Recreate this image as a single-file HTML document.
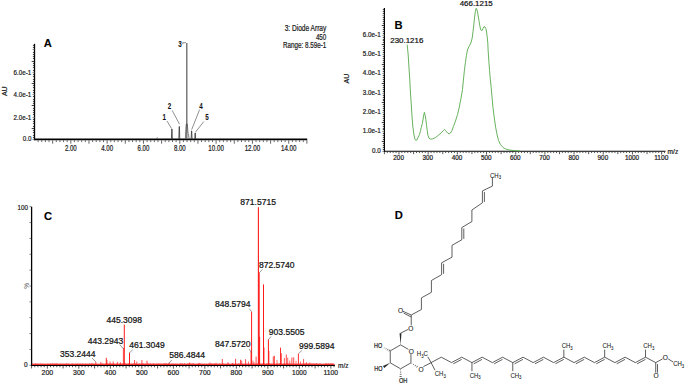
<!DOCTYPE html>
<html><head><meta charset="utf-8"><style>
html,body{margin:0;padding:0;background:#fff;}
svg{display:block;font-family:"Liberation Sans", sans-serif;}
</style></head><body>
<svg width="685" height="384" viewBox="0 0 685 384">
<rect width="685" height="384" fill="#fff"/>
<line x1="34.50" y1="43.80" x2="34.50" y2="140.30" stroke="#000" stroke-width="1.3"/>
<line x1="32.50" y1="139.50" x2="34.50" y2="139.50" stroke="#777" stroke-width="0.8"/>
<line x1="32.90" y1="137.50" x2="34.50" y2="137.50" stroke="#222" stroke-width="0.8"/>
<line x1="32.90" y1="135.50" x2="34.50" y2="135.50" stroke="#222" stroke-width="0.8"/>
<line x1="32.90" y1="132.50" x2="34.50" y2="132.50" stroke="#222" stroke-width="0.8"/>
<line x1="32.90" y1="130.50" x2="34.50" y2="130.50" stroke="#222" stroke-width="0.8"/>
<line x1="31.70" y1="128.50" x2="34.50" y2="128.50" stroke="#111" stroke-width="0.8"/>
<line x1="32.90" y1="126.50" x2="34.50" y2="126.50" stroke="#222" stroke-width="0.8"/>
<line x1="32.90" y1="123.50" x2="34.50" y2="123.50" stroke="#222" stroke-width="0.8"/>
<line x1="32.90" y1="121.50" x2="34.50" y2="121.50" stroke="#222" stroke-width="0.8"/>
<line x1="32.90" y1="119.50" x2="34.50" y2="119.50" stroke="#222" stroke-width="0.8"/>
<line x1="32.50" y1="117.50" x2="34.50" y2="117.50" stroke="#777" stroke-width="0.8"/>
<line x1="32.90" y1="114.50" x2="34.50" y2="114.50" stroke="#222" stroke-width="0.8"/>
<line x1="32.90" y1="112.50" x2="34.50" y2="112.50" stroke="#222" stroke-width="0.8"/>
<line x1="32.90" y1="110.50" x2="34.50" y2="110.50" stroke="#222" stroke-width="0.8"/>
<line x1="32.90" y1="108.50" x2="34.50" y2="108.50" stroke="#222" stroke-width="0.8"/>
<line x1="31.70" y1="105.50" x2="34.50" y2="105.50" stroke="#111" stroke-width="0.8"/>
<line x1="32.90" y1="103.50" x2="34.50" y2="103.50" stroke="#222" stroke-width="0.8"/>
<line x1="32.90" y1="101.50" x2="34.50" y2="101.50" stroke="#222" stroke-width="0.8"/>
<line x1="32.90" y1="99.50" x2="34.50" y2="99.50" stroke="#222" stroke-width="0.8"/>
<line x1="32.90" y1="96.50" x2="34.50" y2="96.50" stroke="#222" stroke-width="0.8"/>
<line x1="32.50" y1="94.50" x2="34.50" y2="94.50" stroke="#777" stroke-width="0.8"/>
<line x1="32.90" y1="92.50" x2="34.50" y2="92.50" stroke="#222" stroke-width="0.8"/>
<line x1="32.90" y1="90.50" x2="34.50" y2="90.50" stroke="#222" stroke-width="0.8"/>
<line x1="32.90" y1="87.50" x2="34.50" y2="87.50" stroke="#222" stroke-width="0.8"/>
<line x1="32.90" y1="85.50" x2="34.50" y2="85.50" stroke="#222" stroke-width="0.8"/>
<line x1="31.70" y1="83.50" x2="34.50" y2="83.50" stroke="#111" stroke-width="0.8"/>
<line x1="32.90" y1="81.50" x2="34.50" y2="81.50" stroke="#222" stroke-width="0.8"/>
<line x1="32.90" y1="79.50" x2="34.50" y2="79.50" stroke="#222" stroke-width="0.8"/>
<line x1="32.90" y1="76.50" x2="34.50" y2="76.50" stroke="#222" stroke-width="0.8"/>
<line x1="32.90" y1="74.50" x2="34.50" y2="74.50" stroke="#222" stroke-width="0.8"/>
<line x1="32.50" y1="72.50" x2="34.50" y2="72.50" stroke="#777" stroke-width="0.8"/>
<line x1="32.90" y1="70.50" x2="34.50" y2="70.50" stroke="#222" stroke-width="0.8"/>
<line x1="32.90" y1="67.50" x2="34.50" y2="67.50" stroke="#222" stroke-width="0.8"/>
<line x1="32.90" y1="65.50" x2="34.50" y2="65.50" stroke="#222" stroke-width="0.8"/>
<line x1="32.90" y1="63.50" x2="34.50" y2="63.50" stroke="#222" stroke-width="0.8"/>
<line x1="31.70" y1="61.50" x2="34.50" y2="61.50" stroke="#111" stroke-width="0.8"/>
<line x1="32.90" y1="58.50" x2="34.50" y2="58.50" stroke="#222" stroke-width="0.8"/>
<line x1="32.90" y1="56.50" x2="34.50" y2="56.50" stroke="#222" stroke-width="0.8"/>
<line x1="32.90" y1="54.50" x2="34.50" y2="54.50" stroke="#222" stroke-width="0.8"/>
<line x1="32.90" y1="52.50" x2="34.50" y2="52.50" stroke="#222" stroke-width="0.8"/>
<line x1="32.50" y1="49.50" x2="34.50" y2="49.50" stroke="#777" stroke-width="0.8"/>
<line x1="32.90" y1="47.50" x2="34.50" y2="47.50" stroke="#222" stroke-width="0.8"/>
<line x1="32.90" y1="45.50" x2="34.50" y2="45.50" stroke="#222" stroke-width="0.8"/>
<line x1="34.50" y1="139.40" x2="307.20" y2="139.40" stroke="#000" stroke-width="1.7"/>
<line x1="38.13" y1="140.30" x2="38.13" y2="142.10" stroke="#222" stroke-width="0.7"/>
<line x1="41.76" y1="140.30" x2="41.76" y2="142.10" stroke="#222" stroke-width="0.7"/>
<line x1="45.40" y1="140.30" x2="45.40" y2="142.10" stroke="#222" stroke-width="0.7"/>
<line x1="49.03" y1="140.30" x2="49.03" y2="142.10" stroke="#222" stroke-width="0.7"/>
<line x1="52.66" y1="140.30" x2="52.66" y2="143.70" stroke="#222" stroke-width="0.7"/>
<line x1="56.29" y1="140.30" x2="56.29" y2="142.10" stroke="#222" stroke-width="0.7"/>
<line x1="59.92" y1="140.30" x2="59.92" y2="142.10" stroke="#222" stroke-width="0.7"/>
<line x1="63.56" y1="140.30" x2="63.56" y2="142.10" stroke="#222" stroke-width="0.7"/>
<line x1="67.19" y1="140.30" x2="67.19" y2="142.10" stroke="#222" stroke-width="0.7"/>
<line x1="70.82" y1="140.30" x2="70.82" y2="143.70" stroke="#222" stroke-width="0.7"/>
<line x1="74.45" y1="140.30" x2="74.45" y2="142.10" stroke="#222" stroke-width="0.7"/>
<line x1="78.08" y1="140.30" x2="78.08" y2="142.10" stroke="#222" stroke-width="0.7"/>
<line x1="81.72" y1="140.30" x2="81.72" y2="142.10" stroke="#222" stroke-width="0.7"/>
<line x1="85.35" y1="140.30" x2="85.35" y2="142.10" stroke="#222" stroke-width="0.7"/>
<line x1="88.98" y1="140.30" x2="88.98" y2="143.70" stroke="#222" stroke-width="0.7"/>
<line x1="92.61" y1="140.30" x2="92.61" y2="142.10" stroke="#222" stroke-width="0.7"/>
<line x1="96.24" y1="140.30" x2="96.24" y2="142.10" stroke="#222" stroke-width="0.7"/>
<line x1="99.88" y1="140.30" x2="99.88" y2="142.10" stroke="#222" stroke-width="0.7"/>
<line x1="103.51" y1="140.30" x2="103.51" y2="142.10" stroke="#222" stroke-width="0.7"/>
<line x1="107.14" y1="140.30" x2="107.14" y2="143.70" stroke="#222" stroke-width="0.7"/>
<line x1="110.77" y1="140.30" x2="110.77" y2="142.10" stroke="#222" stroke-width="0.7"/>
<line x1="114.40" y1="140.30" x2="114.40" y2="142.10" stroke="#222" stroke-width="0.7"/>
<line x1="118.04" y1="140.30" x2="118.04" y2="142.10" stroke="#222" stroke-width="0.7"/>
<line x1="121.67" y1="140.30" x2="121.67" y2="142.10" stroke="#222" stroke-width="0.7"/>
<line x1="125.30" y1="140.30" x2="125.30" y2="143.70" stroke="#222" stroke-width="0.7"/>
<line x1="128.93" y1="140.30" x2="128.93" y2="142.10" stroke="#222" stroke-width="0.7"/>
<line x1="132.56" y1="140.30" x2="132.56" y2="142.10" stroke="#222" stroke-width="0.7"/>
<line x1="136.20" y1="140.30" x2="136.20" y2="142.10" stroke="#222" stroke-width="0.7"/>
<line x1="139.83" y1="140.30" x2="139.83" y2="142.10" stroke="#222" stroke-width="0.7"/>
<line x1="143.46" y1="140.30" x2="143.46" y2="143.70" stroke="#222" stroke-width="0.7"/>
<line x1="147.09" y1="140.30" x2="147.09" y2="142.10" stroke="#222" stroke-width="0.7"/>
<line x1="150.72" y1="140.30" x2="150.72" y2="142.10" stroke="#222" stroke-width="0.7"/>
<line x1="154.36" y1="140.30" x2="154.36" y2="142.10" stroke="#222" stroke-width="0.7"/>
<line x1="157.99" y1="140.30" x2="157.99" y2="142.10" stroke="#222" stroke-width="0.7"/>
<line x1="161.62" y1="140.30" x2="161.62" y2="143.70" stroke="#222" stroke-width="0.7"/>
<line x1="165.25" y1="140.30" x2="165.25" y2="142.10" stroke="#222" stroke-width="0.7"/>
<line x1="168.88" y1="140.30" x2="168.88" y2="142.10" stroke="#222" stroke-width="0.7"/>
<line x1="172.52" y1="140.30" x2="172.52" y2="142.10" stroke="#222" stroke-width="0.7"/>
<line x1="176.15" y1="140.30" x2="176.15" y2="142.10" stroke="#222" stroke-width="0.7"/>
<line x1="179.78" y1="140.30" x2="179.78" y2="143.70" stroke="#222" stroke-width="0.7"/>
<line x1="183.41" y1="140.30" x2="183.41" y2="142.10" stroke="#222" stroke-width="0.7"/>
<line x1="187.04" y1="140.30" x2="187.04" y2="142.10" stroke="#222" stroke-width="0.7"/>
<line x1="190.68" y1="140.30" x2="190.68" y2="142.10" stroke="#222" stroke-width="0.7"/>
<line x1="194.31" y1="140.30" x2="194.31" y2="142.10" stroke="#222" stroke-width="0.7"/>
<line x1="197.94" y1="140.30" x2="197.94" y2="143.70" stroke="#222" stroke-width="0.7"/>
<line x1="201.57" y1="140.30" x2="201.57" y2="142.10" stroke="#222" stroke-width="0.7"/>
<line x1="205.20" y1="140.30" x2="205.20" y2="142.10" stroke="#222" stroke-width="0.7"/>
<line x1="208.84" y1="140.30" x2="208.84" y2="142.10" stroke="#222" stroke-width="0.7"/>
<line x1="212.47" y1="140.30" x2="212.47" y2="142.10" stroke="#222" stroke-width="0.7"/>
<line x1="216.10" y1="140.30" x2="216.10" y2="143.70" stroke="#222" stroke-width="0.7"/>
<line x1="219.73" y1="140.30" x2="219.73" y2="142.10" stroke="#222" stroke-width="0.7"/>
<line x1="223.36" y1="140.30" x2="223.36" y2="142.10" stroke="#222" stroke-width="0.7"/>
<line x1="227.00" y1="140.30" x2="227.00" y2="142.10" stroke="#222" stroke-width="0.7"/>
<line x1="230.63" y1="140.30" x2="230.63" y2="142.10" stroke="#222" stroke-width="0.7"/>
<line x1="234.26" y1="140.30" x2="234.26" y2="143.70" stroke="#222" stroke-width="0.7"/>
<line x1="237.89" y1="140.30" x2="237.89" y2="142.10" stroke="#222" stroke-width="0.7"/>
<line x1="241.52" y1="140.30" x2="241.52" y2="142.10" stroke="#222" stroke-width="0.7"/>
<line x1="245.16" y1="140.30" x2="245.16" y2="142.10" stroke="#222" stroke-width="0.7"/>
<line x1="248.79" y1="140.30" x2="248.79" y2="142.10" stroke="#222" stroke-width="0.7"/>
<line x1="252.42" y1="140.30" x2="252.42" y2="143.70" stroke="#222" stroke-width="0.7"/>
<line x1="256.05" y1="140.30" x2="256.05" y2="142.10" stroke="#222" stroke-width="0.7"/>
<line x1="259.68" y1="140.30" x2="259.68" y2="142.10" stroke="#222" stroke-width="0.7"/>
<line x1="263.32" y1="140.30" x2="263.32" y2="142.10" stroke="#222" stroke-width="0.7"/>
<line x1="266.95" y1="140.30" x2="266.95" y2="142.10" stroke="#222" stroke-width="0.7"/>
<line x1="270.58" y1="140.30" x2="270.58" y2="143.70" stroke="#222" stroke-width="0.7"/>
<line x1="274.21" y1="140.30" x2="274.21" y2="142.10" stroke="#222" stroke-width="0.7"/>
<line x1="277.84" y1="140.30" x2="277.84" y2="142.10" stroke="#222" stroke-width="0.7"/>
<line x1="281.48" y1="140.30" x2="281.48" y2="142.10" stroke="#222" stroke-width="0.7"/>
<line x1="285.11" y1="140.30" x2="285.11" y2="142.10" stroke="#222" stroke-width="0.7"/>
<line x1="288.74" y1="140.30" x2="288.74" y2="143.70" stroke="#222" stroke-width="0.7"/>
<line x1="292.37" y1="140.30" x2="292.37" y2="142.10" stroke="#222" stroke-width="0.7"/>
<line x1="296.00" y1="140.30" x2="296.00" y2="142.10" stroke="#222" stroke-width="0.7"/>
<line x1="299.64" y1="140.30" x2="299.64" y2="142.10" stroke="#222" stroke-width="0.7"/>
<line x1="303.27" y1="140.30" x2="303.27" y2="142.10" stroke="#222" stroke-width="0.7"/>
<line x1="306.90" y1="140.30" x2="306.90" y2="143.70" stroke="#222" stroke-width="0.7"/>
<text x="31.30" y="75.13" font-size="7.8" text-anchor="end" fill="#1a1a1a" stroke="#1a1a1a" stroke-width="0.22" textLength="17.70" lengthAdjust="spacingAndGlyphs">6.0e-1</text>
<text x="31.30" y="97.03" font-size="7.8" text-anchor="end" fill="#1a1a1a" stroke="#1a1a1a" stroke-width="0.22" textLength="17.70" lengthAdjust="spacingAndGlyphs">4.0e-1</text>
<text x="31.30" y="119.63" font-size="7.8" text-anchor="end" fill="#1a1a1a" stroke="#1a1a1a" stroke-width="0.22" textLength="17.70" lengthAdjust="spacingAndGlyphs">2.0e-1</text>
<text x="31.50" y="141.13" font-size="7.8" text-anchor="end" fill="#1a1a1a" stroke="#1a1a1a" stroke-width="0.22" textLength="8.70" lengthAdjust="spacingAndGlyphs">0.0</text>
<text x="4.60" y="93.65" font-size="7.0" text-anchor="middle" fill="#1a1a1a" stroke="#1a1a1a" stroke-width="0.22" transform="rotate(-90 4.60 91.20)">AU</text>
<text x="70.82" y="150.50" font-size="8.3" text-anchor="middle" fill="#1a1a1a" stroke="#1a1a1a" stroke-width="0.22" textLength="11.80" lengthAdjust="spacingAndGlyphs">2.00</text>
<text x="107.14" y="150.50" font-size="8.3" text-anchor="middle" fill="#1a1a1a" stroke="#1a1a1a" stroke-width="0.22" textLength="11.80" lengthAdjust="spacingAndGlyphs">4.00</text>
<text x="143.46" y="150.50" font-size="8.3" text-anchor="middle" fill="#1a1a1a" stroke="#1a1a1a" stroke-width="0.22" textLength="11.80" lengthAdjust="spacingAndGlyphs">6.00</text>
<text x="179.78" y="150.50" font-size="8.3" text-anchor="middle" fill="#1a1a1a" stroke="#1a1a1a" stroke-width="0.22" textLength="11.80" lengthAdjust="spacingAndGlyphs">8.00</text>
<text x="216.10" y="150.50" font-size="8.3" text-anchor="middle" fill="#1a1a1a" stroke="#1a1a1a" stroke-width="0.22" textLength="15.50" lengthAdjust="spacingAndGlyphs">10.00</text>
<text x="252.42" y="150.50" font-size="8.3" text-anchor="middle" fill="#1a1a1a" stroke="#1a1a1a" stroke-width="0.22" textLength="15.50" lengthAdjust="spacingAndGlyphs">12.00</text>
<text x="288.74" y="150.50" font-size="8.3" text-anchor="middle" fill="#1a1a1a" stroke="#1a1a1a" stroke-width="0.22" textLength="15.50" lengthAdjust="spacingAndGlyphs">14.00</text>
<text x="43.80" y="46.92" font-size="11.2" text-anchor="start" fill="#000" stroke="#000" stroke-width="0.1" font-weight="bold">A</text>
<text x="326.30" y="30.94" font-size="8.4" text-anchor="end" fill="#1a1a1a" stroke="#1a1a1a" stroke-width="0.22" textLength="41.60" lengthAdjust="spacingAndGlyphs">3: Diode Array</text>
<text x="326.30" y="39.54" font-size="8.4" text-anchor="end" fill="#1a1a1a" stroke="#1a1a1a" stroke-width="0.22" textLength="10.40" lengthAdjust="spacingAndGlyphs">450</text>
<text x="326.30" y="47.94" font-size="8.4" text-anchor="end" fill="#1a1a1a" stroke="#1a1a1a" stroke-width="0.22" textLength="43.20" lengthAdjust="spacingAndGlyphs">Range: 8.59e-1</text>
<polyline points="171.45,138.90 171.80,129.00 172.00,129.00 172.35,138.90" fill="none" stroke="#333" stroke-width="0.8" stroke-linejoin="round"/>
<polyline points="178.85,138.90 179.20,126.50 179.40,126.50 179.75,138.90" fill="none" stroke="#333" stroke-width="0.8" stroke-linejoin="round"/>
<polyline points="191.15,138.90 191.50,130.90 191.70,130.90 192.05,138.90" fill="none" stroke="#333" stroke-width="0.8" stroke-linejoin="round"/>
<polyline points="194.75,138.90 195.10,133.00 195.30,133.00 195.65,138.90" fill="none" stroke="#333" stroke-width="0.8" stroke-linejoin="round"/>
<polyline points="156.40,138.90 157.10,137.60 157.30,137.60 158.00,138.90" fill="none" stroke="#666" stroke-width="0.6" stroke-linejoin="round"/>
<line x1="186.80" y1="42.90" x2="186.80" y2="139.00" stroke="#666" stroke-width="1.3"/>
<polyline points="185.40,138.90 185.80,129.50 186.30,124.00 187.30,124.00 187.70,129.00 188.10,133.50 188.60,135.00 189.10,138.90" fill="none" stroke="#444" stroke-width="0.7" stroke-linejoin="round"/>
<line x1="167.00" y1="121.00" x2="171.60" y2="128.60" stroke="#333" stroke-width="0.55"/>
<line x1="172.20" y1="110.40" x2="179.50" y2="124.20" stroke="#333" stroke-width="0.55"/>
<line x1="182.60" y1="42.70" x2="186.00" y2="42.70" stroke="#333" stroke-width="0.55"/>
<line x1="182.60" y1="42.70" x2="183.00" y2="44.20" stroke="#333" stroke-width="0.55"/>
<line x1="199.60" y1="109.60" x2="191.70" y2="129.60" stroke="#333" stroke-width="0.55"/>
<line x1="203.80" y1="121.50" x2="195.30" y2="132.40" stroke="#333" stroke-width="0.55"/>
<text x="164.20" y="120.28" font-size="8.8" text-anchor="middle" fill="#111" stroke="#111" stroke-width="0.05" font-weight="bold" textLength="3.50" lengthAdjust="spacingAndGlyphs">1</text>
<text x="169.40" y="109.08" font-size="8.8" text-anchor="middle" fill="#111" stroke="#111" stroke-width="0.05" font-weight="bold" textLength="3.50" lengthAdjust="spacingAndGlyphs">2</text>
<text x="179.90" y="46.68" font-size="8.8" text-anchor="middle" fill="#111" stroke="#111" stroke-width="0.05" font-weight="bold" textLength="3.50" lengthAdjust="spacingAndGlyphs">3</text>
<text x="201.00" y="109.08" font-size="8.8" text-anchor="middle" fill="#111" stroke="#111" stroke-width="0.05" font-weight="bold" textLength="3.50" lengthAdjust="spacingAndGlyphs">4</text>
<text x="206.90" y="120.08" font-size="8.8" text-anchor="middle" fill="#111" stroke="#111" stroke-width="0.05" font-weight="bold" textLength="3.50" lengthAdjust="spacingAndGlyphs">5</text>
<line x1="384.40" y1="7.90" x2="384.40" y2="152.05" stroke="#000" stroke-width="1.2"/>
<line x1="382.40" y1="151.50" x2="384.40" y2="151.50" stroke="#777" stroke-width="0.8"/>
<line x1="382.80" y1="149.50" x2="384.40" y2="149.50" stroke="#222" stroke-width="0.8"/>
<line x1="382.80" y1="147.50" x2="384.40" y2="147.50" stroke="#222" stroke-width="0.8"/>
<line x1="382.80" y1="145.50" x2="384.40" y2="145.50" stroke="#222" stroke-width="0.8"/>
<line x1="382.80" y1="143.50" x2="384.40" y2="143.50" stroke="#222" stroke-width="0.8"/>
<line x1="381.80" y1="141.50" x2="384.40" y2="141.50" stroke="#111" stroke-width="0.8"/>
<line x1="382.80" y1="139.50" x2="384.40" y2="139.50" stroke="#222" stroke-width="0.8"/>
<line x1="382.80" y1="137.50" x2="384.40" y2="137.50" stroke="#222" stroke-width="0.8"/>
<line x1="382.80" y1="135.50" x2="384.40" y2="135.50" stroke="#222" stroke-width="0.8"/>
<line x1="382.80" y1="133.50" x2="384.40" y2="133.50" stroke="#222" stroke-width="0.8"/>
<line x1="382.40" y1="131.50" x2="384.40" y2="131.50" stroke="#777" stroke-width="0.8"/>
<line x1="382.80" y1="129.50" x2="384.40" y2="129.50" stroke="#222" stroke-width="0.8"/>
<line x1="382.80" y1="128.50" x2="384.40" y2="128.50" stroke="#222" stroke-width="0.8"/>
<line x1="382.80" y1="126.50" x2="384.40" y2="126.50" stroke="#222" stroke-width="0.8"/>
<line x1="382.80" y1="124.50" x2="384.40" y2="124.50" stroke="#222" stroke-width="0.8"/>
<line x1="381.80" y1="122.50" x2="384.40" y2="122.50" stroke="#111" stroke-width="0.8"/>
<line x1="382.80" y1="120.50" x2="384.40" y2="120.50" stroke="#222" stroke-width="0.8"/>
<line x1="382.80" y1="118.50" x2="384.40" y2="118.50" stroke="#222" stroke-width="0.8"/>
<line x1="382.80" y1="116.50" x2="384.40" y2="116.50" stroke="#222" stroke-width="0.8"/>
<line x1="382.80" y1="114.50" x2="384.40" y2="114.50" stroke="#222" stroke-width="0.8"/>
<line x1="382.40" y1="112.50" x2="384.40" y2="112.50" stroke="#777" stroke-width="0.8"/>
<line x1="382.80" y1="110.50" x2="384.40" y2="110.50" stroke="#222" stroke-width="0.8"/>
<line x1="382.80" y1="108.50" x2="384.40" y2="108.50" stroke="#222" stroke-width="0.8"/>
<line x1="382.80" y1="106.50" x2="384.40" y2="106.50" stroke="#222" stroke-width="0.8"/>
<line x1="382.80" y1="104.50" x2="384.40" y2="104.50" stroke="#222" stroke-width="0.8"/>
<line x1="381.80" y1="102.50" x2="384.40" y2="102.50" stroke="#111" stroke-width="0.8"/>
<line x1="382.80" y1="100.50" x2="384.40" y2="100.50" stroke="#222" stroke-width="0.8"/>
<line x1="382.80" y1="99.50" x2="384.40" y2="99.50" stroke="#222" stroke-width="0.8"/>
<line x1="382.80" y1="97.50" x2="384.40" y2="97.50" stroke="#222" stroke-width="0.8"/>
<line x1="382.80" y1="95.50" x2="384.40" y2="95.50" stroke="#222" stroke-width="0.8"/>
<line x1="382.40" y1="93.50" x2="384.40" y2="93.50" stroke="#777" stroke-width="0.8"/>
<line x1="382.80" y1="91.50" x2="384.40" y2="91.50" stroke="#222" stroke-width="0.8"/>
<line x1="382.80" y1="89.50" x2="384.40" y2="89.50" stroke="#222" stroke-width="0.8"/>
<line x1="382.80" y1="87.50" x2="384.40" y2="87.50" stroke="#222" stroke-width="0.8"/>
<line x1="382.80" y1="85.50" x2="384.40" y2="85.50" stroke="#222" stroke-width="0.8"/>
<line x1="381.80" y1="83.50" x2="384.40" y2="83.50" stroke="#111" stroke-width="0.8"/>
<line x1="382.80" y1="81.50" x2="384.40" y2="81.50" stroke="#222" stroke-width="0.8"/>
<line x1="382.80" y1="79.50" x2="384.40" y2="79.50" stroke="#222" stroke-width="0.8"/>
<line x1="382.80" y1="77.50" x2="384.40" y2="77.50" stroke="#222" stroke-width="0.8"/>
<line x1="382.80" y1="75.50" x2="384.40" y2="75.50" stroke="#222" stroke-width="0.8"/>
<line x1="382.40" y1="73.50" x2="384.40" y2="73.50" stroke="#777" stroke-width="0.8"/>
<line x1="382.80" y1="71.50" x2="384.40" y2="71.50" stroke="#222" stroke-width="0.8"/>
<line x1="382.80" y1="69.50" x2="384.40" y2="69.50" stroke="#222" stroke-width="0.8"/>
<line x1="382.80" y1="68.50" x2="384.40" y2="68.50" stroke="#222" stroke-width="0.8"/>
<line x1="382.80" y1="66.50" x2="384.40" y2="66.50" stroke="#222" stroke-width="0.8"/>
<line x1="381.80" y1="64.50" x2="384.40" y2="64.50" stroke="#111" stroke-width="0.8"/>
<line x1="382.80" y1="62.50" x2="384.40" y2="62.50" stroke="#222" stroke-width="0.8"/>
<line x1="382.80" y1="60.50" x2="384.40" y2="60.50" stroke="#222" stroke-width="0.8"/>
<line x1="382.80" y1="58.50" x2="384.40" y2="58.50" stroke="#222" stroke-width="0.8"/>
<line x1="382.80" y1="56.50" x2="384.40" y2="56.50" stroke="#222" stroke-width="0.8"/>
<line x1="382.40" y1="54.50" x2="384.40" y2="54.50" stroke="#777" stroke-width="0.8"/>
<line x1="382.80" y1="52.50" x2="384.40" y2="52.50" stroke="#222" stroke-width="0.8"/>
<line x1="382.80" y1="50.50" x2="384.40" y2="50.50" stroke="#222" stroke-width="0.8"/>
<line x1="382.80" y1="48.50" x2="384.40" y2="48.50" stroke="#222" stroke-width="0.8"/>
<line x1="382.80" y1="46.50" x2="384.40" y2="46.50" stroke="#222" stroke-width="0.8"/>
<line x1="381.80" y1="44.50" x2="384.40" y2="44.50" stroke="#111" stroke-width="0.8"/>
<line x1="382.80" y1="42.50" x2="384.40" y2="42.50" stroke="#222" stroke-width="0.8"/>
<line x1="382.80" y1="40.50" x2="384.40" y2="40.50" stroke="#222" stroke-width="0.8"/>
<line x1="382.80" y1="39.50" x2="384.40" y2="39.50" stroke="#222" stroke-width="0.8"/>
<line x1="382.80" y1="37.50" x2="384.40" y2="37.50" stroke="#222" stroke-width="0.8"/>
<line x1="382.40" y1="35.50" x2="384.40" y2="35.50" stroke="#777" stroke-width="0.8"/>
<line x1="382.80" y1="33.50" x2="384.40" y2="33.50" stroke="#222" stroke-width="0.8"/>
<line x1="382.80" y1="31.50" x2="384.40" y2="31.50" stroke="#222" stroke-width="0.8"/>
<line x1="382.80" y1="29.50" x2="384.40" y2="29.50" stroke="#222" stroke-width="0.8"/>
<line x1="382.80" y1="27.50" x2="384.40" y2="27.50" stroke="#222" stroke-width="0.8"/>
<line x1="381.80" y1="25.50" x2="384.40" y2="25.50" stroke="#111" stroke-width="0.8"/>
<line x1="382.80" y1="23.50" x2="384.40" y2="23.50" stroke="#222" stroke-width="0.8"/>
<line x1="382.80" y1="21.50" x2="384.40" y2="21.50" stroke="#222" stroke-width="0.8"/>
<line x1="382.80" y1="19.50" x2="384.40" y2="19.50" stroke="#222" stroke-width="0.8"/>
<line x1="382.80" y1="17.50" x2="384.40" y2="17.50" stroke="#222" stroke-width="0.8"/>
<line x1="382.40" y1="15.50" x2="384.40" y2="15.50" stroke="#777" stroke-width="0.8"/>
<line x1="382.80" y1="13.50" x2="384.40" y2="13.50" stroke="#222" stroke-width="0.8"/>
<line x1="382.80" y1="11.50" x2="384.40" y2="11.50" stroke="#222" stroke-width="0.8"/>
<line x1="382.80" y1="9.50" x2="384.40" y2="9.50" stroke="#222" stroke-width="0.8"/>
<line x1="384.40" y1="151.25" x2="665.50" y2="151.25" stroke="#000" stroke-width="1.15"/>
<line x1="384.40" y1="151.75" x2="384.40" y2="154.15" stroke="#222" stroke-width="0.75"/>
<line x1="387.32" y1="151.75" x2="387.32" y2="153.05" stroke="#222" stroke-width="0.75"/>
<line x1="390.24" y1="151.75" x2="390.24" y2="153.05" stroke="#222" stroke-width="0.75"/>
<line x1="393.15" y1="151.75" x2="393.15" y2="153.05" stroke="#222" stroke-width="0.75"/>
<line x1="396.07" y1="151.75" x2="396.07" y2="153.05" stroke="#222" stroke-width="0.75"/>
<line x1="398.99" y1="151.75" x2="398.99" y2="154.55" stroke="#222" stroke-width="0.75"/>
<line x1="401.91" y1="151.75" x2="401.91" y2="153.05" stroke="#222" stroke-width="0.75"/>
<line x1="404.83" y1="151.75" x2="404.83" y2="153.05" stroke="#222" stroke-width="0.75"/>
<line x1="407.74" y1="151.75" x2="407.74" y2="153.05" stroke="#222" stroke-width="0.75"/>
<line x1="410.66" y1="151.75" x2="410.66" y2="153.05" stroke="#222" stroke-width="0.75"/>
<line x1="413.58" y1="151.75" x2="413.58" y2="154.15" stroke="#222" stroke-width="0.75"/>
<line x1="416.50" y1="151.75" x2="416.50" y2="153.05" stroke="#222" stroke-width="0.75"/>
<line x1="419.42" y1="151.75" x2="419.42" y2="153.05" stroke="#222" stroke-width="0.75"/>
<line x1="422.33" y1="151.75" x2="422.33" y2="153.05" stroke="#222" stroke-width="0.75"/>
<line x1="425.25" y1="151.75" x2="425.25" y2="153.05" stroke="#222" stroke-width="0.75"/>
<line x1="428.17" y1="151.75" x2="428.17" y2="154.55" stroke="#222" stroke-width="0.75"/>
<line x1="431.09" y1="151.75" x2="431.09" y2="153.05" stroke="#222" stroke-width="0.75"/>
<line x1="434.01" y1="151.75" x2="434.01" y2="153.05" stroke="#222" stroke-width="0.75"/>
<line x1="436.92" y1="151.75" x2="436.92" y2="153.05" stroke="#222" stroke-width="0.75"/>
<line x1="439.84" y1="151.75" x2="439.84" y2="153.05" stroke="#222" stroke-width="0.75"/>
<line x1="442.76" y1="151.75" x2="442.76" y2="154.15" stroke="#222" stroke-width="0.75"/>
<line x1="445.68" y1="151.75" x2="445.68" y2="153.05" stroke="#222" stroke-width="0.75"/>
<line x1="448.60" y1="151.75" x2="448.60" y2="153.05" stroke="#222" stroke-width="0.75"/>
<line x1="451.51" y1="151.75" x2="451.51" y2="153.05" stroke="#222" stroke-width="0.75"/>
<line x1="454.43" y1="151.75" x2="454.43" y2="153.05" stroke="#222" stroke-width="0.75"/>
<line x1="457.35" y1="151.75" x2="457.35" y2="154.55" stroke="#222" stroke-width="0.75"/>
<line x1="460.27" y1="151.75" x2="460.27" y2="153.05" stroke="#222" stroke-width="0.75"/>
<line x1="463.19" y1="151.75" x2="463.19" y2="153.05" stroke="#222" stroke-width="0.75"/>
<line x1="466.10" y1="151.75" x2="466.10" y2="153.05" stroke="#222" stroke-width="0.75"/>
<line x1="469.02" y1="151.75" x2="469.02" y2="153.05" stroke="#222" stroke-width="0.75"/>
<line x1="471.94" y1="151.75" x2="471.94" y2="154.15" stroke="#222" stroke-width="0.75"/>
<line x1="474.86" y1="151.75" x2="474.86" y2="153.05" stroke="#222" stroke-width="0.75"/>
<line x1="477.78" y1="151.75" x2="477.78" y2="153.05" stroke="#222" stroke-width="0.75"/>
<line x1="480.69" y1="151.75" x2="480.69" y2="153.05" stroke="#222" stroke-width="0.75"/>
<line x1="483.61" y1="151.75" x2="483.61" y2="153.05" stroke="#222" stroke-width="0.75"/>
<line x1="486.53" y1="151.75" x2="486.53" y2="154.55" stroke="#222" stroke-width="0.75"/>
<line x1="489.45" y1="151.75" x2="489.45" y2="153.05" stroke="#222" stroke-width="0.75"/>
<line x1="492.37" y1="151.75" x2="492.37" y2="153.05" stroke="#222" stroke-width="0.75"/>
<line x1="495.28" y1="151.75" x2="495.28" y2="153.05" stroke="#222" stroke-width="0.75"/>
<line x1="498.20" y1="151.75" x2="498.20" y2="153.05" stroke="#222" stroke-width="0.75"/>
<line x1="501.12" y1="151.75" x2="501.12" y2="154.15" stroke="#222" stroke-width="0.75"/>
<line x1="504.04" y1="151.75" x2="504.04" y2="153.05" stroke="#222" stroke-width="0.75"/>
<line x1="506.96" y1="151.75" x2="506.96" y2="153.05" stroke="#222" stroke-width="0.75"/>
<line x1="509.87" y1="151.75" x2="509.87" y2="153.05" stroke="#222" stroke-width="0.75"/>
<line x1="512.79" y1="151.75" x2="512.79" y2="153.05" stroke="#222" stroke-width="0.75"/>
<line x1="515.71" y1="151.75" x2="515.71" y2="154.55" stroke="#222" stroke-width="0.75"/>
<line x1="518.63" y1="151.75" x2="518.63" y2="153.05" stroke="#222" stroke-width="0.75"/>
<line x1="521.55" y1="151.75" x2="521.55" y2="153.05" stroke="#222" stroke-width="0.75"/>
<line x1="524.46" y1="151.75" x2="524.46" y2="153.05" stroke="#222" stroke-width="0.75"/>
<line x1="527.38" y1="151.75" x2="527.38" y2="153.05" stroke="#222" stroke-width="0.75"/>
<line x1="530.30" y1="151.75" x2="530.30" y2="154.15" stroke="#222" stroke-width="0.75"/>
<line x1="533.22" y1="151.75" x2="533.22" y2="153.05" stroke="#222" stroke-width="0.75"/>
<line x1="536.14" y1="151.75" x2="536.14" y2="153.05" stroke="#222" stroke-width="0.75"/>
<line x1="539.05" y1="151.75" x2="539.05" y2="153.05" stroke="#222" stroke-width="0.75"/>
<line x1="541.97" y1="151.75" x2="541.97" y2="153.05" stroke="#222" stroke-width="0.75"/>
<line x1="544.89" y1="151.75" x2="544.89" y2="154.55" stroke="#222" stroke-width="0.75"/>
<line x1="547.81" y1="151.75" x2="547.81" y2="153.05" stroke="#222" stroke-width="0.75"/>
<line x1="550.73" y1="151.75" x2="550.73" y2="153.05" stroke="#222" stroke-width="0.75"/>
<line x1="553.64" y1="151.75" x2="553.64" y2="153.05" stroke="#222" stroke-width="0.75"/>
<line x1="556.56" y1="151.75" x2="556.56" y2="153.05" stroke="#222" stroke-width="0.75"/>
<line x1="559.48" y1="151.75" x2="559.48" y2="154.15" stroke="#222" stroke-width="0.75"/>
<line x1="562.40" y1="151.75" x2="562.40" y2="153.05" stroke="#222" stroke-width="0.75"/>
<line x1="565.32" y1="151.75" x2="565.32" y2="153.05" stroke="#222" stroke-width="0.75"/>
<line x1="568.23" y1="151.75" x2="568.23" y2="153.05" stroke="#222" stroke-width="0.75"/>
<line x1="571.15" y1="151.75" x2="571.15" y2="153.05" stroke="#222" stroke-width="0.75"/>
<line x1="574.07" y1="151.75" x2="574.07" y2="154.55" stroke="#222" stroke-width="0.75"/>
<line x1="576.99" y1="151.75" x2="576.99" y2="153.05" stroke="#222" stroke-width="0.75"/>
<line x1="579.91" y1="151.75" x2="579.91" y2="153.05" stroke="#222" stroke-width="0.75"/>
<line x1="582.82" y1="151.75" x2="582.82" y2="153.05" stroke="#222" stroke-width="0.75"/>
<line x1="585.74" y1="151.75" x2="585.74" y2="153.05" stroke="#222" stroke-width="0.75"/>
<line x1="588.66" y1="151.75" x2="588.66" y2="154.15" stroke="#222" stroke-width="0.75"/>
<line x1="591.58" y1="151.75" x2="591.58" y2="153.05" stroke="#222" stroke-width="0.75"/>
<line x1="594.50" y1="151.75" x2="594.50" y2="153.05" stroke="#222" stroke-width="0.75"/>
<line x1="597.41" y1="151.75" x2="597.41" y2="153.05" stroke="#222" stroke-width="0.75"/>
<line x1="600.33" y1="151.75" x2="600.33" y2="153.05" stroke="#222" stroke-width="0.75"/>
<line x1="603.25" y1="151.75" x2="603.25" y2="154.55" stroke="#222" stroke-width="0.75"/>
<line x1="606.17" y1="151.75" x2="606.17" y2="153.05" stroke="#222" stroke-width="0.75"/>
<line x1="609.09" y1="151.75" x2="609.09" y2="153.05" stroke="#222" stroke-width="0.75"/>
<line x1="612.00" y1="151.75" x2="612.00" y2="153.05" stroke="#222" stroke-width="0.75"/>
<line x1="614.92" y1="151.75" x2="614.92" y2="153.05" stroke="#222" stroke-width="0.75"/>
<line x1="617.84" y1="151.75" x2="617.84" y2="154.15" stroke="#222" stroke-width="0.75"/>
<line x1="620.76" y1="151.75" x2="620.76" y2="153.05" stroke="#222" stroke-width="0.75"/>
<line x1="623.68" y1="151.75" x2="623.68" y2="153.05" stroke="#222" stroke-width="0.75"/>
<line x1="626.59" y1="151.75" x2="626.59" y2="153.05" stroke="#222" stroke-width="0.75"/>
<line x1="629.51" y1="151.75" x2="629.51" y2="153.05" stroke="#222" stroke-width="0.75"/>
<line x1="632.43" y1="151.75" x2="632.43" y2="154.55" stroke="#222" stroke-width="0.75"/>
<line x1="635.35" y1="151.75" x2="635.35" y2="153.05" stroke="#222" stroke-width="0.75"/>
<line x1="638.27" y1="151.75" x2="638.27" y2="153.05" stroke="#222" stroke-width="0.75"/>
<line x1="641.18" y1="151.75" x2="641.18" y2="153.05" stroke="#222" stroke-width="0.75"/>
<line x1="644.10" y1="151.75" x2="644.10" y2="153.05" stroke="#222" stroke-width="0.75"/>
<line x1="647.02" y1="151.75" x2="647.02" y2="154.15" stroke="#222" stroke-width="0.75"/>
<line x1="649.94" y1="151.75" x2="649.94" y2="153.05" stroke="#222" stroke-width="0.75"/>
<line x1="652.86" y1="151.75" x2="652.86" y2="153.05" stroke="#222" stroke-width="0.75"/>
<line x1="655.77" y1="151.75" x2="655.77" y2="153.05" stroke="#222" stroke-width="0.75"/>
<line x1="658.69" y1="151.75" x2="658.69" y2="153.05" stroke="#222" stroke-width="0.75"/>
<line x1="661.61" y1="151.75" x2="661.61" y2="154.55" stroke="#222" stroke-width="0.75"/>
<line x1="664.53" y1="151.75" x2="664.53" y2="153.05" stroke="#222" stroke-width="0.75"/>
<text x="380.80" y="152.75" font-size="7.0" text-anchor="end" fill="#1a1a1a" stroke="#1a1a1a" stroke-width="0.22" textLength="8.80" lengthAdjust="spacingAndGlyphs">0.0</text>
<text x="380.70" y="133.45" font-size="7.0" text-anchor="end" fill="#1a1a1a" stroke="#1a1a1a" stroke-width="0.22" textLength="17.90" lengthAdjust="spacingAndGlyphs">1.0e-1</text>
<text x="380.70" y="114.10" font-size="7.0" text-anchor="end" fill="#1a1a1a" stroke="#1a1a1a" stroke-width="0.22" textLength="17.90" lengthAdjust="spacingAndGlyphs">2.0e-1</text>
<text x="380.70" y="94.75" font-size="7.0" text-anchor="end" fill="#1a1a1a" stroke="#1a1a1a" stroke-width="0.22" textLength="17.90" lengthAdjust="spacingAndGlyphs">3.0e-1</text>
<text x="380.70" y="75.40" font-size="7.0" text-anchor="end" fill="#1a1a1a" stroke="#1a1a1a" stroke-width="0.22" textLength="17.90" lengthAdjust="spacingAndGlyphs">4.0e-1</text>
<text x="380.70" y="56.05" font-size="7.0" text-anchor="end" fill="#1a1a1a" stroke="#1a1a1a" stroke-width="0.22" textLength="17.90" lengthAdjust="spacingAndGlyphs">5.0e-1</text>
<text x="380.70" y="36.70" font-size="7.0" text-anchor="end" fill="#1a1a1a" stroke="#1a1a1a" stroke-width="0.22" textLength="17.90" lengthAdjust="spacingAndGlyphs">6.0e-1</text>
<text x="347.00" y="81.05" font-size="7.0" text-anchor="middle" fill="#1a1a1a" stroke="#1a1a1a" stroke-width="0.22" transform="rotate(-90 347.00 78.60)">AU</text>
<text x="398.64" y="159.75" font-size="6.7" text-anchor="middle" fill="#1a1a1a" stroke="#1a1a1a" stroke-width="0.22" textLength="10.60" lengthAdjust="spacingAndGlyphs">200</text>
<text x="427.82" y="159.75" font-size="6.7" text-anchor="middle" fill="#1a1a1a" stroke="#1a1a1a" stroke-width="0.22" textLength="10.60" lengthAdjust="spacingAndGlyphs">300</text>
<text x="457.00" y="159.75" font-size="6.7" text-anchor="middle" fill="#1a1a1a" stroke="#1a1a1a" stroke-width="0.22" textLength="10.60" lengthAdjust="spacingAndGlyphs">400</text>
<text x="486.18" y="159.75" font-size="6.7" text-anchor="middle" fill="#1a1a1a" stroke="#1a1a1a" stroke-width="0.22" textLength="10.60" lengthAdjust="spacingAndGlyphs">500</text>
<text x="515.36" y="159.75" font-size="6.7" text-anchor="middle" fill="#1a1a1a" stroke="#1a1a1a" stroke-width="0.22" textLength="10.60" lengthAdjust="spacingAndGlyphs">600</text>
<text x="544.54" y="159.75" font-size="6.7" text-anchor="middle" fill="#1a1a1a" stroke="#1a1a1a" stroke-width="0.22" textLength="10.60" lengthAdjust="spacingAndGlyphs">700</text>
<text x="573.72" y="159.75" font-size="6.7" text-anchor="middle" fill="#1a1a1a" stroke="#1a1a1a" stroke-width="0.22" textLength="10.60" lengthAdjust="spacingAndGlyphs">800</text>
<text x="602.90" y="159.75" font-size="6.7" text-anchor="middle" fill="#1a1a1a" stroke="#1a1a1a" stroke-width="0.22" textLength="10.60" lengthAdjust="spacingAndGlyphs">900</text>
<text x="632.08" y="159.75" font-size="6.7" text-anchor="middle" fill="#1a1a1a" stroke="#1a1a1a" stroke-width="0.22" textLength="14.20" lengthAdjust="spacingAndGlyphs">1000</text>
<text x="661.26" y="159.75" font-size="6.7" text-anchor="middle" fill="#1a1a1a" stroke="#1a1a1a" stroke-width="0.22" textLength="14.20" lengthAdjust="spacingAndGlyphs">1100</text>
<text x="667.60" y="153.58" font-size="6.8" text-anchor="start" fill="#1a1a1a" stroke="#1a1a1a" stroke-width="0.22" textLength="10.60" lengthAdjust="spacingAndGlyphs">m/z</text>
<text x="394.50" y="28.72" font-size="11.2" text-anchor="start" fill="#000" stroke="#000" stroke-width="0.1" font-weight="bold">B</text>
<text x="390.30" y="43.37" font-size="7.9" text-anchor="start" fill="#111" stroke="#111" stroke-width="0.22" textLength="33.00" lengthAdjust="spacingAndGlyphs">230.1216</text>
<text x="459.70" y="6.17" font-size="7.9" text-anchor="start" fill="#111" stroke="#111" stroke-width="0.22" textLength="33.00" lengthAdjust="spacingAndGlyphs">466.1215</text>
<polyline points="407.20,44.60 408.20,55.00 409.00,68.00 409.80,80.00 410.40,92.00 411.40,106.00 412.00,116.00 412.80,126.00 413.80,134.00 414.80,138.80 415.80,140.40 416.80,140.00 418.00,137.60 419.50,134.50 420.60,130.50 421.20,127.50 422.40,123.40 423.60,116.00 424.40,112.30 425.20,115.50 425.90,119.90 426.60,125.50 427.20,130.50 428.00,135.50 429.00,138.20 430.50,139.10 432.50,138.90 435.40,137.60 438.50,135.20 441.00,133.00 443.30,130.60 444.40,129.40 445.50,130.30 446.60,131.80 448.00,133.30 449.20,133.80 450.50,133.00 452.00,130.50 453.40,126.50 455.50,121.00 457.60,114.30 459.30,107.00 460.90,98.80 462.50,89.50 463.40,80.00 464.40,70.50 465.40,62.50 466.40,55.50 467.50,50.00 468.80,46.80 470.00,44.80 471.20,42.00 472.20,38.00 473.00,31.50 473.80,25.00 474.60,17.00 475.30,11.50 476.20,8.30 477.00,10.00 477.70,13.00 478.40,17.00 479.10,21.50 479.80,25.80 480.50,29.00 481.30,30.50 482.20,30.40 483.10,28.30 484.10,26.70 485.00,26.90 485.90,28.60 486.60,32.00 487.20,37.00 487.80,43.00 488.10,50.00 488.50,56.00 488.95,62.50 489.55,70.50 490.20,78.00 491.20,87.70 492.10,98.00 493.00,107.70 494.30,118.00 495.70,127.60 497.10,134.80 498.60,140.60 500.50,144.60 503.00,147.50 505.50,148.90 508.50,149.80 512.00,150.40 515.50,150.70 520.00,150.90" fill="none" stroke="#5fae55" stroke-width="0.95" stroke-linejoin="round"/>
<line x1="31.60" y1="206.80" x2="31.60" y2="366.05" stroke="#000" stroke-width="1.3"/>
<line x1="29.40" y1="206.70" x2="31.60" y2="206.70" stroke="#333" stroke-width="0.6"/>
<line x1="29.40" y1="222.56" x2="31.60" y2="222.56" stroke="#333" stroke-width="0.6"/>
<line x1="29.40" y1="238.42" x2="31.60" y2="238.42" stroke="#333" stroke-width="0.6"/>
<line x1="29.40" y1="254.28" x2="31.60" y2="254.28" stroke="#333" stroke-width="0.6"/>
<line x1="29.40" y1="270.14" x2="31.60" y2="270.14" stroke="#333" stroke-width="0.6"/>
<line x1="29.40" y1="286.00" x2="31.60" y2="286.00" stroke="#333" stroke-width="0.6"/>
<line x1="29.40" y1="301.86" x2="31.60" y2="301.86" stroke="#333" stroke-width="0.6"/>
<line x1="29.40" y1="317.72" x2="31.60" y2="317.72" stroke="#333" stroke-width="0.6"/>
<line x1="29.40" y1="333.58" x2="31.60" y2="333.58" stroke="#333" stroke-width="0.6"/>
<line x1="29.40" y1="349.44" x2="31.60" y2="349.44" stroke="#333" stroke-width="0.6"/>
<line x1="29.40" y1="365.30" x2="31.60" y2="365.30" stroke="#333" stroke-width="0.6"/>
<line x1="31.60" y1="365.35" x2="334.90" y2="365.35" stroke="#000" stroke-width="1.1"/>
<line x1="31.60" y1="365.85" x2="31.60" y2="368.45" stroke="#222" stroke-width="0.75"/>
<line x1="34.75" y1="365.85" x2="34.75" y2="367.25" stroke="#222" stroke-width="0.75"/>
<line x1="37.90" y1="365.85" x2="37.90" y2="367.25" stroke="#222" stroke-width="0.75"/>
<line x1="41.05" y1="365.85" x2="41.05" y2="367.25" stroke="#222" stroke-width="0.75"/>
<line x1="44.20" y1="365.85" x2="44.20" y2="367.25" stroke="#222" stroke-width="0.75"/>
<line x1="47.35" y1="365.85" x2="47.35" y2="368.65" stroke="#222" stroke-width="0.75"/>
<line x1="50.50" y1="365.85" x2="50.50" y2="367.25" stroke="#222" stroke-width="0.75"/>
<line x1="53.65" y1="365.85" x2="53.65" y2="367.25" stroke="#222" stroke-width="0.75"/>
<line x1="56.80" y1="365.85" x2="56.80" y2="367.25" stroke="#222" stroke-width="0.75"/>
<line x1="59.95" y1="365.85" x2="59.95" y2="367.25" stroke="#222" stroke-width="0.75"/>
<line x1="63.10" y1="365.85" x2="63.10" y2="368.45" stroke="#222" stroke-width="0.75"/>
<line x1="66.25" y1="365.85" x2="66.25" y2="367.25" stroke="#222" stroke-width="0.75"/>
<line x1="69.40" y1="365.85" x2="69.40" y2="367.25" stroke="#222" stroke-width="0.75"/>
<line x1="72.55" y1="365.85" x2="72.55" y2="367.25" stroke="#222" stroke-width="0.75"/>
<line x1="75.70" y1="365.85" x2="75.70" y2="367.25" stroke="#222" stroke-width="0.75"/>
<line x1="78.85" y1="365.85" x2="78.85" y2="368.65" stroke="#222" stroke-width="0.75"/>
<line x1="82.00" y1="365.85" x2="82.00" y2="367.25" stroke="#222" stroke-width="0.75"/>
<line x1="85.15" y1="365.85" x2="85.15" y2="367.25" stroke="#222" stroke-width="0.75"/>
<line x1="88.30" y1="365.85" x2="88.30" y2="367.25" stroke="#222" stroke-width="0.75"/>
<line x1="91.45" y1="365.85" x2="91.45" y2="367.25" stroke="#222" stroke-width="0.75"/>
<line x1="94.60" y1="365.85" x2="94.60" y2="368.45" stroke="#222" stroke-width="0.75"/>
<line x1="97.75" y1="365.85" x2="97.75" y2="367.25" stroke="#222" stroke-width="0.75"/>
<line x1="100.90" y1="365.85" x2="100.90" y2="367.25" stroke="#222" stroke-width="0.75"/>
<line x1="104.05" y1="365.85" x2="104.05" y2="367.25" stroke="#222" stroke-width="0.75"/>
<line x1="107.20" y1="365.85" x2="107.20" y2="367.25" stroke="#222" stroke-width="0.75"/>
<line x1="110.35" y1="365.85" x2="110.35" y2="368.65" stroke="#222" stroke-width="0.75"/>
<line x1="113.50" y1="365.85" x2="113.50" y2="367.25" stroke="#222" stroke-width="0.75"/>
<line x1="116.65" y1="365.85" x2="116.65" y2="367.25" stroke="#222" stroke-width="0.75"/>
<line x1="119.80" y1="365.85" x2="119.80" y2="367.25" stroke="#222" stroke-width="0.75"/>
<line x1="122.95" y1="365.85" x2="122.95" y2="367.25" stroke="#222" stroke-width="0.75"/>
<line x1="126.10" y1="365.85" x2="126.10" y2="368.45" stroke="#222" stroke-width="0.75"/>
<line x1="129.25" y1="365.85" x2="129.25" y2="367.25" stroke="#222" stroke-width="0.75"/>
<line x1="132.40" y1="365.85" x2="132.40" y2="367.25" stroke="#222" stroke-width="0.75"/>
<line x1="135.55" y1="365.85" x2="135.55" y2="367.25" stroke="#222" stroke-width="0.75"/>
<line x1="138.70" y1="365.85" x2="138.70" y2="367.25" stroke="#222" stroke-width="0.75"/>
<line x1="141.85" y1="365.85" x2="141.85" y2="368.65" stroke="#222" stroke-width="0.75"/>
<line x1="145.00" y1="365.85" x2="145.00" y2="367.25" stroke="#222" stroke-width="0.75"/>
<line x1="148.15" y1="365.85" x2="148.15" y2="367.25" stroke="#222" stroke-width="0.75"/>
<line x1="151.30" y1="365.85" x2="151.30" y2="367.25" stroke="#222" stroke-width="0.75"/>
<line x1="154.45" y1="365.85" x2="154.45" y2="367.25" stroke="#222" stroke-width="0.75"/>
<line x1="157.60" y1="365.85" x2="157.60" y2="368.45" stroke="#222" stroke-width="0.75"/>
<line x1="160.75" y1="365.85" x2="160.75" y2="367.25" stroke="#222" stroke-width="0.75"/>
<line x1="163.90" y1="365.85" x2="163.90" y2="367.25" stroke="#222" stroke-width="0.75"/>
<line x1="167.05" y1="365.85" x2="167.05" y2="367.25" stroke="#222" stroke-width="0.75"/>
<line x1="170.20" y1="365.85" x2="170.20" y2="367.25" stroke="#222" stroke-width="0.75"/>
<line x1="173.35" y1="365.85" x2="173.35" y2="368.65" stroke="#222" stroke-width="0.75"/>
<line x1="176.50" y1="365.85" x2="176.50" y2="367.25" stroke="#222" stroke-width="0.75"/>
<line x1="179.65" y1="365.85" x2="179.65" y2="367.25" stroke="#222" stroke-width="0.75"/>
<line x1="182.80" y1="365.85" x2="182.80" y2="367.25" stroke="#222" stroke-width="0.75"/>
<line x1="185.95" y1="365.85" x2="185.95" y2="367.25" stroke="#222" stroke-width="0.75"/>
<line x1="189.10" y1="365.85" x2="189.10" y2="368.45" stroke="#222" stroke-width="0.75"/>
<line x1="192.25" y1="365.85" x2="192.25" y2="367.25" stroke="#222" stroke-width="0.75"/>
<line x1="195.40" y1="365.85" x2="195.40" y2="367.25" stroke="#222" stroke-width="0.75"/>
<line x1="198.55" y1="365.85" x2="198.55" y2="367.25" stroke="#222" stroke-width="0.75"/>
<line x1="201.70" y1="365.85" x2="201.70" y2="367.25" stroke="#222" stroke-width="0.75"/>
<line x1="204.85" y1="365.85" x2="204.85" y2="368.65" stroke="#222" stroke-width="0.75"/>
<line x1="208.00" y1="365.85" x2="208.00" y2="367.25" stroke="#222" stroke-width="0.75"/>
<line x1="211.15" y1="365.85" x2="211.15" y2="367.25" stroke="#222" stroke-width="0.75"/>
<line x1="214.30" y1="365.85" x2="214.30" y2="367.25" stroke="#222" stroke-width="0.75"/>
<line x1="217.45" y1="365.85" x2="217.45" y2="367.25" stroke="#222" stroke-width="0.75"/>
<line x1="220.60" y1="365.85" x2="220.60" y2="368.45" stroke="#222" stroke-width="0.75"/>
<line x1="223.75" y1="365.85" x2="223.75" y2="367.25" stroke="#222" stroke-width="0.75"/>
<line x1="226.90" y1="365.85" x2="226.90" y2="367.25" stroke="#222" stroke-width="0.75"/>
<line x1="230.05" y1="365.85" x2="230.05" y2="367.25" stroke="#222" stroke-width="0.75"/>
<line x1="233.20" y1="365.85" x2="233.20" y2="367.25" stroke="#222" stroke-width="0.75"/>
<line x1="236.35" y1="365.85" x2="236.35" y2="368.65" stroke="#222" stroke-width="0.75"/>
<line x1="239.50" y1="365.85" x2="239.50" y2="367.25" stroke="#222" stroke-width="0.75"/>
<line x1="242.65" y1="365.85" x2="242.65" y2="367.25" stroke="#222" stroke-width="0.75"/>
<line x1="245.80" y1="365.85" x2="245.80" y2="367.25" stroke="#222" stroke-width="0.75"/>
<line x1="248.95" y1="365.85" x2="248.95" y2="367.25" stroke="#222" stroke-width="0.75"/>
<line x1="252.10" y1="365.85" x2="252.10" y2="368.45" stroke="#222" stroke-width="0.75"/>
<line x1="255.25" y1="365.85" x2="255.25" y2="367.25" stroke="#222" stroke-width="0.75"/>
<line x1="258.40" y1="365.85" x2="258.40" y2="367.25" stroke="#222" stroke-width="0.75"/>
<line x1="261.55" y1="365.85" x2="261.55" y2="367.25" stroke="#222" stroke-width="0.75"/>
<line x1="264.70" y1="365.85" x2="264.70" y2="367.25" stroke="#222" stroke-width="0.75"/>
<line x1="267.85" y1="365.85" x2="267.85" y2="368.65" stroke="#222" stroke-width="0.75"/>
<line x1="271.00" y1="365.85" x2="271.00" y2="367.25" stroke="#222" stroke-width="0.75"/>
<line x1="274.15" y1="365.85" x2="274.15" y2="367.25" stroke="#222" stroke-width="0.75"/>
<line x1="277.30" y1="365.85" x2="277.30" y2="367.25" stroke="#222" stroke-width="0.75"/>
<line x1="280.45" y1="365.85" x2="280.45" y2="367.25" stroke="#222" stroke-width="0.75"/>
<line x1="283.60" y1="365.85" x2="283.60" y2="368.45" stroke="#222" stroke-width="0.75"/>
<line x1="286.75" y1="365.85" x2="286.75" y2="367.25" stroke="#222" stroke-width="0.75"/>
<line x1="289.90" y1="365.85" x2="289.90" y2="367.25" stroke="#222" stroke-width="0.75"/>
<line x1="293.05" y1="365.85" x2="293.05" y2="367.25" stroke="#222" stroke-width="0.75"/>
<line x1="296.20" y1="365.85" x2="296.20" y2="367.25" stroke="#222" stroke-width="0.75"/>
<line x1="299.35" y1="365.85" x2="299.35" y2="368.65" stroke="#222" stroke-width="0.75"/>
<line x1="302.50" y1="365.85" x2="302.50" y2="367.25" stroke="#222" stroke-width="0.75"/>
<line x1="305.65" y1="365.85" x2="305.65" y2="367.25" stroke="#222" stroke-width="0.75"/>
<line x1="308.80" y1="365.85" x2="308.80" y2="367.25" stroke="#222" stroke-width="0.75"/>
<line x1="311.95" y1="365.85" x2="311.95" y2="367.25" stroke="#222" stroke-width="0.75"/>
<line x1="315.10" y1="365.85" x2="315.10" y2="368.45" stroke="#222" stroke-width="0.75"/>
<line x1="318.25" y1="365.85" x2="318.25" y2="367.25" stroke="#222" stroke-width="0.75"/>
<line x1="321.40" y1="365.85" x2="321.40" y2="367.25" stroke="#222" stroke-width="0.75"/>
<line x1="324.55" y1="365.85" x2="324.55" y2="367.25" stroke="#222" stroke-width="0.75"/>
<line x1="327.70" y1="365.85" x2="327.70" y2="367.25" stroke="#222" stroke-width="0.75"/>
<line x1="330.85" y1="365.85" x2="330.85" y2="368.65" stroke="#222" stroke-width="0.75"/>
<line x1="334.00" y1="365.85" x2="334.00" y2="367.25" stroke="#222" stroke-width="0.75"/>
<text x="27.90" y="209.89" font-size="7.7" text-anchor="end" fill="#1a1a1a" stroke="#1a1a1a" stroke-width="0.22" textLength="10.50" lengthAdjust="spacingAndGlyphs">100</text>
<text x="27.60" y="367.32" font-size="7.2" text-anchor="end" fill="#1a1a1a" stroke="#1a1a1a" stroke-width="0.22" textLength="3.60" lengthAdjust="spacingAndGlyphs">0</text>
<text x="26.60" y="287.91" font-size="6.4" text-anchor="middle" fill="#555" transform="rotate(-90 26.60 285.80)">%</text>
<text x="47.35" y="374.56" font-size="7.9" text-anchor="middle" fill="#1a1a1a" stroke="#1a1a1a" stroke-width="0.22" textLength="11.60" lengthAdjust="spacingAndGlyphs">200</text>
<text x="78.85" y="374.56" font-size="7.9" text-anchor="middle" fill="#1a1a1a" stroke="#1a1a1a" stroke-width="0.22" textLength="11.60" lengthAdjust="spacingAndGlyphs">300</text>
<text x="110.35" y="374.56" font-size="7.9" text-anchor="middle" fill="#1a1a1a" stroke="#1a1a1a" stroke-width="0.22" textLength="11.60" lengthAdjust="spacingAndGlyphs">400</text>
<text x="141.85" y="374.56" font-size="7.9" text-anchor="middle" fill="#1a1a1a" stroke="#1a1a1a" stroke-width="0.22" textLength="11.60" lengthAdjust="spacingAndGlyphs">500</text>
<text x="173.35" y="374.56" font-size="7.9" text-anchor="middle" fill="#1a1a1a" stroke="#1a1a1a" stroke-width="0.22" textLength="11.60" lengthAdjust="spacingAndGlyphs">600</text>
<text x="204.85" y="374.56" font-size="7.9" text-anchor="middle" fill="#1a1a1a" stroke="#1a1a1a" stroke-width="0.22" textLength="11.60" lengthAdjust="spacingAndGlyphs">700</text>
<text x="236.35" y="374.56" font-size="7.9" text-anchor="middle" fill="#1a1a1a" stroke="#1a1a1a" stroke-width="0.22" textLength="11.60" lengthAdjust="spacingAndGlyphs">800</text>
<text x="267.85" y="374.56" font-size="7.9" text-anchor="middle" fill="#1a1a1a" stroke="#1a1a1a" stroke-width="0.22" textLength="11.60" lengthAdjust="spacingAndGlyphs">900</text>
<text x="299.35" y="374.56" font-size="7.9" text-anchor="middle" fill="#1a1a1a" stroke="#1a1a1a" stroke-width="0.22" textLength="14.60" lengthAdjust="spacingAndGlyphs">1000</text>
<text x="330.85" y="374.56" font-size="7.9" text-anchor="middle" fill="#1a1a1a" stroke="#1a1a1a" stroke-width="0.22" textLength="14.60" lengthAdjust="spacingAndGlyphs">1100</text>
<text x="338.10" y="368.42" font-size="7.2" text-anchor="start" fill="#1a1a1a" stroke="#1a1a1a" stroke-width="0.22" textLength="10.30" lengthAdjust="spacingAndGlyphs">m/z</text>
<text x="44.00" y="219.52" font-size="11.2" text-anchor="start" fill="#000" stroke="#000" stroke-width="0.1" font-weight="bold">C</text>
<line x1="32.40" y1="364.15" x2="32.40" y2="363.26" stroke="#ff1a1a" stroke-width="0.45" stroke-opacity="0.7"/>
<line x1="32.72" y1="364.15" x2="32.72" y2="363.06" stroke="#ff1a1a" stroke-width="0.45" stroke-opacity="0.7"/>
<line x1="33.03" y1="364.15" x2="33.03" y2="363.83" stroke="#ff1a1a" stroke-width="0.45" stroke-opacity="0.7"/>
<line x1="33.35" y1="364.15" x2="33.35" y2="364.12" stroke="#ff1a1a" stroke-width="0.45" stroke-opacity="0.7"/>
<line x1="33.66" y1="364.15" x2="33.66" y2="364.13" stroke="#ff1a1a" stroke-width="0.45" stroke-opacity="0.7"/>
<line x1="33.98" y1="364.15" x2="33.98" y2="363.41" stroke="#ff1a1a" stroke-width="0.45" stroke-opacity="0.7"/>
<line x1="34.30" y1="364.15" x2="34.30" y2="363.90" stroke="#ff1a1a" stroke-width="0.45" stroke-opacity="0.7"/>
<line x1="34.61" y1="364.15" x2="34.61" y2="364.08" stroke="#ff1a1a" stroke-width="0.45" stroke-opacity="0.7"/>
<line x1="34.93" y1="364.15" x2="34.93" y2="363.77" stroke="#ff1a1a" stroke-width="0.45" stroke-opacity="0.7"/>
<line x1="35.24" y1="364.15" x2="35.24" y2="363.80" stroke="#ff1a1a" stroke-width="0.45" stroke-opacity="0.7"/>
<line x1="35.56" y1="364.15" x2="35.56" y2="362.86" stroke="#ff1a1a" stroke-width="0.45" stroke-opacity="0.7"/>
<line x1="35.88" y1="364.15" x2="35.88" y2="363.63" stroke="#ff1a1a" stroke-width="0.45" stroke-opacity="0.7"/>
<line x1="36.19" y1="364.15" x2="36.19" y2="363.36" stroke="#ff1a1a" stroke-width="0.45" stroke-opacity="0.7"/>
<line x1="36.51" y1="364.15" x2="36.51" y2="363.96" stroke="#ff1a1a" stroke-width="0.45" stroke-opacity="0.7"/>
<line x1="36.82" y1="364.15" x2="36.82" y2="364.04" stroke="#ff1a1a" stroke-width="0.45" stroke-opacity="0.7"/>
<line x1="37.14" y1="364.15" x2="37.14" y2="363.77" stroke="#ff1a1a" stroke-width="0.45" stroke-opacity="0.7"/>
<line x1="37.46" y1="364.15" x2="37.46" y2="363.12" stroke="#ff1a1a" stroke-width="0.45" stroke-opacity="0.7"/>
<line x1="37.77" y1="364.15" x2="37.77" y2="364.11" stroke="#ff1a1a" stroke-width="0.45" stroke-opacity="0.7"/>
<line x1="38.09" y1="364.15" x2="38.09" y2="363.74" stroke="#ff1a1a" stroke-width="0.45" stroke-opacity="0.7"/>
<line x1="38.40" y1="364.15" x2="38.40" y2="363.96" stroke="#ff1a1a" stroke-width="0.45" stroke-opacity="0.7"/>
<line x1="38.72" y1="364.15" x2="38.72" y2="363.88" stroke="#ff1a1a" stroke-width="0.45" stroke-opacity="0.7"/>
<line x1="39.04" y1="364.15" x2="39.04" y2="363.67" stroke="#ff1a1a" stroke-width="0.45" stroke-opacity="0.7"/>
<line x1="39.35" y1="364.15" x2="39.35" y2="364.00" stroke="#ff1a1a" stroke-width="0.45" stroke-opacity="0.7"/>
<line x1="39.67" y1="364.15" x2="39.67" y2="363.83" stroke="#ff1a1a" stroke-width="0.45" stroke-opacity="0.7"/>
<line x1="39.98" y1="364.15" x2="39.98" y2="363.71" stroke="#ff1a1a" stroke-width="0.45" stroke-opacity="0.7"/>
<line x1="40.30" y1="364.15" x2="40.30" y2="362.86" stroke="#ff1a1a" stroke-width="0.45" stroke-opacity="0.7"/>
<line x1="40.62" y1="364.15" x2="40.62" y2="363.90" stroke="#ff1a1a" stroke-width="0.45" stroke-opacity="0.7"/>
<line x1="40.93" y1="364.15" x2="40.93" y2="364.06" stroke="#ff1a1a" stroke-width="0.45" stroke-opacity="0.7"/>
<line x1="41.25" y1="364.15" x2="41.25" y2="364.13" stroke="#ff1a1a" stroke-width="0.45" stroke-opacity="0.7"/>
<line x1="41.56" y1="364.15" x2="41.56" y2="363.69" stroke="#ff1a1a" stroke-width="0.45" stroke-opacity="0.7"/>
<line x1="41.88" y1="364.15" x2="41.88" y2="363.62" stroke="#ff1a1a" stroke-width="0.45" stroke-opacity="0.7"/>
<line x1="42.20" y1="364.15" x2="42.20" y2="363.73" stroke="#ff1a1a" stroke-width="0.45" stroke-opacity="0.7"/>
<line x1="42.51" y1="364.15" x2="42.51" y2="363.80" stroke="#ff1a1a" stroke-width="0.45" stroke-opacity="0.7"/>
<line x1="42.83" y1="364.15" x2="42.83" y2="363.65" stroke="#ff1a1a" stroke-width="0.45" stroke-opacity="0.7"/>
<line x1="43.14" y1="364.15" x2="43.14" y2="363.87" stroke="#ff1a1a" stroke-width="0.45" stroke-opacity="0.7"/>
<line x1="43.46" y1="364.15" x2="43.46" y2="364.11" stroke="#ff1a1a" stroke-width="0.45" stroke-opacity="0.7"/>
<line x1="43.78" y1="364.15" x2="43.78" y2="363.76" stroke="#ff1a1a" stroke-width="0.45" stroke-opacity="0.7"/>
<line x1="44.09" y1="364.15" x2="44.09" y2="363.66" stroke="#ff1a1a" stroke-width="0.45" stroke-opacity="0.7"/>
<line x1="44.41" y1="364.15" x2="44.41" y2="363.92" stroke="#ff1a1a" stroke-width="0.45" stroke-opacity="0.7"/>
<line x1="44.72" y1="364.15" x2="44.72" y2="364.14" stroke="#ff1a1a" stroke-width="0.45" stroke-opacity="0.7"/>
<line x1="45.04" y1="364.15" x2="45.04" y2="363.35" stroke="#ff1a1a" stroke-width="0.45" stroke-opacity="0.7"/>
<line x1="45.36" y1="364.15" x2="45.36" y2="364.11" stroke="#ff1a1a" stroke-width="0.45" stroke-opacity="0.7"/>
<line x1="45.67" y1="364.15" x2="45.67" y2="364.07" stroke="#ff1a1a" stroke-width="0.45" stroke-opacity="0.7"/>
<line x1="45.99" y1="364.15" x2="45.99" y2="363.92" stroke="#ff1a1a" stroke-width="0.45" stroke-opacity="0.7"/>
<line x1="46.30" y1="364.15" x2="46.30" y2="364.10" stroke="#ff1a1a" stroke-width="0.45" stroke-opacity="0.7"/>
<line x1="46.62" y1="364.15" x2="46.62" y2="363.82" stroke="#ff1a1a" stroke-width="0.45" stroke-opacity="0.7"/>
<line x1="46.94" y1="364.15" x2="46.94" y2="363.66" stroke="#ff1a1a" stroke-width="0.45" stroke-opacity="0.7"/>
<line x1="47.25" y1="364.15" x2="47.25" y2="363.98" stroke="#ff1a1a" stroke-width="0.45" stroke-opacity="0.7"/>
<line x1="47.57" y1="364.15" x2="47.57" y2="363.93" stroke="#ff1a1a" stroke-width="0.45" stroke-opacity="0.7"/>
<line x1="47.88" y1="364.15" x2="47.88" y2="362.88" stroke="#ff1a1a" stroke-width="0.45" stroke-opacity="0.7"/>
<line x1="48.20" y1="364.15" x2="48.20" y2="364.04" stroke="#ff1a1a" stroke-width="0.45" stroke-opacity="0.7"/>
<line x1="48.52" y1="364.15" x2="48.52" y2="364.01" stroke="#ff1a1a" stroke-width="0.45" stroke-opacity="0.7"/>
<line x1="48.83" y1="364.15" x2="48.83" y2="363.80" stroke="#ff1a1a" stroke-width="0.45" stroke-opacity="0.7"/>
<line x1="49.15" y1="364.15" x2="49.15" y2="364.15" stroke="#ff1a1a" stroke-width="0.45" stroke-opacity="0.7"/>
<line x1="49.46" y1="364.15" x2="49.46" y2="363.93" stroke="#ff1a1a" stroke-width="0.45" stroke-opacity="0.7"/>
<line x1="49.78" y1="364.15" x2="49.78" y2="363.58" stroke="#ff1a1a" stroke-width="0.45" stroke-opacity="0.7"/>
<line x1="50.10" y1="364.15" x2="50.10" y2="363.84" stroke="#ff1a1a" stroke-width="0.45" stroke-opacity="0.7"/>
<line x1="50.41" y1="364.15" x2="50.41" y2="363.04" stroke="#ff1a1a" stroke-width="0.45" stroke-opacity="0.7"/>
<line x1="50.73" y1="364.15" x2="50.73" y2="363.61" stroke="#ff1a1a" stroke-width="0.45" stroke-opacity="0.7"/>
<line x1="51.04" y1="364.15" x2="51.04" y2="363.63" stroke="#ff1a1a" stroke-width="0.45" stroke-opacity="0.7"/>
<line x1="51.36" y1="364.15" x2="51.36" y2="363.91" stroke="#ff1a1a" stroke-width="0.45" stroke-opacity="0.7"/>
<line x1="51.68" y1="364.15" x2="51.68" y2="364.09" stroke="#ff1a1a" stroke-width="0.45" stroke-opacity="0.7"/>
<line x1="51.99" y1="364.15" x2="51.99" y2="363.41" stroke="#ff1a1a" stroke-width="0.45" stroke-opacity="0.7"/>
<line x1="52.31" y1="364.15" x2="52.31" y2="363.32" stroke="#ff1a1a" stroke-width="0.45" stroke-opacity="0.7"/>
<line x1="52.62" y1="364.15" x2="52.62" y2="363.25" stroke="#ff1a1a" stroke-width="0.45" stroke-opacity="0.7"/>
<line x1="52.94" y1="364.15" x2="52.94" y2="363.45" stroke="#ff1a1a" stroke-width="0.45" stroke-opacity="0.7"/>
<line x1="53.26" y1="364.15" x2="53.26" y2="364.09" stroke="#ff1a1a" stroke-width="0.45" stroke-opacity="0.7"/>
<line x1="53.57" y1="364.15" x2="53.57" y2="364.13" stroke="#ff1a1a" stroke-width="0.45" stroke-opacity="0.7"/>
<line x1="53.89" y1="364.15" x2="53.89" y2="363.08" stroke="#ff1a1a" stroke-width="0.45" stroke-opacity="0.7"/>
<line x1="54.20" y1="364.15" x2="54.20" y2="364.00" stroke="#ff1a1a" stroke-width="0.45" stroke-opacity="0.7"/>
<line x1="54.52" y1="364.15" x2="54.52" y2="363.23" stroke="#ff1a1a" stroke-width="0.45" stroke-opacity="0.7"/>
<line x1="54.84" y1="364.15" x2="54.84" y2="363.64" stroke="#ff1a1a" stroke-width="0.45" stroke-opacity="0.7"/>
<line x1="55.15" y1="364.15" x2="55.15" y2="363.87" stroke="#ff1a1a" stroke-width="0.45" stroke-opacity="0.7"/>
<line x1="55.47" y1="364.15" x2="55.47" y2="363.40" stroke="#ff1a1a" stroke-width="0.45" stroke-opacity="0.7"/>
<line x1="55.78" y1="364.15" x2="55.78" y2="363.94" stroke="#ff1a1a" stroke-width="0.45" stroke-opacity="0.7"/>
<line x1="56.10" y1="364.15" x2="56.10" y2="362.95" stroke="#ff1a1a" stroke-width="0.45" stroke-opacity="0.7"/>
<line x1="56.42" y1="364.15" x2="56.42" y2="364.14" stroke="#ff1a1a" stroke-width="0.45" stroke-opacity="0.7"/>
<line x1="56.73" y1="364.15" x2="56.73" y2="363.13" stroke="#ff1a1a" stroke-width="0.45" stroke-opacity="0.7"/>
<line x1="57.05" y1="364.15" x2="57.05" y2="363.12" stroke="#ff1a1a" stroke-width="0.45" stroke-opacity="0.7"/>
<line x1="57.36" y1="364.15" x2="57.36" y2="363.83" stroke="#ff1a1a" stroke-width="0.45" stroke-opacity="0.7"/>
<line x1="57.68" y1="364.15" x2="57.68" y2="363.63" stroke="#ff1a1a" stroke-width="0.45" stroke-opacity="0.7"/>
<line x1="58.00" y1="364.15" x2="58.00" y2="363.99" stroke="#ff1a1a" stroke-width="0.45" stroke-opacity="0.7"/>
<line x1="58.31" y1="364.15" x2="58.31" y2="364.05" stroke="#ff1a1a" stroke-width="0.45" stroke-opacity="0.7"/>
<line x1="58.63" y1="364.15" x2="58.63" y2="363.83" stroke="#ff1a1a" stroke-width="0.45" stroke-opacity="0.7"/>
<line x1="58.94" y1="364.15" x2="58.94" y2="363.95" stroke="#ff1a1a" stroke-width="0.45" stroke-opacity="0.7"/>
<line x1="59.26" y1="364.15" x2="59.26" y2="363.66" stroke="#ff1a1a" stroke-width="0.45" stroke-opacity="0.7"/>
<line x1="59.58" y1="364.15" x2="59.58" y2="363.64" stroke="#ff1a1a" stroke-width="0.45" stroke-opacity="0.7"/>
<line x1="59.89" y1="364.15" x2="59.89" y2="363.66" stroke="#ff1a1a" stroke-width="0.45" stroke-opacity="0.7"/>
<line x1="60.21" y1="364.15" x2="60.21" y2="364.01" stroke="#ff1a1a" stroke-width="0.45" stroke-opacity="0.7"/>
<line x1="60.52" y1="364.15" x2="60.52" y2="363.24" stroke="#ff1a1a" stroke-width="0.45" stroke-opacity="0.7"/>
<line x1="60.84" y1="364.15" x2="60.84" y2="364.13" stroke="#ff1a1a" stroke-width="0.45" stroke-opacity="0.7"/>
<line x1="61.16" y1="364.15" x2="61.16" y2="363.99" stroke="#ff1a1a" stroke-width="0.45" stroke-opacity="0.7"/>
<line x1="61.47" y1="364.15" x2="61.47" y2="363.58" stroke="#ff1a1a" stroke-width="0.45" stroke-opacity="0.7"/>
<line x1="61.79" y1="364.15" x2="61.79" y2="363.59" stroke="#ff1a1a" stroke-width="0.45" stroke-opacity="0.7"/>
<line x1="62.10" y1="364.15" x2="62.10" y2="363.58" stroke="#ff1a1a" stroke-width="0.45" stroke-opacity="0.7"/>
<line x1="62.42" y1="364.15" x2="62.42" y2="364.02" stroke="#ff1a1a" stroke-width="0.45" stroke-opacity="0.7"/>
<line x1="62.74" y1="364.15" x2="62.74" y2="364.03" stroke="#ff1a1a" stroke-width="0.45" stroke-opacity="0.7"/>
<line x1="63.05" y1="364.15" x2="63.05" y2="363.78" stroke="#ff1a1a" stroke-width="0.45" stroke-opacity="0.7"/>
<line x1="63.37" y1="364.15" x2="63.37" y2="363.65" stroke="#ff1a1a" stroke-width="0.45" stroke-opacity="0.7"/>
<line x1="63.68" y1="364.15" x2="63.68" y2="363.76" stroke="#ff1a1a" stroke-width="0.45" stroke-opacity="0.7"/>
<line x1="64.00" y1="364.15" x2="64.00" y2="364.10" stroke="#ff1a1a" stroke-width="0.45" stroke-opacity="0.7"/>
<line x1="64.32" y1="364.15" x2="64.32" y2="363.60" stroke="#ff1a1a" stroke-width="0.45" stroke-opacity="0.7"/>
<line x1="64.63" y1="364.15" x2="64.63" y2="363.70" stroke="#ff1a1a" stroke-width="0.45" stroke-opacity="0.7"/>
<line x1="64.95" y1="364.15" x2="64.95" y2="364.04" stroke="#ff1a1a" stroke-width="0.45" stroke-opacity="0.7"/>
<line x1="65.26" y1="364.15" x2="65.26" y2="363.95" stroke="#ff1a1a" stroke-width="0.45" stroke-opacity="0.7"/>
<line x1="65.58" y1="364.15" x2="65.58" y2="363.57" stroke="#ff1a1a" stroke-width="0.45" stroke-opacity="0.7"/>
<line x1="65.90" y1="364.15" x2="65.90" y2="363.91" stroke="#ff1a1a" stroke-width="0.45" stroke-opacity="0.7"/>
<line x1="66.21" y1="364.15" x2="66.21" y2="363.02" stroke="#ff1a1a" stroke-width="0.45" stroke-opacity="0.7"/>
<line x1="66.53" y1="364.15" x2="66.53" y2="363.37" stroke="#ff1a1a" stroke-width="0.45" stroke-opacity="0.7"/>
<line x1="66.84" y1="364.15" x2="66.84" y2="363.61" stroke="#ff1a1a" stroke-width="0.45" stroke-opacity="0.7"/>
<line x1="67.16" y1="364.15" x2="67.16" y2="364.06" stroke="#ff1a1a" stroke-width="0.45" stroke-opacity="0.7"/>
<line x1="67.48" y1="364.15" x2="67.48" y2="363.56" stroke="#ff1a1a" stroke-width="0.45" stroke-opacity="0.7"/>
<line x1="67.79" y1="364.15" x2="67.79" y2="363.94" stroke="#ff1a1a" stroke-width="0.45" stroke-opacity="0.7"/>
<line x1="68.11" y1="364.15" x2="68.11" y2="363.37" stroke="#ff1a1a" stroke-width="0.45" stroke-opacity="0.7"/>
<line x1="68.42" y1="364.15" x2="68.42" y2="363.57" stroke="#ff1a1a" stroke-width="0.45" stroke-opacity="0.7"/>
<line x1="68.74" y1="364.15" x2="68.74" y2="363.83" stroke="#ff1a1a" stroke-width="0.45" stroke-opacity="0.7"/>
<line x1="69.06" y1="364.15" x2="69.06" y2="363.89" stroke="#ff1a1a" stroke-width="0.45" stroke-opacity="0.7"/>
<line x1="69.37" y1="364.15" x2="69.37" y2="363.65" stroke="#ff1a1a" stroke-width="0.45" stroke-opacity="0.7"/>
<line x1="69.69" y1="364.15" x2="69.69" y2="364.00" stroke="#ff1a1a" stroke-width="0.45" stroke-opacity="0.7"/>
<line x1="70.00" y1="364.15" x2="70.00" y2="364.01" stroke="#ff1a1a" stroke-width="0.45" stroke-opacity="0.7"/>
<line x1="70.32" y1="364.15" x2="70.32" y2="363.99" stroke="#ff1a1a" stroke-width="0.45" stroke-opacity="0.7"/>
<line x1="70.64" y1="364.15" x2="70.64" y2="364.07" stroke="#ff1a1a" stroke-width="0.45" stroke-opacity="0.7"/>
<line x1="70.95" y1="364.15" x2="70.95" y2="363.94" stroke="#ff1a1a" stroke-width="0.45" stroke-opacity="0.7"/>
<line x1="71.27" y1="364.15" x2="71.27" y2="363.80" stroke="#ff1a1a" stroke-width="0.45" stroke-opacity="0.7"/>
<line x1="71.58" y1="364.15" x2="71.58" y2="363.90" stroke="#ff1a1a" stroke-width="0.45" stroke-opacity="0.7"/>
<line x1="71.90" y1="364.15" x2="71.90" y2="363.85" stroke="#ff1a1a" stroke-width="0.45" stroke-opacity="0.7"/>
<line x1="72.22" y1="364.15" x2="72.22" y2="363.14" stroke="#ff1a1a" stroke-width="0.45" stroke-opacity="0.7"/>
<line x1="72.53" y1="364.15" x2="72.53" y2="363.19" stroke="#ff1a1a" stroke-width="0.45" stroke-opacity="0.7"/>
<line x1="72.85" y1="364.15" x2="72.85" y2="364.15" stroke="#ff1a1a" stroke-width="0.45" stroke-opacity="0.7"/>
<line x1="73.16" y1="364.15" x2="73.16" y2="364.05" stroke="#ff1a1a" stroke-width="0.45" stroke-opacity="0.7"/>
<line x1="73.48" y1="364.15" x2="73.48" y2="363.71" stroke="#ff1a1a" stroke-width="0.45" stroke-opacity="0.7"/>
<line x1="73.80" y1="364.15" x2="73.80" y2="363.95" stroke="#ff1a1a" stroke-width="0.45" stroke-opacity="0.7"/>
<line x1="74.11" y1="364.15" x2="74.11" y2="363.82" stroke="#ff1a1a" stroke-width="0.45" stroke-opacity="0.7"/>
<line x1="74.43" y1="364.15" x2="74.43" y2="364.09" stroke="#ff1a1a" stroke-width="0.45" stroke-opacity="0.7"/>
<line x1="74.74" y1="364.15" x2="74.74" y2="364.00" stroke="#ff1a1a" stroke-width="0.45" stroke-opacity="0.7"/>
<line x1="75.06" y1="364.15" x2="75.06" y2="363.69" stroke="#ff1a1a" stroke-width="0.45" stroke-opacity="0.7"/>
<line x1="75.38" y1="364.15" x2="75.38" y2="363.81" stroke="#ff1a1a" stroke-width="0.45" stroke-opacity="0.7"/>
<line x1="75.69" y1="364.15" x2="75.69" y2="363.60" stroke="#ff1a1a" stroke-width="0.45" stroke-opacity="0.7"/>
<line x1="76.01" y1="364.15" x2="76.01" y2="363.78" stroke="#ff1a1a" stroke-width="0.45" stroke-opacity="0.7"/>
<line x1="76.32" y1="364.15" x2="76.32" y2="363.84" stroke="#ff1a1a" stroke-width="0.45" stroke-opacity="0.7"/>
<line x1="76.64" y1="364.15" x2="76.64" y2="363.88" stroke="#ff1a1a" stroke-width="0.45" stroke-opacity="0.7"/>
<line x1="76.96" y1="364.15" x2="76.96" y2="363.86" stroke="#ff1a1a" stroke-width="0.45" stroke-opacity="0.7"/>
<line x1="77.27" y1="364.15" x2="77.27" y2="363.73" stroke="#ff1a1a" stroke-width="0.45" stroke-opacity="0.7"/>
<line x1="77.59" y1="364.15" x2="77.59" y2="363.58" stroke="#ff1a1a" stroke-width="0.45" stroke-opacity="0.7"/>
<line x1="77.90" y1="364.15" x2="77.90" y2="363.81" stroke="#ff1a1a" stroke-width="0.45" stroke-opacity="0.7"/>
<line x1="78.22" y1="364.15" x2="78.22" y2="362.95" stroke="#ff1a1a" stroke-width="0.45" stroke-opacity="0.7"/>
<line x1="78.54" y1="364.15" x2="78.54" y2="364.08" stroke="#ff1a1a" stroke-width="0.45" stroke-opacity="0.7"/>
<line x1="78.85" y1="364.15" x2="78.85" y2="364.11" stroke="#ff1a1a" stroke-width="0.45" stroke-opacity="0.7"/>
<line x1="79.17" y1="364.15" x2="79.17" y2="364.11" stroke="#ff1a1a" stroke-width="0.45" stroke-opacity="0.7"/>
<line x1="79.48" y1="364.15" x2="79.48" y2="363.68" stroke="#ff1a1a" stroke-width="0.45" stroke-opacity="0.7"/>
<line x1="79.80" y1="364.15" x2="79.80" y2="364.06" stroke="#ff1a1a" stroke-width="0.45" stroke-opacity="0.7"/>
<line x1="80.12" y1="364.15" x2="80.12" y2="363.05" stroke="#ff1a1a" stroke-width="0.45" stroke-opacity="0.7"/>
<line x1="80.43" y1="364.15" x2="80.43" y2="363.62" stroke="#ff1a1a" stroke-width="0.45" stroke-opacity="0.7"/>
<line x1="80.75" y1="364.15" x2="80.75" y2="364.02" stroke="#ff1a1a" stroke-width="0.45" stroke-opacity="0.7"/>
<line x1="81.06" y1="364.15" x2="81.06" y2="363.91" stroke="#ff1a1a" stroke-width="0.45" stroke-opacity="0.7"/>
<line x1="81.38" y1="364.15" x2="81.38" y2="363.56" stroke="#ff1a1a" stroke-width="0.45" stroke-opacity="0.7"/>
<line x1="81.70" y1="364.15" x2="81.70" y2="364.05" stroke="#ff1a1a" stroke-width="0.45" stroke-opacity="0.7"/>
<line x1="82.01" y1="364.15" x2="82.01" y2="363.84" stroke="#ff1a1a" stroke-width="0.45" stroke-opacity="0.7"/>
<line x1="82.33" y1="364.15" x2="82.33" y2="364.03" stroke="#ff1a1a" stroke-width="0.45" stroke-opacity="0.7"/>
<line x1="82.64" y1="364.15" x2="82.64" y2="363.02" stroke="#ff1a1a" stroke-width="0.45" stroke-opacity="0.7"/>
<line x1="82.96" y1="364.15" x2="82.96" y2="363.82" stroke="#ff1a1a" stroke-width="0.45" stroke-opacity="0.7"/>
<line x1="83.28" y1="364.15" x2="83.28" y2="364.14" stroke="#ff1a1a" stroke-width="0.45" stroke-opacity="0.7"/>
<line x1="83.59" y1="364.15" x2="83.59" y2="363.78" stroke="#ff1a1a" stroke-width="0.45" stroke-opacity="0.7"/>
<line x1="83.91" y1="364.15" x2="83.91" y2="364.11" stroke="#ff1a1a" stroke-width="0.45" stroke-opacity="0.7"/>
<line x1="84.22" y1="364.15" x2="84.22" y2="363.68" stroke="#ff1a1a" stroke-width="0.45" stroke-opacity="0.7"/>
<line x1="84.54" y1="364.15" x2="84.54" y2="364.09" stroke="#ff1a1a" stroke-width="0.45" stroke-opacity="0.7"/>
<line x1="84.86" y1="364.15" x2="84.86" y2="364.13" stroke="#ff1a1a" stroke-width="0.45" stroke-opacity="0.7"/>
<line x1="85.17" y1="364.15" x2="85.17" y2="363.29" stroke="#ff1a1a" stroke-width="0.45" stroke-opacity="0.7"/>
<line x1="85.49" y1="364.15" x2="85.49" y2="363.90" stroke="#ff1a1a" stroke-width="0.45" stroke-opacity="0.7"/>
<line x1="85.80" y1="364.15" x2="85.80" y2="363.66" stroke="#ff1a1a" stroke-width="0.45" stroke-opacity="0.7"/>
<line x1="86.12" y1="364.15" x2="86.12" y2="364.06" stroke="#ff1a1a" stroke-width="0.45" stroke-opacity="0.7"/>
<line x1="86.44" y1="364.15" x2="86.44" y2="363.81" stroke="#ff1a1a" stroke-width="0.45" stroke-opacity="0.7"/>
<line x1="86.75" y1="364.15" x2="86.75" y2="363.40" stroke="#ff1a1a" stroke-width="0.45" stroke-opacity="0.7"/>
<line x1="87.07" y1="364.15" x2="87.07" y2="363.74" stroke="#ff1a1a" stroke-width="0.45" stroke-opacity="0.7"/>
<line x1="87.38" y1="364.15" x2="87.38" y2="364.11" stroke="#ff1a1a" stroke-width="0.45" stroke-opacity="0.7"/>
<line x1="87.70" y1="364.15" x2="87.70" y2="363.77" stroke="#ff1a1a" stroke-width="0.45" stroke-opacity="0.7"/>
<line x1="88.02" y1="364.15" x2="88.02" y2="364.10" stroke="#ff1a1a" stroke-width="0.45" stroke-opacity="0.7"/>
<line x1="88.33" y1="364.15" x2="88.33" y2="364.11" stroke="#ff1a1a" stroke-width="0.45" stroke-opacity="0.7"/>
<line x1="88.65" y1="364.15" x2="88.65" y2="363.88" stroke="#ff1a1a" stroke-width="0.45" stroke-opacity="0.7"/>
<line x1="88.96" y1="364.15" x2="88.96" y2="363.82" stroke="#ff1a1a" stroke-width="0.45" stroke-opacity="0.7"/>
<line x1="89.28" y1="364.15" x2="89.28" y2="363.29" stroke="#ff1a1a" stroke-width="0.45" stroke-opacity="0.7"/>
<line x1="89.60" y1="364.15" x2="89.60" y2="363.83" stroke="#ff1a1a" stroke-width="0.45" stroke-opacity="0.7"/>
<line x1="89.91" y1="364.15" x2="89.91" y2="363.38" stroke="#ff1a1a" stroke-width="0.45" stroke-opacity="0.7"/>
<line x1="90.23" y1="364.15" x2="90.23" y2="364.12" stroke="#ff1a1a" stroke-width="0.45" stroke-opacity="0.7"/>
<line x1="90.54" y1="364.15" x2="90.54" y2="363.96" stroke="#ff1a1a" stroke-width="0.45" stroke-opacity="0.7"/>
<line x1="90.86" y1="364.15" x2="90.86" y2="363.69" stroke="#ff1a1a" stroke-width="0.45" stroke-opacity="0.7"/>
<line x1="91.18" y1="364.15" x2="91.18" y2="363.15" stroke="#ff1a1a" stroke-width="0.45" stroke-opacity="0.7"/>
<line x1="91.49" y1="364.15" x2="91.49" y2="363.24" stroke="#ff1a1a" stroke-width="0.45" stroke-opacity="0.7"/>
<line x1="91.81" y1="364.15" x2="91.81" y2="363.30" stroke="#ff1a1a" stroke-width="0.45" stroke-opacity="0.7"/>
<line x1="92.12" y1="364.15" x2="92.12" y2="363.71" stroke="#ff1a1a" stroke-width="0.45" stroke-opacity="0.7"/>
<line x1="92.44" y1="364.15" x2="92.44" y2="364.04" stroke="#ff1a1a" stroke-width="0.45" stroke-opacity="0.7"/>
<line x1="92.76" y1="364.15" x2="92.76" y2="362.89" stroke="#ff1a1a" stroke-width="0.45" stroke-opacity="0.7"/>
<line x1="93.07" y1="364.15" x2="93.07" y2="363.66" stroke="#ff1a1a" stroke-width="0.45" stroke-opacity="0.7"/>
<line x1="93.39" y1="364.15" x2="93.39" y2="363.85" stroke="#ff1a1a" stroke-width="0.45" stroke-opacity="0.7"/>
<line x1="93.70" y1="364.15" x2="93.70" y2="363.91" stroke="#ff1a1a" stroke-width="0.45" stroke-opacity="0.7"/>
<line x1="94.02" y1="364.15" x2="94.02" y2="363.74" stroke="#ff1a1a" stroke-width="0.45" stroke-opacity="0.7"/>
<line x1="94.34" y1="364.15" x2="94.34" y2="363.94" stroke="#ff1a1a" stroke-width="0.45" stroke-opacity="0.7"/>
<line x1="94.65" y1="364.15" x2="94.65" y2="363.73" stroke="#ff1a1a" stroke-width="0.45" stroke-opacity="0.7"/>
<line x1="94.97" y1="364.15" x2="94.97" y2="363.91" stroke="#ff1a1a" stroke-width="0.45" stroke-opacity="0.7"/>
<line x1="95.28" y1="364.15" x2="95.28" y2="363.42" stroke="#ff1a1a" stroke-width="0.45" stroke-opacity="0.7"/>
<line x1="95.60" y1="364.15" x2="95.60" y2="364.11" stroke="#ff1a1a" stroke-width="0.45" stroke-opacity="0.7"/>
<line x1="95.92" y1="364.15" x2="95.92" y2="363.30" stroke="#ff1a1a" stroke-width="0.45" stroke-opacity="0.7"/>
<line x1="96.23" y1="364.15" x2="96.23" y2="364.10" stroke="#ff1a1a" stroke-width="0.45" stroke-opacity="0.7"/>
<line x1="96.55" y1="364.15" x2="96.55" y2="363.63" stroke="#ff1a1a" stroke-width="0.45" stroke-opacity="0.7"/>
<line x1="96.86" y1="364.15" x2="96.86" y2="363.98" stroke="#ff1a1a" stroke-width="0.45" stroke-opacity="0.7"/>
<line x1="97.18" y1="364.15" x2="97.18" y2="363.97" stroke="#ff1a1a" stroke-width="0.45" stroke-opacity="0.7"/>
<line x1="97.50" y1="364.15" x2="97.50" y2="364.06" stroke="#ff1a1a" stroke-width="0.45" stroke-opacity="0.7"/>
<line x1="97.81" y1="364.15" x2="97.81" y2="363.99" stroke="#ff1a1a" stroke-width="0.45" stroke-opacity="0.7"/>
<line x1="98.13" y1="364.15" x2="98.13" y2="363.57" stroke="#ff1a1a" stroke-width="0.45" stroke-opacity="0.7"/>
<line x1="98.44" y1="364.15" x2="98.44" y2="364.00" stroke="#ff1a1a" stroke-width="0.45" stroke-opacity="0.7"/>
<line x1="98.76" y1="364.15" x2="98.76" y2="363.96" stroke="#ff1a1a" stroke-width="0.45" stroke-opacity="0.7"/>
<line x1="99.08" y1="364.15" x2="99.08" y2="364.15" stroke="#ff1a1a" stroke-width="0.45" stroke-opacity="0.7"/>
<line x1="99.39" y1="364.15" x2="99.39" y2="363.87" stroke="#ff1a1a" stroke-width="0.45" stroke-opacity="0.7"/>
<line x1="99.71" y1="364.15" x2="99.71" y2="364.03" stroke="#ff1a1a" stroke-width="0.45" stroke-opacity="0.7"/>
<line x1="100.02" y1="364.15" x2="100.02" y2="364.15" stroke="#ff1a1a" stroke-width="0.45" stroke-opacity="0.7"/>
<line x1="100.34" y1="364.15" x2="100.34" y2="364.10" stroke="#ff1a1a" stroke-width="0.45" stroke-opacity="0.7"/>
<line x1="100.66" y1="364.15" x2="100.66" y2="363.42" stroke="#ff1a1a" stroke-width="0.45" stroke-opacity="0.7"/>
<line x1="100.97" y1="364.15" x2="100.97" y2="363.97" stroke="#ff1a1a" stroke-width="0.45" stroke-opacity="0.7"/>
<line x1="101.29" y1="364.15" x2="101.29" y2="363.80" stroke="#ff1a1a" stroke-width="0.45" stroke-opacity="0.7"/>
<line x1="101.60" y1="364.15" x2="101.60" y2="363.70" stroke="#ff1a1a" stroke-width="0.45" stroke-opacity="0.7"/>
<line x1="101.92" y1="364.15" x2="101.92" y2="363.72" stroke="#ff1a1a" stroke-width="0.45" stroke-opacity="0.7"/>
<line x1="102.24" y1="364.15" x2="102.24" y2="363.92" stroke="#ff1a1a" stroke-width="0.45" stroke-opacity="0.7"/>
<line x1="102.55" y1="364.15" x2="102.55" y2="362.86" stroke="#ff1a1a" stroke-width="0.45" stroke-opacity="0.7"/>
<line x1="102.87" y1="364.15" x2="102.87" y2="363.72" stroke="#ff1a1a" stroke-width="0.45" stroke-opacity="0.7"/>
<line x1="103.18" y1="364.15" x2="103.18" y2="364.12" stroke="#ff1a1a" stroke-width="0.45" stroke-opacity="0.7"/>
<line x1="103.50" y1="364.15" x2="103.50" y2="363.61" stroke="#ff1a1a" stroke-width="0.45" stroke-opacity="0.7"/>
<line x1="103.82" y1="364.15" x2="103.82" y2="363.71" stroke="#ff1a1a" stroke-width="0.45" stroke-opacity="0.7"/>
<line x1="104.13" y1="364.15" x2="104.13" y2="364.07" stroke="#ff1a1a" stroke-width="0.45" stroke-opacity="0.7"/>
<line x1="104.45" y1="364.15" x2="104.45" y2="363.85" stroke="#ff1a1a" stroke-width="0.45" stroke-opacity="0.7"/>
<line x1="104.76" y1="364.15" x2="104.76" y2="363.67" stroke="#ff1a1a" stroke-width="0.45" stroke-opacity="0.7"/>
<line x1="105.08" y1="364.15" x2="105.08" y2="363.80" stroke="#ff1a1a" stroke-width="0.45" stroke-opacity="0.7"/>
<line x1="105.40" y1="364.15" x2="105.40" y2="363.74" stroke="#ff1a1a" stroke-width="0.45" stroke-opacity="0.7"/>
<line x1="105.71" y1="364.15" x2="105.71" y2="363.31" stroke="#ff1a1a" stroke-width="0.45" stroke-opacity="0.7"/>
<line x1="106.03" y1="364.15" x2="106.03" y2="364.07" stroke="#ff1a1a" stroke-width="0.45" stroke-opacity="0.7"/>
<line x1="106.34" y1="364.15" x2="106.34" y2="364.09" stroke="#ff1a1a" stroke-width="0.45" stroke-opacity="0.7"/>
<line x1="106.66" y1="364.15" x2="106.66" y2="363.81" stroke="#ff1a1a" stroke-width="0.45" stroke-opacity="0.7"/>
<line x1="106.98" y1="364.15" x2="106.98" y2="363.77" stroke="#ff1a1a" stroke-width="0.45" stroke-opacity="0.7"/>
<line x1="107.29" y1="364.15" x2="107.29" y2="363.16" stroke="#ff1a1a" stroke-width="0.45" stroke-opacity="0.7"/>
<line x1="107.61" y1="364.15" x2="107.61" y2="363.67" stroke="#ff1a1a" stroke-width="0.45" stroke-opacity="0.7"/>
<line x1="107.92" y1="364.15" x2="107.92" y2="363.85" stroke="#ff1a1a" stroke-width="0.45" stroke-opacity="0.7"/>
<line x1="108.24" y1="364.15" x2="108.24" y2="363.05" stroke="#ff1a1a" stroke-width="0.45" stroke-opacity="0.7"/>
<line x1="108.56" y1="364.15" x2="108.56" y2="363.71" stroke="#ff1a1a" stroke-width="0.45" stroke-opacity="0.7"/>
<line x1="108.87" y1="364.15" x2="108.87" y2="364.11" stroke="#ff1a1a" stroke-width="0.45" stroke-opacity="0.7"/>
<line x1="109.19" y1="364.15" x2="109.19" y2="363.71" stroke="#ff1a1a" stroke-width="0.45" stroke-opacity="0.7"/>
<line x1="109.50" y1="364.15" x2="109.50" y2="363.71" stroke="#ff1a1a" stroke-width="0.45" stroke-opacity="0.7"/>
<line x1="109.82" y1="364.15" x2="109.82" y2="363.85" stroke="#ff1a1a" stroke-width="0.45" stroke-opacity="0.7"/>
<line x1="110.14" y1="364.15" x2="110.14" y2="363.86" stroke="#ff1a1a" stroke-width="0.45" stroke-opacity="0.7"/>
<line x1="110.45" y1="364.15" x2="110.45" y2="363.69" stroke="#ff1a1a" stroke-width="0.45" stroke-opacity="0.7"/>
<line x1="110.77" y1="364.15" x2="110.77" y2="363.06" stroke="#ff1a1a" stroke-width="0.45" stroke-opacity="0.7"/>
<line x1="111.08" y1="364.15" x2="111.08" y2="364.06" stroke="#ff1a1a" stroke-width="0.45" stroke-opacity="0.7"/>
<line x1="111.40" y1="364.15" x2="111.40" y2="363.70" stroke="#ff1a1a" stroke-width="0.45" stroke-opacity="0.7"/>
<line x1="111.72" y1="364.15" x2="111.72" y2="363.11" stroke="#ff1a1a" stroke-width="0.45" stroke-opacity="0.7"/>
<line x1="112.03" y1="364.15" x2="112.03" y2="364.11" stroke="#ff1a1a" stroke-width="0.45" stroke-opacity="0.7"/>
<line x1="112.35" y1="364.15" x2="112.35" y2="363.75" stroke="#ff1a1a" stroke-width="0.45" stroke-opacity="0.7"/>
<line x1="112.66" y1="364.15" x2="112.66" y2="363.74" stroke="#ff1a1a" stroke-width="0.45" stroke-opacity="0.7"/>
<line x1="112.98" y1="364.15" x2="112.98" y2="363.84" stroke="#ff1a1a" stroke-width="0.45" stroke-opacity="0.7"/>
<line x1="113.30" y1="364.15" x2="113.30" y2="363.17" stroke="#ff1a1a" stroke-width="0.45" stroke-opacity="0.7"/>
<line x1="113.61" y1="364.15" x2="113.61" y2="362.91" stroke="#ff1a1a" stroke-width="0.45" stroke-opacity="0.7"/>
<line x1="113.93" y1="364.15" x2="113.93" y2="363.56" stroke="#ff1a1a" stroke-width="0.45" stroke-opacity="0.7"/>
<line x1="114.24" y1="364.15" x2="114.24" y2="364.14" stroke="#ff1a1a" stroke-width="0.45" stroke-opacity="0.7"/>
<line x1="114.56" y1="364.15" x2="114.56" y2="363.66" stroke="#ff1a1a" stroke-width="0.45" stroke-opacity="0.7"/>
<line x1="114.88" y1="364.15" x2="114.88" y2="363.88" stroke="#ff1a1a" stroke-width="0.45" stroke-opacity="0.7"/>
<line x1="115.19" y1="364.15" x2="115.19" y2="364.02" stroke="#ff1a1a" stroke-width="0.45" stroke-opacity="0.7"/>
<line x1="115.51" y1="364.15" x2="115.51" y2="364.02" stroke="#ff1a1a" stroke-width="0.45" stroke-opacity="0.7"/>
<line x1="115.82" y1="364.15" x2="115.82" y2="364.06" stroke="#ff1a1a" stroke-width="0.45" stroke-opacity="0.7"/>
<line x1="116.14" y1="364.15" x2="116.14" y2="362.88" stroke="#ff1a1a" stroke-width="0.45" stroke-opacity="0.7"/>
<line x1="116.46" y1="364.15" x2="116.46" y2="363.66" stroke="#ff1a1a" stroke-width="0.45" stroke-opacity="0.7"/>
<line x1="116.77" y1="364.15" x2="116.77" y2="363.62" stroke="#ff1a1a" stroke-width="0.45" stroke-opacity="0.7"/>
<line x1="117.09" y1="364.15" x2="117.09" y2="364.01" stroke="#ff1a1a" stroke-width="0.45" stroke-opacity="0.7"/>
<line x1="117.40" y1="364.15" x2="117.40" y2="363.16" stroke="#ff1a1a" stroke-width="0.45" stroke-opacity="0.7"/>
<line x1="117.72" y1="364.15" x2="117.72" y2="364.15" stroke="#ff1a1a" stroke-width="0.45" stroke-opacity="0.7"/>
<line x1="118.04" y1="364.15" x2="118.04" y2="363.88" stroke="#ff1a1a" stroke-width="0.45" stroke-opacity="0.7"/>
<line x1="118.35" y1="364.15" x2="118.35" y2="364.07" stroke="#ff1a1a" stroke-width="0.45" stroke-opacity="0.7"/>
<line x1="118.67" y1="364.15" x2="118.67" y2="363.96" stroke="#ff1a1a" stroke-width="0.45" stroke-opacity="0.7"/>
<line x1="118.98" y1="364.15" x2="118.98" y2="364.15" stroke="#ff1a1a" stroke-width="0.45" stroke-opacity="0.7"/>
<line x1="119.30" y1="364.15" x2="119.30" y2="362.95" stroke="#ff1a1a" stroke-width="0.45" stroke-opacity="0.7"/>
<line x1="119.62" y1="364.15" x2="119.62" y2="363.59" stroke="#ff1a1a" stroke-width="0.45" stroke-opacity="0.7"/>
<line x1="119.93" y1="364.15" x2="119.93" y2="363.61" stroke="#ff1a1a" stroke-width="0.45" stroke-opacity="0.7"/>
<line x1="120.25" y1="364.15" x2="120.25" y2="363.93" stroke="#ff1a1a" stroke-width="0.45" stroke-opacity="0.7"/>
<line x1="120.56" y1="364.15" x2="120.56" y2="363.55" stroke="#ff1a1a" stroke-width="0.45" stroke-opacity="0.7"/>
<line x1="120.88" y1="364.15" x2="120.88" y2="363.93" stroke="#ff1a1a" stroke-width="0.45" stroke-opacity="0.7"/>
<line x1="121.20" y1="364.15" x2="121.20" y2="363.28" stroke="#ff1a1a" stroke-width="0.45" stroke-opacity="0.7"/>
<line x1="121.51" y1="364.15" x2="121.51" y2="364.09" stroke="#ff1a1a" stroke-width="0.45" stroke-opacity="0.7"/>
<line x1="121.83" y1="364.15" x2="121.83" y2="363.98" stroke="#ff1a1a" stroke-width="0.45" stroke-opacity="0.7"/>
<line x1="122.14" y1="364.15" x2="122.14" y2="364.00" stroke="#ff1a1a" stroke-width="0.45" stroke-opacity="0.7"/>
<line x1="122.46" y1="364.15" x2="122.46" y2="363.14" stroke="#ff1a1a" stroke-width="0.45" stroke-opacity="0.7"/>
<line x1="122.78" y1="364.15" x2="122.78" y2="363.93" stroke="#ff1a1a" stroke-width="0.45" stroke-opacity="0.7"/>
<line x1="123.09" y1="364.15" x2="123.09" y2="363.62" stroke="#ff1a1a" stroke-width="0.45" stroke-opacity="0.7"/>
<line x1="123.41" y1="364.15" x2="123.41" y2="363.77" stroke="#ff1a1a" stroke-width="0.45" stroke-opacity="0.7"/>
<line x1="123.72" y1="364.15" x2="123.72" y2="363.59" stroke="#ff1a1a" stroke-width="0.45" stroke-opacity="0.7"/>
<line x1="124.04" y1="364.15" x2="124.04" y2="363.02" stroke="#ff1a1a" stroke-width="0.45" stroke-opacity="0.7"/>
<line x1="124.36" y1="364.15" x2="124.36" y2="363.71" stroke="#ff1a1a" stroke-width="0.45" stroke-opacity="0.7"/>
<line x1="124.67" y1="364.15" x2="124.67" y2="363.70" stroke="#ff1a1a" stroke-width="0.45" stroke-opacity="0.7"/>
<line x1="124.99" y1="364.15" x2="124.99" y2="363.28" stroke="#ff1a1a" stroke-width="0.45" stroke-opacity="0.7"/>
<line x1="125.30" y1="364.15" x2="125.30" y2="362.89" stroke="#ff1a1a" stroke-width="0.45" stroke-opacity="0.7"/>
<line x1="125.62" y1="364.15" x2="125.62" y2="363.87" stroke="#ff1a1a" stroke-width="0.45" stroke-opacity="0.7"/>
<line x1="125.94" y1="364.15" x2="125.94" y2="363.97" stroke="#ff1a1a" stroke-width="0.45" stroke-opacity="0.7"/>
<line x1="126.25" y1="364.15" x2="126.25" y2="363.56" stroke="#ff1a1a" stroke-width="0.45" stroke-opacity="0.7"/>
<line x1="126.57" y1="364.15" x2="126.57" y2="363.76" stroke="#ff1a1a" stroke-width="0.45" stroke-opacity="0.7"/>
<line x1="126.88" y1="364.15" x2="126.88" y2="363.82" stroke="#ff1a1a" stroke-width="0.45" stroke-opacity="0.7"/>
<line x1="127.20" y1="364.15" x2="127.20" y2="363.35" stroke="#ff1a1a" stroke-width="0.45" stroke-opacity="0.7"/>
<line x1="127.52" y1="364.15" x2="127.52" y2="364.03" stroke="#ff1a1a" stroke-width="0.45" stroke-opacity="0.7"/>
<line x1="127.83" y1="364.15" x2="127.83" y2="363.85" stroke="#ff1a1a" stroke-width="0.45" stroke-opacity="0.7"/>
<line x1="128.15" y1="364.15" x2="128.15" y2="363.61" stroke="#ff1a1a" stroke-width="0.45" stroke-opacity="0.7"/>
<line x1="128.46" y1="364.15" x2="128.46" y2="363.18" stroke="#ff1a1a" stroke-width="0.45" stroke-opacity="0.7"/>
<line x1="128.78" y1="364.15" x2="128.78" y2="363.33" stroke="#ff1a1a" stroke-width="0.45" stroke-opacity="0.7"/>
<line x1="129.10" y1="364.15" x2="129.10" y2="363.24" stroke="#ff1a1a" stroke-width="0.45" stroke-opacity="0.7"/>
<line x1="129.41" y1="364.15" x2="129.41" y2="364.01" stroke="#ff1a1a" stroke-width="0.45" stroke-opacity="0.7"/>
<line x1="129.73" y1="364.15" x2="129.73" y2="363.81" stroke="#ff1a1a" stroke-width="0.45" stroke-opacity="0.7"/>
<line x1="130.04" y1="364.15" x2="130.04" y2="363.70" stroke="#ff1a1a" stroke-width="0.45" stroke-opacity="0.7"/>
<line x1="130.36" y1="364.15" x2="130.36" y2="363.90" stroke="#ff1a1a" stroke-width="0.45" stroke-opacity="0.7"/>
<line x1="130.68" y1="364.15" x2="130.68" y2="363.92" stroke="#ff1a1a" stroke-width="0.45" stroke-opacity="0.7"/>
<line x1="130.99" y1="364.15" x2="130.99" y2="364.11" stroke="#ff1a1a" stroke-width="0.45" stroke-opacity="0.7"/>
<line x1="131.31" y1="364.15" x2="131.31" y2="362.87" stroke="#ff1a1a" stroke-width="0.45" stroke-opacity="0.7"/>
<line x1="131.62" y1="364.15" x2="131.62" y2="363.85" stroke="#ff1a1a" stroke-width="0.45" stroke-opacity="0.7"/>
<line x1="131.94" y1="364.15" x2="131.94" y2="363.63" stroke="#ff1a1a" stroke-width="0.45" stroke-opacity="0.7"/>
<line x1="132.26" y1="364.15" x2="132.26" y2="363.99" stroke="#ff1a1a" stroke-width="0.45" stroke-opacity="0.7"/>
<line x1="132.57" y1="364.15" x2="132.57" y2="363.91" stroke="#ff1a1a" stroke-width="0.45" stroke-opacity="0.7"/>
<line x1="132.89" y1="364.15" x2="132.89" y2="363.58" stroke="#ff1a1a" stroke-width="0.45" stroke-opacity="0.7"/>
<line x1="133.20" y1="364.15" x2="133.20" y2="362.93" stroke="#ff1a1a" stroke-width="0.45" stroke-opacity="0.7"/>
<line x1="133.52" y1="364.15" x2="133.52" y2="364.13" stroke="#ff1a1a" stroke-width="0.45" stroke-opacity="0.7"/>
<line x1="133.84" y1="364.15" x2="133.84" y2="363.61" stroke="#ff1a1a" stroke-width="0.45" stroke-opacity="0.7"/>
<line x1="134.15" y1="364.15" x2="134.15" y2="363.10" stroke="#ff1a1a" stroke-width="0.45" stroke-opacity="0.7"/>
<line x1="134.47" y1="364.15" x2="134.47" y2="363.92" stroke="#ff1a1a" stroke-width="0.45" stroke-opacity="0.7"/>
<line x1="134.78" y1="364.15" x2="134.78" y2="363.65" stroke="#ff1a1a" stroke-width="0.45" stroke-opacity="0.7"/>
<line x1="135.10" y1="364.15" x2="135.10" y2="363.57" stroke="#ff1a1a" stroke-width="0.45" stroke-opacity="0.7"/>
<line x1="135.42" y1="364.15" x2="135.42" y2="363.38" stroke="#ff1a1a" stroke-width="0.45" stroke-opacity="0.7"/>
<line x1="135.73" y1="364.15" x2="135.73" y2="363.84" stroke="#ff1a1a" stroke-width="0.45" stroke-opacity="0.7"/>
<line x1="136.05" y1="364.15" x2="136.05" y2="363.59" stroke="#ff1a1a" stroke-width="0.45" stroke-opacity="0.7"/>
<line x1="136.36" y1="364.15" x2="136.36" y2="363.76" stroke="#ff1a1a" stroke-width="0.45" stroke-opacity="0.7"/>
<line x1="136.68" y1="364.15" x2="136.68" y2="363.88" stroke="#ff1a1a" stroke-width="0.45" stroke-opacity="0.7"/>
<line x1="137.00" y1="364.15" x2="137.00" y2="364.13" stroke="#ff1a1a" stroke-width="0.45" stroke-opacity="0.7"/>
<line x1="137.31" y1="364.15" x2="137.31" y2="364.01" stroke="#ff1a1a" stroke-width="0.45" stroke-opacity="0.7"/>
<line x1="137.63" y1="364.15" x2="137.63" y2="363.76" stroke="#ff1a1a" stroke-width="0.45" stroke-opacity="0.7"/>
<line x1="137.94" y1="364.15" x2="137.94" y2="364.07" stroke="#ff1a1a" stroke-width="0.45" stroke-opacity="0.7"/>
<line x1="138.26" y1="364.15" x2="138.26" y2="363.77" stroke="#ff1a1a" stroke-width="0.45" stroke-opacity="0.7"/>
<line x1="138.58" y1="364.15" x2="138.58" y2="363.38" stroke="#ff1a1a" stroke-width="0.45" stroke-opacity="0.7"/>
<line x1="138.89" y1="364.15" x2="138.89" y2="363.84" stroke="#ff1a1a" stroke-width="0.45" stroke-opacity="0.7"/>
<line x1="139.21" y1="364.15" x2="139.21" y2="363.92" stroke="#ff1a1a" stroke-width="0.45" stroke-opacity="0.7"/>
<line x1="139.52" y1="364.15" x2="139.52" y2="363.09" stroke="#ff1a1a" stroke-width="0.45" stroke-opacity="0.7"/>
<line x1="139.84" y1="364.15" x2="139.84" y2="363.97" stroke="#ff1a1a" stroke-width="0.45" stroke-opacity="0.7"/>
<line x1="140.16" y1="364.15" x2="140.16" y2="363.57" stroke="#ff1a1a" stroke-width="0.45" stroke-opacity="0.7"/>
<line x1="140.47" y1="364.15" x2="140.47" y2="363.62" stroke="#ff1a1a" stroke-width="0.45" stroke-opacity="0.7"/>
<line x1="140.79" y1="364.15" x2="140.79" y2="364.01" stroke="#ff1a1a" stroke-width="0.45" stroke-opacity="0.7"/>
<line x1="141.10" y1="364.15" x2="141.10" y2="363.57" stroke="#ff1a1a" stroke-width="0.45" stroke-opacity="0.7"/>
<line x1="141.42" y1="364.15" x2="141.42" y2="363.27" stroke="#ff1a1a" stroke-width="0.45" stroke-opacity="0.7"/>
<line x1="141.74" y1="364.15" x2="141.74" y2="363.85" stroke="#ff1a1a" stroke-width="0.45" stroke-opacity="0.7"/>
<line x1="142.05" y1="364.15" x2="142.05" y2="363.90" stroke="#ff1a1a" stroke-width="0.45" stroke-opacity="0.7"/>
<line x1="142.37" y1="364.15" x2="142.37" y2="363.75" stroke="#ff1a1a" stroke-width="0.45" stroke-opacity="0.7"/>
<line x1="142.68" y1="364.15" x2="142.68" y2="363.31" stroke="#ff1a1a" stroke-width="0.45" stroke-opacity="0.7"/>
<line x1="143.00" y1="364.15" x2="143.00" y2="363.95" stroke="#ff1a1a" stroke-width="0.45" stroke-opacity="0.7"/>
<line x1="143.32" y1="364.15" x2="143.32" y2="363.04" stroke="#ff1a1a" stroke-width="0.45" stroke-opacity="0.7"/>
<line x1="143.63" y1="364.15" x2="143.63" y2="363.67" stroke="#ff1a1a" stroke-width="0.45" stroke-opacity="0.7"/>
<line x1="143.95" y1="364.15" x2="143.95" y2="363.85" stroke="#ff1a1a" stroke-width="0.45" stroke-opacity="0.7"/>
<line x1="144.26" y1="364.15" x2="144.26" y2="363.57" stroke="#ff1a1a" stroke-width="0.45" stroke-opacity="0.7"/>
<line x1="144.58" y1="364.15" x2="144.58" y2="363.66" stroke="#ff1a1a" stroke-width="0.45" stroke-opacity="0.7"/>
<line x1="144.90" y1="364.15" x2="144.90" y2="364.02" stroke="#ff1a1a" stroke-width="0.45" stroke-opacity="0.7"/>
<line x1="145.21" y1="364.15" x2="145.21" y2="363.97" stroke="#ff1a1a" stroke-width="0.45" stroke-opacity="0.7"/>
<line x1="145.53" y1="364.15" x2="145.53" y2="363.15" stroke="#ff1a1a" stroke-width="0.45" stroke-opacity="0.7"/>
<line x1="145.84" y1="364.15" x2="145.84" y2="364.02" stroke="#ff1a1a" stroke-width="0.45" stroke-opacity="0.7"/>
<line x1="146.16" y1="364.15" x2="146.16" y2="363.75" stroke="#ff1a1a" stroke-width="0.45" stroke-opacity="0.7"/>
<line x1="146.48" y1="364.15" x2="146.48" y2="364.06" stroke="#ff1a1a" stroke-width="0.45" stroke-opacity="0.7"/>
<line x1="146.79" y1="364.15" x2="146.79" y2="364.02" stroke="#ff1a1a" stroke-width="0.45" stroke-opacity="0.7"/>
<line x1="147.11" y1="364.15" x2="147.11" y2="363.36" stroke="#ff1a1a" stroke-width="0.45" stroke-opacity="0.7"/>
<line x1="147.42" y1="364.15" x2="147.42" y2="364.11" stroke="#ff1a1a" stroke-width="0.45" stroke-opacity="0.7"/>
<line x1="147.74" y1="364.15" x2="147.74" y2="363.61" stroke="#ff1a1a" stroke-width="0.45" stroke-opacity="0.7"/>
<line x1="148.06" y1="364.15" x2="148.06" y2="363.71" stroke="#ff1a1a" stroke-width="0.45" stroke-opacity="0.7"/>
<line x1="148.37" y1="364.15" x2="148.37" y2="363.59" stroke="#ff1a1a" stroke-width="0.45" stroke-opacity="0.7"/>
<line x1="148.69" y1="364.15" x2="148.69" y2="364.04" stroke="#ff1a1a" stroke-width="0.45" stroke-opacity="0.7"/>
<line x1="149.00" y1="364.15" x2="149.00" y2="363.00" stroke="#ff1a1a" stroke-width="0.45" stroke-opacity="0.7"/>
<line x1="149.32" y1="364.15" x2="149.32" y2="363.75" stroke="#ff1a1a" stroke-width="0.45" stroke-opacity="0.7"/>
<line x1="149.64" y1="364.15" x2="149.64" y2="363.93" stroke="#ff1a1a" stroke-width="0.45" stroke-opacity="0.7"/>
<line x1="149.95" y1="364.15" x2="149.95" y2="363.35" stroke="#ff1a1a" stroke-width="0.45" stroke-opacity="0.7"/>
<line x1="150.27" y1="364.15" x2="150.27" y2="363.98" stroke="#ff1a1a" stroke-width="0.45" stroke-opacity="0.7"/>
<line x1="150.58" y1="364.15" x2="150.58" y2="362.88" stroke="#ff1a1a" stroke-width="0.45" stroke-opacity="0.7"/>
<line x1="150.90" y1="364.15" x2="150.90" y2="363.57" stroke="#ff1a1a" stroke-width="0.45" stroke-opacity="0.7"/>
<line x1="151.22" y1="364.15" x2="151.22" y2="363.94" stroke="#ff1a1a" stroke-width="0.45" stroke-opacity="0.7"/>
<line x1="151.53" y1="364.15" x2="151.53" y2="363.66" stroke="#ff1a1a" stroke-width="0.45" stroke-opacity="0.7"/>
<line x1="151.85" y1="364.15" x2="151.85" y2="364.12" stroke="#ff1a1a" stroke-width="0.45" stroke-opacity="0.7"/>
<line x1="152.16" y1="364.15" x2="152.16" y2="363.93" stroke="#ff1a1a" stroke-width="0.45" stroke-opacity="0.7"/>
<line x1="152.48" y1="364.15" x2="152.48" y2="364.03" stroke="#ff1a1a" stroke-width="0.45" stroke-opacity="0.7"/>
<line x1="152.80" y1="364.15" x2="152.80" y2="362.91" stroke="#ff1a1a" stroke-width="0.45" stroke-opacity="0.7"/>
<line x1="153.11" y1="364.15" x2="153.11" y2="363.90" stroke="#ff1a1a" stroke-width="0.45" stroke-opacity="0.7"/>
<line x1="153.43" y1="364.15" x2="153.43" y2="362.99" stroke="#ff1a1a" stroke-width="0.45" stroke-opacity="0.7"/>
<line x1="153.74" y1="364.15" x2="153.74" y2="363.43" stroke="#ff1a1a" stroke-width="0.45" stroke-opacity="0.7"/>
<line x1="154.06" y1="364.15" x2="154.06" y2="363.60" stroke="#ff1a1a" stroke-width="0.45" stroke-opacity="0.7"/>
<line x1="154.38" y1="364.15" x2="154.38" y2="363.70" stroke="#ff1a1a" stroke-width="0.45" stroke-opacity="0.7"/>
<line x1="154.69" y1="364.15" x2="154.69" y2="363.95" stroke="#ff1a1a" stroke-width="0.45" stroke-opacity="0.7"/>
<line x1="155.01" y1="364.15" x2="155.01" y2="363.58" stroke="#ff1a1a" stroke-width="0.45" stroke-opacity="0.7"/>
<line x1="155.32" y1="364.15" x2="155.32" y2="363.99" stroke="#ff1a1a" stroke-width="0.45" stroke-opacity="0.7"/>
<line x1="155.64" y1="364.15" x2="155.64" y2="363.96" stroke="#ff1a1a" stroke-width="0.45" stroke-opacity="0.7"/>
<line x1="155.96" y1="364.15" x2="155.96" y2="364.15" stroke="#ff1a1a" stroke-width="0.45" stroke-opacity="0.7"/>
<line x1="156.27" y1="364.15" x2="156.27" y2="363.60" stroke="#ff1a1a" stroke-width="0.45" stroke-opacity="0.7"/>
<line x1="156.59" y1="364.15" x2="156.59" y2="362.88" stroke="#ff1a1a" stroke-width="0.45" stroke-opacity="0.7"/>
<line x1="156.90" y1="364.15" x2="156.90" y2="364.01" stroke="#ff1a1a" stroke-width="0.45" stroke-opacity="0.7"/>
<line x1="157.22" y1="364.15" x2="157.22" y2="363.58" stroke="#ff1a1a" stroke-width="0.45" stroke-opacity="0.7"/>
<line x1="157.54" y1="364.15" x2="157.54" y2="363.92" stroke="#ff1a1a" stroke-width="0.45" stroke-opacity="0.7"/>
<line x1="157.85" y1="364.15" x2="157.85" y2="363.89" stroke="#ff1a1a" stroke-width="0.45" stroke-opacity="0.7"/>
<line x1="158.17" y1="364.15" x2="158.17" y2="362.89" stroke="#ff1a1a" stroke-width="0.45" stroke-opacity="0.7"/>
<line x1="158.48" y1="364.15" x2="158.48" y2="363.67" stroke="#ff1a1a" stroke-width="0.45" stroke-opacity="0.7"/>
<line x1="158.80" y1="364.15" x2="158.80" y2="363.66" stroke="#ff1a1a" stroke-width="0.45" stroke-opacity="0.7"/>
<line x1="159.12" y1="364.15" x2="159.12" y2="363.79" stroke="#ff1a1a" stroke-width="0.45" stroke-opacity="0.7"/>
<line x1="159.43" y1="364.15" x2="159.43" y2="363.96" stroke="#ff1a1a" stroke-width="0.45" stroke-opacity="0.7"/>
<line x1="159.75" y1="364.15" x2="159.75" y2="362.98" stroke="#ff1a1a" stroke-width="0.45" stroke-opacity="0.7"/>
<line x1="160.06" y1="364.15" x2="160.06" y2="364.03" stroke="#ff1a1a" stroke-width="0.45" stroke-opacity="0.7"/>
<line x1="160.38" y1="364.15" x2="160.38" y2="363.30" stroke="#ff1a1a" stroke-width="0.45" stroke-opacity="0.7"/>
<line x1="160.70" y1="364.15" x2="160.70" y2="364.13" stroke="#ff1a1a" stroke-width="0.45" stroke-opacity="0.7"/>
<line x1="161.01" y1="364.15" x2="161.01" y2="363.95" stroke="#ff1a1a" stroke-width="0.45" stroke-opacity="0.7"/>
<line x1="161.33" y1="364.15" x2="161.33" y2="363.62" stroke="#ff1a1a" stroke-width="0.45" stroke-opacity="0.7"/>
<line x1="161.64" y1="364.15" x2="161.64" y2="363.29" stroke="#ff1a1a" stroke-width="0.45" stroke-opacity="0.7"/>
<line x1="161.96" y1="364.15" x2="161.96" y2="364.09" stroke="#ff1a1a" stroke-width="0.45" stroke-opacity="0.7"/>
<line x1="162.28" y1="364.15" x2="162.28" y2="363.72" stroke="#ff1a1a" stroke-width="0.45" stroke-opacity="0.7"/>
<line x1="162.59" y1="364.15" x2="162.59" y2="364.01" stroke="#ff1a1a" stroke-width="0.45" stroke-opacity="0.7"/>
<line x1="162.91" y1="364.15" x2="162.91" y2="363.78" stroke="#ff1a1a" stroke-width="0.45" stroke-opacity="0.7"/>
<line x1="163.22" y1="364.15" x2="163.22" y2="363.70" stroke="#ff1a1a" stroke-width="0.45" stroke-opacity="0.7"/>
<line x1="163.54" y1="364.15" x2="163.54" y2="363.05" stroke="#ff1a1a" stroke-width="0.45" stroke-opacity="0.7"/>
<line x1="163.86" y1="364.15" x2="163.86" y2="363.65" stroke="#ff1a1a" stroke-width="0.45" stroke-opacity="0.7"/>
<line x1="164.17" y1="364.15" x2="164.17" y2="363.81" stroke="#ff1a1a" stroke-width="0.45" stroke-opacity="0.7"/>
<line x1="164.49" y1="364.15" x2="164.49" y2="363.01" stroke="#ff1a1a" stroke-width="0.45" stroke-opacity="0.7"/>
<line x1="164.80" y1="364.15" x2="164.80" y2="364.00" stroke="#ff1a1a" stroke-width="0.45" stroke-opacity="0.7"/>
<line x1="165.12" y1="364.15" x2="165.12" y2="364.06" stroke="#ff1a1a" stroke-width="0.45" stroke-opacity="0.7"/>
<line x1="165.44" y1="364.15" x2="165.44" y2="363.80" stroke="#ff1a1a" stroke-width="0.45" stroke-opacity="0.7"/>
<line x1="165.75" y1="364.15" x2="165.75" y2="363.91" stroke="#ff1a1a" stroke-width="0.45" stroke-opacity="0.7"/>
<line x1="166.07" y1="364.15" x2="166.07" y2="363.85" stroke="#ff1a1a" stroke-width="0.45" stroke-opacity="0.7"/>
<line x1="166.38" y1="364.15" x2="166.38" y2="363.66" stroke="#ff1a1a" stroke-width="0.45" stroke-opacity="0.7"/>
<line x1="166.70" y1="364.15" x2="166.70" y2="362.86" stroke="#ff1a1a" stroke-width="0.45" stroke-opacity="0.7"/>
<line x1="167.02" y1="364.15" x2="167.02" y2="363.87" stroke="#ff1a1a" stroke-width="0.45" stroke-opacity="0.7"/>
<line x1="167.33" y1="364.15" x2="167.33" y2="363.65" stroke="#ff1a1a" stroke-width="0.45" stroke-opacity="0.7"/>
<line x1="167.65" y1="364.15" x2="167.65" y2="364.13" stroke="#ff1a1a" stroke-width="0.45" stroke-opacity="0.7"/>
<line x1="167.96" y1="364.15" x2="167.96" y2="363.38" stroke="#ff1a1a" stroke-width="0.45" stroke-opacity="0.7"/>
<line x1="168.28" y1="364.15" x2="168.28" y2="363.57" stroke="#ff1a1a" stroke-width="0.45" stroke-opacity="0.7"/>
<line x1="168.60" y1="364.15" x2="168.60" y2="363.59" stroke="#ff1a1a" stroke-width="0.45" stroke-opacity="0.7"/>
<line x1="168.91" y1="364.15" x2="168.91" y2="363.63" stroke="#ff1a1a" stroke-width="0.45" stroke-opacity="0.7"/>
<line x1="169.23" y1="364.15" x2="169.23" y2="363.99" stroke="#ff1a1a" stroke-width="0.45" stroke-opacity="0.7"/>
<line x1="169.54" y1="364.15" x2="169.54" y2="362.88" stroke="#ff1a1a" stroke-width="0.45" stroke-opacity="0.7"/>
<line x1="169.86" y1="364.15" x2="169.86" y2="363.79" stroke="#ff1a1a" stroke-width="0.45" stroke-opacity="0.7"/>
<line x1="170.18" y1="364.15" x2="170.18" y2="364.02" stroke="#ff1a1a" stroke-width="0.45" stroke-opacity="0.7"/>
<line x1="170.49" y1="364.15" x2="170.49" y2="364.07" stroke="#ff1a1a" stroke-width="0.45" stroke-opacity="0.7"/>
<line x1="170.81" y1="364.15" x2="170.81" y2="364.00" stroke="#ff1a1a" stroke-width="0.45" stroke-opacity="0.7"/>
<line x1="171.12" y1="364.15" x2="171.12" y2="363.76" stroke="#ff1a1a" stroke-width="0.45" stroke-opacity="0.7"/>
<line x1="171.44" y1="364.15" x2="171.44" y2="364.14" stroke="#ff1a1a" stroke-width="0.45" stroke-opacity="0.7"/>
<line x1="171.76" y1="364.15" x2="171.76" y2="363.04" stroke="#ff1a1a" stroke-width="0.45" stroke-opacity="0.7"/>
<line x1="172.07" y1="364.15" x2="172.07" y2="363.96" stroke="#ff1a1a" stroke-width="0.45" stroke-opacity="0.7"/>
<line x1="172.39" y1="364.15" x2="172.39" y2="363.67" stroke="#ff1a1a" stroke-width="0.45" stroke-opacity="0.7"/>
<line x1="172.70" y1="364.15" x2="172.70" y2="363.41" stroke="#ff1a1a" stroke-width="0.45" stroke-opacity="0.7"/>
<line x1="173.02" y1="364.15" x2="173.02" y2="363.91" stroke="#ff1a1a" stroke-width="0.45" stroke-opacity="0.7"/>
<line x1="173.34" y1="364.15" x2="173.34" y2="363.07" stroke="#ff1a1a" stroke-width="0.45" stroke-opacity="0.7"/>
<line x1="173.65" y1="364.15" x2="173.65" y2="364.05" stroke="#ff1a1a" stroke-width="0.45" stroke-opacity="0.7"/>
<line x1="173.97" y1="364.15" x2="173.97" y2="363.90" stroke="#ff1a1a" stroke-width="0.45" stroke-opacity="0.7"/>
<line x1="174.28" y1="364.15" x2="174.28" y2="363.97" stroke="#ff1a1a" stroke-width="0.45" stroke-opacity="0.7"/>
<line x1="174.60" y1="364.15" x2="174.60" y2="363.96" stroke="#ff1a1a" stroke-width="0.45" stroke-opacity="0.7"/>
<line x1="174.92" y1="364.15" x2="174.92" y2="363.94" stroke="#ff1a1a" stroke-width="0.45" stroke-opacity="0.7"/>
<line x1="175.23" y1="364.15" x2="175.23" y2="363.63" stroke="#ff1a1a" stroke-width="0.45" stroke-opacity="0.7"/>
<line x1="175.55" y1="364.15" x2="175.55" y2="363.23" stroke="#ff1a1a" stroke-width="0.45" stroke-opacity="0.7"/>
<line x1="175.86" y1="364.15" x2="175.86" y2="363.71" stroke="#ff1a1a" stroke-width="0.45" stroke-opacity="0.7"/>
<line x1="176.18" y1="364.15" x2="176.18" y2="364.15" stroke="#ff1a1a" stroke-width="0.45" stroke-opacity="0.7"/>
<line x1="176.50" y1="364.15" x2="176.50" y2="363.90" stroke="#ff1a1a" stroke-width="0.45" stroke-opacity="0.7"/>
<line x1="176.81" y1="364.15" x2="176.81" y2="363.91" stroke="#ff1a1a" stroke-width="0.45" stroke-opacity="0.7"/>
<line x1="177.13" y1="364.15" x2="177.13" y2="363.17" stroke="#ff1a1a" stroke-width="0.45" stroke-opacity="0.7"/>
<line x1="177.44" y1="364.15" x2="177.44" y2="364.14" stroke="#ff1a1a" stroke-width="0.45" stroke-opacity="0.7"/>
<line x1="177.76" y1="364.15" x2="177.76" y2="363.77" stroke="#ff1a1a" stroke-width="0.45" stroke-opacity="0.7"/>
<line x1="178.08" y1="364.15" x2="178.08" y2="364.10" stroke="#ff1a1a" stroke-width="0.45" stroke-opacity="0.7"/>
<line x1="178.39" y1="364.15" x2="178.39" y2="363.93" stroke="#ff1a1a" stroke-width="0.45" stroke-opacity="0.7"/>
<line x1="178.71" y1="364.15" x2="178.71" y2="364.06" stroke="#ff1a1a" stroke-width="0.45" stroke-opacity="0.7"/>
<line x1="179.02" y1="364.15" x2="179.02" y2="363.84" stroke="#ff1a1a" stroke-width="0.45" stroke-opacity="0.7"/>
<line x1="179.34" y1="364.15" x2="179.34" y2="364.08" stroke="#ff1a1a" stroke-width="0.45" stroke-opacity="0.7"/>
<line x1="179.66" y1="364.15" x2="179.66" y2="363.67" stroke="#ff1a1a" stroke-width="0.45" stroke-opacity="0.7"/>
<line x1="179.97" y1="364.15" x2="179.97" y2="363.33" stroke="#ff1a1a" stroke-width="0.45" stroke-opacity="0.7"/>
<line x1="180.29" y1="364.15" x2="180.29" y2="363.58" stroke="#ff1a1a" stroke-width="0.45" stroke-opacity="0.7"/>
<line x1="180.60" y1="364.15" x2="180.60" y2="363.16" stroke="#ff1a1a" stroke-width="0.45" stroke-opacity="0.7"/>
<line x1="180.92" y1="364.15" x2="180.92" y2="363.59" stroke="#ff1a1a" stroke-width="0.45" stroke-opacity="0.7"/>
<line x1="181.24" y1="364.15" x2="181.24" y2="363.61" stroke="#ff1a1a" stroke-width="0.45" stroke-opacity="0.7"/>
<line x1="181.55" y1="364.15" x2="181.55" y2="362.96" stroke="#ff1a1a" stroke-width="0.45" stroke-opacity="0.7"/>
<line x1="181.87" y1="364.15" x2="181.87" y2="363.68" stroke="#ff1a1a" stroke-width="0.45" stroke-opacity="0.7"/>
<line x1="182.18" y1="364.15" x2="182.18" y2="363.91" stroke="#ff1a1a" stroke-width="0.45" stroke-opacity="0.7"/>
<line x1="182.50" y1="364.15" x2="182.50" y2="362.95" stroke="#ff1a1a" stroke-width="0.45" stroke-opacity="0.7"/>
<line x1="182.82" y1="364.15" x2="182.82" y2="364.02" stroke="#ff1a1a" stroke-width="0.45" stroke-opacity="0.7"/>
<line x1="183.13" y1="364.15" x2="183.13" y2="363.84" stroke="#ff1a1a" stroke-width="0.45" stroke-opacity="0.7"/>
<line x1="183.45" y1="364.15" x2="183.45" y2="364.08" stroke="#ff1a1a" stroke-width="0.45" stroke-opacity="0.7"/>
<line x1="183.76" y1="364.15" x2="183.76" y2="363.72" stroke="#ff1a1a" stroke-width="0.45" stroke-opacity="0.7"/>
<line x1="184.08" y1="364.15" x2="184.08" y2="364.13" stroke="#ff1a1a" stroke-width="0.45" stroke-opacity="0.7"/>
<line x1="184.40" y1="364.15" x2="184.40" y2="363.00" stroke="#ff1a1a" stroke-width="0.45" stroke-opacity="0.7"/>
<line x1="184.71" y1="364.15" x2="184.71" y2="362.95" stroke="#ff1a1a" stroke-width="0.45" stroke-opacity="0.7"/>
<line x1="185.03" y1="364.15" x2="185.03" y2="363.79" stroke="#ff1a1a" stroke-width="0.45" stroke-opacity="0.7"/>
<line x1="185.34" y1="364.15" x2="185.34" y2="363.77" stroke="#ff1a1a" stroke-width="0.45" stroke-opacity="0.7"/>
<line x1="185.66" y1="364.15" x2="185.66" y2="363.90" stroke="#ff1a1a" stroke-width="0.45" stroke-opacity="0.7"/>
<line x1="185.98" y1="364.15" x2="185.98" y2="363.89" stroke="#ff1a1a" stroke-width="0.45" stroke-opacity="0.7"/>
<line x1="186.29" y1="364.15" x2="186.29" y2="363.88" stroke="#ff1a1a" stroke-width="0.45" stroke-opacity="0.7"/>
<line x1="186.61" y1="364.15" x2="186.61" y2="364.14" stroke="#ff1a1a" stroke-width="0.45" stroke-opacity="0.7"/>
<line x1="186.92" y1="364.15" x2="186.92" y2="363.86" stroke="#ff1a1a" stroke-width="0.45" stroke-opacity="0.7"/>
<line x1="187.24" y1="364.15" x2="187.24" y2="363.69" stroke="#ff1a1a" stroke-width="0.45" stroke-opacity="0.7"/>
<line x1="187.56" y1="364.15" x2="187.56" y2="363.18" stroke="#ff1a1a" stroke-width="0.45" stroke-opacity="0.7"/>
<line x1="187.87" y1="364.15" x2="187.87" y2="363.17" stroke="#ff1a1a" stroke-width="0.45" stroke-opacity="0.7"/>
<line x1="188.19" y1="364.15" x2="188.19" y2="364.07" stroke="#ff1a1a" stroke-width="0.45" stroke-opacity="0.7"/>
<line x1="188.50" y1="364.15" x2="188.50" y2="364.09" stroke="#ff1a1a" stroke-width="0.45" stroke-opacity="0.7"/>
<line x1="188.82" y1="364.15" x2="188.82" y2="363.14" stroke="#ff1a1a" stroke-width="0.45" stroke-opacity="0.7"/>
<line x1="189.14" y1="364.15" x2="189.14" y2="363.07" stroke="#ff1a1a" stroke-width="0.45" stroke-opacity="0.7"/>
<line x1="189.45" y1="364.15" x2="189.45" y2="363.71" stroke="#ff1a1a" stroke-width="0.45" stroke-opacity="0.7"/>
<line x1="189.77" y1="364.15" x2="189.77" y2="363.14" stroke="#ff1a1a" stroke-width="0.45" stroke-opacity="0.7"/>
<line x1="190.08" y1="364.15" x2="190.08" y2="363.85" stroke="#ff1a1a" stroke-width="0.45" stroke-opacity="0.7"/>
<line x1="190.40" y1="364.15" x2="190.40" y2="362.88" stroke="#ff1a1a" stroke-width="0.45" stroke-opacity="0.7"/>
<line x1="190.72" y1="364.15" x2="190.72" y2="363.64" stroke="#ff1a1a" stroke-width="0.45" stroke-opacity="0.7"/>
<line x1="191.03" y1="364.15" x2="191.03" y2="363.71" stroke="#ff1a1a" stroke-width="0.45" stroke-opacity="0.7"/>
<line x1="191.35" y1="364.15" x2="191.35" y2="364.03" stroke="#ff1a1a" stroke-width="0.45" stroke-opacity="0.7"/>
<line x1="191.66" y1="364.15" x2="191.66" y2="363.85" stroke="#ff1a1a" stroke-width="0.45" stroke-opacity="0.7"/>
<line x1="191.98" y1="364.15" x2="191.98" y2="362.90" stroke="#ff1a1a" stroke-width="0.45" stroke-opacity="0.7"/>
<line x1="192.30" y1="364.15" x2="192.30" y2="363.68" stroke="#ff1a1a" stroke-width="0.45" stroke-opacity="0.7"/>
<line x1="192.61" y1="364.15" x2="192.61" y2="364.11" stroke="#ff1a1a" stroke-width="0.45" stroke-opacity="0.7"/>
<line x1="192.93" y1="364.15" x2="192.93" y2="363.00" stroke="#ff1a1a" stroke-width="0.45" stroke-opacity="0.7"/>
<line x1="193.24" y1="364.15" x2="193.24" y2="363.61" stroke="#ff1a1a" stroke-width="0.45" stroke-opacity="0.7"/>
<line x1="193.56" y1="364.15" x2="193.56" y2="362.96" stroke="#ff1a1a" stroke-width="0.45" stroke-opacity="0.7"/>
<line x1="193.88" y1="364.15" x2="193.88" y2="363.85" stroke="#ff1a1a" stroke-width="0.45" stroke-opacity="0.7"/>
<line x1="194.19" y1="364.15" x2="194.19" y2="364.03" stroke="#ff1a1a" stroke-width="0.45" stroke-opacity="0.7"/>
<line x1="194.51" y1="364.15" x2="194.51" y2="363.85" stroke="#ff1a1a" stroke-width="0.45" stroke-opacity="0.7"/>
<line x1="194.82" y1="364.15" x2="194.82" y2="363.43" stroke="#ff1a1a" stroke-width="0.45" stroke-opacity="0.7"/>
<line x1="195.14" y1="364.15" x2="195.14" y2="364.05" stroke="#ff1a1a" stroke-width="0.45" stroke-opacity="0.7"/>
<line x1="195.46" y1="364.15" x2="195.46" y2="363.74" stroke="#ff1a1a" stroke-width="0.45" stroke-opacity="0.7"/>
<line x1="195.77" y1="364.15" x2="195.77" y2="364.05" stroke="#ff1a1a" stroke-width="0.45" stroke-opacity="0.7"/>
<line x1="196.09" y1="364.15" x2="196.09" y2="364.08" stroke="#ff1a1a" stroke-width="0.45" stroke-opacity="0.7"/>
<line x1="196.40" y1="364.15" x2="196.40" y2="363.77" stroke="#ff1a1a" stroke-width="0.45" stroke-opacity="0.7"/>
<line x1="196.72" y1="364.15" x2="196.72" y2="363.63" stroke="#ff1a1a" stroke-width="0.45" stroke-opacity="0.7"/>
<line x1="197.04" y1="364.15" x2="197.04" y2="363.80" stroke="#ff1a1a" stroke-width="0.45" stroke-opacity="0.7"/>
<line x1="197.35" y1="364.15" x2="197.35" y2="364.09" stroke="#ff1a1a" stroke-width="0.45" stroke-opacity="0.7"/>
<line x1="197.67" y1="364.15" x2="197.67" y2="363.77" stroke="#ff1a1a" stroke-width="0.45" stroke-opacity="0.7"/>
<line x1="197.98" y1="364.15" x2="197.98" y2="363.67" stroke="#ff1a1a" stroke-width="0.45" stroke-opacity="0.7"/>
<line x1="198.30" y1="364.15" x2="198.30" y2="363.56" stroke="#ff1a1a" stroke-width="0.45" stroke-opacity="0.7"/>
<line x1="198.62" y1="364.15" x2="198.62" y2="363.93" stroke="#ff1a1a" stroke-width="0.45" stroke-opacity="0.7"/>
<line x1="198.93" y1="364.15" x2="198.93" y2="363.18" stroke="#ff1a1a" stroke-width="0.45" stroke-opacity="0.7"/>
<line x1="199.25" y1="364.15" x2="199.25" y2="363.00" stroke="#ff1a1a" stroke-width="0.45" stroke-opacity="0.7"/>
<line x1="199.56" y1="364.15" x2="199.56" y2="363.66" stroke="#ff1a1a" stroke-width="0.45" stroke-opacity="0.7"/>
<line x1="199.88" y1="364.15" x2="199.88" y2="363.77" stroke="#ff1a1a" stroke-width="0.45" stroke-opacity="0.7"/>
<line x1="200.20" y1="364.15" x2="200.20" y2="363.80" stroke="#ff1a1a" stroke-width="0.45" stroke-opacity="0.7"/>
<line x1="200.51" y1="364.15" x2="200.51" y2="363.26" stroke="#ff1a1a" stroke-width="0.45" stroke-opacity="0.7"/>
<line x1="200.83" y1="364.15" x2="200.83" y2="363.43" stroke="#ff1a1a" stroke-width="0.45" stroke-opacity="0.7"/>
<line x1="201.14" y1="364.15" x2="201.14" y2="363.78" stroke="#ff1a1a" stroke-width="0.45" stroke-opacity="0.7"/>
<line x1="201.46" y1="364.15" x2="201.46" y2="363.84" stroke="#ff1a1a" stroke-width="0.45" stroke-opacity="0.7"/>
<line x1="201.78" y1="364.15" x2="201.78" y2="364.07" stroke="#ff1a1a" stroke-width="0.45" stroke-opacity="0.7"/>
<line x1="202.09" y1="364.15" x2="202.09" y2="363.06" stroke="#ff1a1a" stroke-width="0.45" stroke-opacity="0.7"/>
<line x1="202.41" y1="364.15" x2="202.41" y2="364.15" stroke="#ff1a1a" stroke-width="0.45" stroke-opacity="0.7"/>
<line x1="202.72" y1="364.15" x2="202.72" y2="364.09" stroke="#ff1a1a" stroke-width="0.45" stroke-opacity="0.7"/>
<line x1="203.04" y1="364.15" x2="203.04" y2="364.02" stroke="#ff1a1a" stroke-width="0.45" stroke-opacity="0.7"/>
<line x1="203.36" y1="364.15" x2="203.36" y2="363.80" stroke="#ff1a1a" stroke-width="0.45" stroke-opacity="0.7"/>
<line x1="203.67" y1="364.15" x2="203.67" y2="363.78" stroke="#ff1a1a" stroke-width="0.45" stroke-opacity="0.7"/>
<line x1="203.99" y1="364.15" x2="203.99" y2="364.07" stroke="#ff1a1a" stroke-width="0.45" stroke-opacity="0.7"/>
<line x1="204.30" y1="364.15" x2="204.30" y2="363.30" stroke="#ff1a1a" stroke-width="0.45" stroke-opacity="0.7"/>
<line x1="204.62" y1="364.15" x2="204.62" y2="364.09" stroke="#ff1a1a" stroke-width="0.45" stroke-opacity="0.7"/>
<line x1="204.94" y1="364.15" x2="204.94" y2="363.63" stroke="#ff1a1a" stroke-width="0.45" stroke-opacity="0.7"/>
<line x1="205.25" y1="364.15" x2="205.25" y2="363.91" stroke="#ff1a1a" stroke-width="0.45" stroke-opacity="0.7"/>
<line x1="205.57" y1="364.15" x2="205.57" y2="364.14" stroke="#ff1a1a" stroke-width="0.45" stroke-opacity="0.7"/>
<line x1="205.88" y1="364.15" x2="205.88" y2="363.81" stroke="#ff1a1a" stroke-width="0.45" stroke-opacity="0.7"/>
<line x1="206.20" y1="364.15" x2="206.20" y2="363.76" stroke="#ff1a1a" stroke-width="0.45" stroke-opacity="0.7"/>
<line x1="206.52" y1="364.15" x2="206.52" y2="363.59" stroke="#ff1a1a" stroke-width="0.45" stroke-opacity="0.7"/>
<line x1="206.83" y1="364.15" x2="206.83" y2="364.00" stroke="#ff1a1a" stroke-width="0.45" stroke-opacity="0.7"/>
<line x1="207.15" y1="364.15" x2="207.15" y2="364.12" stroke="#ff1a1a" stroke-width="0.45" stroke-opacity="0.7"/>
<line x1="207.46" y1="364.15" x2="207.46" y2="363.91" stroke="#ff1a1a" stroke-width="0.45" stroke-opacity="0.7"/>
<line x1="207.78" y1="364.15" x2="207.78" y2="364.11" stroke="#ff1a1a" stroke-width="0.45" stroke-opacity="0.7"/>
<line x1="208.10" y1="364.15" x2="208.10" y2="364.14" stroke="#ff1a1a" stroke-width="0.45" stroke-opacity="0.7"/>
<line x1="208.41" y1="364.15" x2="208.41" y2="362.89" stroke="#ff1a1a" stroke-width="0.45" stroke-opacity="0.7"/>
<line x1="208.73" y1="364.15" x2="208.73" y2="364.03" stroke="#ff1a1a" stroke-width="0.45" stroke-opacity="0.7"/>
<line x1="209.04" y1="364.15" x2="209.04" y2="363.85" stroke="#ff1a1a" stroke-width="0.45" stroke-opacity="0.7"/>
<line x1="209.36" y1="364.15" x2="209.36" y2="362.96" stroke="#ff1a1a" stroke-width="0.45" stroke-opacity="0.7"/>
<line x1="209.68" y1="364.15" x2="209.68" y2="363.96" stroke="#ff1a1a" stroke-width="0.45" stroke-opacity="0.7"/>
<line x1="209.99" y1="364.15" x2="209.99" y2="364.12" stroke="#ff1a1a" stroke-width="0.45" stroke-opacity="0.7"/>
<line x1="210.31" y1="364.15" x2="210.31" y2="363.68" stroke="#ff1a1a" stroke-width="0.45" stroke-opacity="0.7"/>
<line x1="210.62" y1="364.15" x2="210.62" y2="364.15" stroke="#ff1a1a" stroke-width="0.45" stroke-opacity="0.7"/>
<line x1="210.94" y1="364.15" x2="210.94" y2="363.70" stroke="#ff1a1a" stroke-width="0.45" stroke-opacity="0.7"/>
<line x1="211.26" y1="364.15" x2="211.26" y2="363.70" stroke="#ff1a1a" stroke-width="0.45" stroke-opacity="0.7"/>
<line x1="211.57" y1="364.15" x2="211.57" y2="363.31" stroke="#ff1a1a" stroke-width="0.45" stroke-opacity="0.7"/>
<line x1="211.89" y1="364.15" x2="211.89" y2="363.31" stroke="#ff1a1a" stroke-width="0.45" stroke-opacity="0.7"/>
<line x1="212.20" y1="364.15" x2="212.20" y2="363.95" stroke="#ff1a1a" stroke-width="0.45" stroke-opacity="0.7"/>
<line x1="212.52" y1="364.15" x2="212.52" y2="363.73" stroke="#ff1a1a" stroke-width="0.45" stroke-opacity="0.7"/>
<line x1="212.84" y1="364.15" x2="212.84" y2="363.72" stroke="#ff1a1a" stroke-width="0.45" stroke-opacity="0.7"/>
<line x1="213.15" y1="364.15" x2="213.15" y2="363.82" stroke="#ff1a1a" stroke-width="0.45" stroke-opacity="0.7"/>
<line x1="213.47" y1="364.15" x2="213.47" y2="363.68" stroke="#ff1a1a" stroke-width="0.45" stroke-opacity="0.7"/>
<line x1="213.78" y1="364.15" x2="213.78" y2="363.99" stroke="#ff1a1a" stroke-width="0.45" stroke-opacity="0.7"/>
<line x1="214.10" y1="364.15" x2="214.10" y2="363.57" stroke="#ff1a1a" stroke-width="0.45" stroke-opacity="0.7"/>
<line x1="214.42" y1="364.15" x2="214.42" y2="362.92" stroke="#ff1a1a" stroke-width="0.45" stroke-opacity="0.7"/>
<line x1="214.73" y1="364.15" x2="214.73" y2="363.99" stroke="#ff1a1a" stroke-width="0.45" stroke-opacity="0.7"/>
<line x1="215.05" y1="364.15" x2="215.05" y2="363.70" stroke="#ff1a1a" stroke-width="0.45" stroke-opacity="0.7"/>
<line x1="215.36" y1="364.15" x2="215.36" y2="363.70" stroke="#ff1a1a" stroke-width="0.45" stroke-opacity="0.7"/>
<line x1="215.68" y1="364.15" x2="215.68" y2="363.62" stroke="#ff1a1a" stroke-width="0.45" stroke-opacity="0.7"/>
<line x1="216.00" y1="364.15" x2="216.00" y2="364.01" stroke="#ff1a1a" stroke-width="0.45" stroke-opacity="0.7"/>
<line x1="216.31" y1="364.15" x2="216.31" y2="363.77" stroke="#ff1a1a" stroke-width="0.45" stroke-opacity="0.7"/>
<line x1="216.63" y1="364.15" x2="216.63" y2="363.75" stroke="#ff1a1a" stroke-width="0.45" stroke-opacity="0.7"/>
<line x1="216.94" y1="364.15" x2="216.94" y2="363.87" stroke="#ff1a1a" stroke-width="0.45" stroke-opacity="0.7"/>
<line x1="217.26" y1="364.15" x2="217.26" y2="363.73" stroke="#ff1a1a" stroke-width="0.45" stroke-opacity="0.7"/>
<line x1="217.58" y1="364.15" x2="217.58" y2="363.89" stroke="#ff1a1a" stroke-width="0.45" stroke-opacity="0.7"/>
<line x1="217.89" y1="364.15" x2="217.89" y2="363.81" stroke="#ff1a1a" stroke-width="0.45" stroke-opacity="0.7"/>
<line x1="218.21" y1="364.15" x2="218.21" y2="364.02" stroke="#ff1a1a" stroke-width="0.45" stroke-opacity="0.7"/>
<line x1="218.52" y1="364.15" x2="218.52" y2="364.10" stroke="#ff1a1a" stroke-width="0.45" stroke-opacity="0.7"/>
<line x1="218.84" y1="364.15" x2="218.84" y2="363.36" stroke="#ff1a1a" stroke-width="0.45" stroke-opacity="0.7"/>
<line x1="219.16" y1="364.15" x2="219.16" y2="364.09" stroke="#ff1a1a" stroke-width="0.45" stroke-opacity="0.7"/>
<line x1="219.47" y1="364.15" x2="219.47" y2="363.24" stroke="#ff1a1a" stroke-width="0.45" stroke-opacity="0.7"/>
<line x1="219.79" y1="364.15" x2="219.79" y2="363.43" stroke="#ff1a1a" stroke-width="0.45" stroke-opacity="0.7"/>
<line x1="220.10" y1="364.15" x2="220.10" y2="363.73" stroke="#ff1a1a" stroke-width="0.45" stroke-opacity="0.7"/>
<line x1="220.42" y1="364.15" x2="220.42" y2="363.73" stroke="#ff1a1a" stroke-width="0.45" stroke-opacity="0.7"/>
<line x1="220.74" y1="364.15" x2="220.74" y2="364.11" stroke="#ff1a1a" stroke-width="0.45" stroke-opacity="0.7"/>
<line x1="221.05" y1="364.15" x2="221.05" y2="363.93" stroke="#ff1a1a" stroke-width="0.45" stroke-opacity="0.7"/>
<line x1="221.37" y1="364.15" x2="221.37" y2="363.66" stroke="#ff1a1a" stroke-width="0.45" stroke-opacity="0.7"/>
<line x1="221.68" y1="364.15" x2="221.68" y2="364.11" stroke="#ff1a1a" stroke-width="0.45" stroke-opacity="0.7"/>
<line x1="222.00" y1="364.15" x2="222.00" y2="363.60" stroke="#ff1a1a" stroke-width="0.45" stroke-opacity="0.7"/>
<line x1="222.32" y1="364.15" x2="222.32" y2="364.09" stroke="#ff1a1a" stroke-width="0.45" stroke-opacity="0.7"/>
<line x1="222.63" y1="364.15" x2="222.63" y2="363.38" stroke="#ff1a1a" stroke-width="0.45" stroke-opacity="0.7"/>
<line x1="222.95" y1="364.15" x2="222.95" y2="363.64" stroke="#ff1a1a" stroke-width="0.45" stroke-opacity="0.7"/>
<line x1="223.26" y1="364.15" x2="223.26" y2="363.77" stroke="#ff1a1a" stroke-width="0.45" stroke-opacity="0.7"/>
<line x1="223.58" y1="364.15" x2="223.58" y2="363.77" stroke="#ff1a1a" stroke-width="0.45" stroke-opacity="0.7"/>
<line x1="223.90" y1="364.15" x2="223.90" y2="363.39" stroke="#ff1a1a" stroke-width="0.45" stroke-opacity="0.7"/>
<line x1="224.21" y1="364.15" x2="224.21" y2="363.70" stroke="#ff1a1a" stroke-width="0.45" stroke-opacity="0.7"/>
<line x1="224.53" y1="364.15" x2="224.53" y2="363.96" stroke="#ff1a1a" stroke-width="0.45" stroke-opacity="0.7"/>
<line x1="224.84" y1="364.15" x2="224.84" y2="364.14" stroke="#ff1a1a" stroke-width="0.45" stroke-opacity="0.7"/>
<line x1="225.16" y1="364.15" x2="225.16" y2="363.98" stroke="#ff1a1a" stroke-width="0.45" stroke-opacity="0.7"/>
<line x1="225.48" y1="364.15" x2="225.48" y2="363.93" stroke="#ff1a1a" stroke-width="0.45" stroke-opacity="0.7"/>
<line x1="225.79" y1="364.15" x2="225.79" y2="363.57" stroke="#ff1a1a" stroke-width="0.45" stroke-opacity="0.7"/>
<line x1="226.11" y1="364.15" x2="226.11" y2="363.64" stroke="#ff1a1a" stroke-width="0.45" stroke-opacity="0.7"/>
<line x1="226.42" y1="364.15" x2="226.42" y2="364.13" stroke="#ff1a1a" stroke-width="0.45" stroke-opacity="0.7"/>
<line x1="226.74" y1="364.15" x2="226.74" y2="363.89" stroke="#ff1a1a" stroke-width="0.45" stroke-opacity="0.7"/>
<line x1="227.06" y1="364.15" x2="227.06" y2="363.94" stroke="#ff1a1a" stroke-width="0.45" stroke-opacity="0.7"/>
<line x1="227.37" y1="364.15" x2="227.37" y2="363.83" stroke="#ff1a1a" stroke-width="0.45" stroke-opacity="0.7"/>
<line x1="227.69" y1="364.15" x2="227.69" y2="362.93" stroke="#ff1a1a" stroke-width="0.45" stroke-opacity="0.7"/>
<line x1="228.00" y1="364.15" x2="228.00" y2="362.96" stroke="#ff1a1a" stroke-width="0.45" stroke-opacity="0.7"/>
<line x1="228.32" y1="364.15" x2="228.32" y2="364.15" stroke="#ff1a1a" stroke-width="0.45" stroke-opacity="0.7"/>
<line x1="228.64" y1="364.15" x2="228.64" y2="363.69" stroke="#ff1a1a" stroke-width="0.45" stroke-opacity="0.7"/>
<line x1="228.95" y1="364.15" x2="228.95" y2="364.15" stroke="#ff1a1a" stroke-width="0.45" stroke-opacity="0.7"/>
<line x1="229.27" y1="364.15" x2="229.27" y2="363.86" stroke="#ff1a1a" stroke-width="0.45" stroke-opacity="0.7"/>
<line x1="229.58" y1="364.15" x2="229.58" y2="364.04" stroke="#ff1a1a" stroke-width="0.45" stroke-opacity="0.7"/>
<line x1="229.90" y1="364.15" x2="229.90" y2="363.94" stroke="#ff1a1a" stroke-width="0.45" stroke-opacity="0.7"/>
<line x1="230.22" y1="364.15" x2="230.22" y2="363.99" stroke="#ff1a1a" stroke-width="0.45" stroke-opacity="0.7"/>
<line x1="230.53" y1="364.15" x2="230.53" y2="363.98" stroke="#ff1a1a" stroke-width="0.45" stroke-opacity="0.7"/>
<line x1="230.85" y1="364.15" x2="230.85" y2="363.73" stroke="#ff1a1a" stroke-width="0.45" stroke-opacity="0.7"/>
<line x1="231.16" y1="364.15" x2="231.16" y2="364.08" stroke="#ff1a1a" stroke-width="0.45" stroke-opacity="0.7"/>
<line x1="231.48" y1="364.15" x2="231.48" y2="364.10" stroke="#ff1a1a" stroke-width="0.45" stroke-opacity="0.7"/>
<line x1="231.80" y1="364.15" x2="231.80" y2="363.73" stroke="#ff1a1a" stroke-width="0.45" stroke-opacity="0.7"/>
<line x1="232.11" y1="364.15" x2="232.11" y2="363.77" stroke="#ff1a1a" stroke-width="0.45" stroke-opacity="0.7"/>
<line x1="232.43" y1="364.15" x2="232.43" y2="363.91" stroke="#ff1a1a" stroke-width="0.45" stroke-opacity="0.7"/>
<line x1="232.74" y1="364.15" x2="232.74" y2="362.92" stroke="#ff1a1a" stroke-width="0.45" stroke-opacity="0.7"/>
<line x1="233.06" y1="364.15" x2="233.06" y2="362.92" stroke="#ff1a1a" stroke-width="0.45" stroke-opacity="0.7"/>
<line x1="233.38" y1="364.15" x2="233.38" y2="364.03" stroke="#ff1a1a" stroke-width="0.45" stroke-opacity="0.7"/>
<line x1="233.69" y1="364.15" x2="233.69" y2="363.61" stroke="#ff1a1a" stroke-width="0.45" stroke-opacity="0.7"/>
<line x1="234.01" y1="364.15" x2="234.01" y2="363.92" stroke="#ff1a1a" stroke-width="0.45" stroke-opacity="0.7"/>
<line x1="234.32" y1="364.15" x2="234.32" y2="364.01" stroke="#ff1a1a" stroke-width="0.45" stroke-opacity="0.7"/>
<line x1="234.64" y1="364.15" x2="234.64" y2="363.83" stroke="#ff1a1a" stroke-width="0.45" stroke-opacity="0.7"/>
<line x1="234.96" y1="364.15" x2="234.96" y2="363.70" stroke="#ff1a1a" stroke-width="0.45" stroke-opacity="0.7"/>
<line x1="235.27" y1="364.15" x2="235.27" y2="363.94" stroke="#ff1a1a" stroke-width="0.45" stroke-opacity="0.7"/>
<line x1="235.59" y1="364.15" x2="235.59" y2="364.06" stroke="#ff1a1a" stroke-width="0.45" stroke-opacity="0.7"/>
<line x1="235.90" y1="364.15" x2="235.90" y2="363.75" stroke="#ff1a1a" stroke-width="0.45" stroke-opacity="0.7"/>
<line x1="236.22" y1="364.15" x2="236.22" y2="364.05" stroke="#ff1a1a" stroke-width="0.45" stroke-opacity="0.7"/>
<line x1="236.54" y1="364.15" x2="236.54" y2="363.69" stroke="#ff1a1a" stroke-width="0.45" stroke-opacity="0.7"/>
<line x1="236.85" y1="364.15" x2="236.85" y2="364.07" stroke="#ff1a1a" stroke-width="0.45" stroke-opacity="0.7"/>
<line x1="237.17" y1="364.15" x2="237.17" y2="363.62" stroke="#ff1a1a" stroke-width="0.45" stroke-opacity="0.7"/>
<line x1="237.48" y1="364.15" x2="237.48" y2="364.04" stroke="#ff1a1a" stroke-width="0.45" stroke-opacity="0.7"/>
<line x1="237.80" y1="364.15" x2="237.80" y2="363.73" stroke="#ff1a1a" stroke-width="0.45" stroke-opacity="0.7"/>
<line x1="238.12" y1="364.15" x2="238.12" y2="363.36" stroke="#ff1a1a" stroke-width="0.45" stroke-opacity="0.7"/>
<line x1="238.43" y1="364.15" x2="238.43" y2="364.00" stroke="#ff1a1a" stroke-width="0.45" stroke-opacity="0.7"/>
<line x1="238.75" y1="364.15" x2="238.75" y2="363.14" stroke="#ff1a1a" stroke-width="0.45" stroke-opacity="0.7"/>
<line x1="239.06" y1="364.15" x2="239.06" y2="363.25" stroke="#ff1a1a" stroke-width="0.45" stroke-opacity="0.7"/>
<line x1="239.38" y1="364.15" x2="239.38" y2="363.56" stroke="#ff1a1a" stroke-width="0.45" stroke-opacity="0.7"/>
<line x1="239.70" y1="364.15" x2="239.70" y2="364.09" stroke="#ff1a1a" stroke-width="0.45" stroke-opacity="0.7"/>
<line x1="240.01" y1="364.15" x2="240.01" y2="364.09" stroke="#ff1a1a" stroke-width="0.45" stroke-opacity="0.7"/>
<line x1="240.33" y1="364.15" x2="240.33" y2="363.56" stroke="#ff1a1a" stroke-width="0.45" stroke-opacity="0.7"/>
<line x1="240.64" y1="364.15" x2="240.64" y2="363.71" stroke="#ff1a1a" stroke-width="0.45" stroke-opacity="0.7"/>
<line x1="240.96" y1="364.15" x2="240.96" y2="364.03" stroke="#ff1a1a" stroke-width="0.45" stroke-opacity="0.7"/>
<line x1="241.28" y1="364.15" x2="241.28" y2="364.09" stroke="#ff1a1a" stroke-width="0.45" stroke-opacity="0.7"/>
<line x1="241.59" y1="364.15" x2="241.59" y2="363.22" stroke="#ff1a1a" stroke-width="0.45" stroke-opacity="0.7"/>
<line x1="241.91" y1="364.15" x2="241.91" y2="363.91" stroke="#ff1a1a" stroke-width="0.45" stroke-opacity="0.7"/>
<line x1="242.22" y1="364.15" x2="242.22" y2="363.73" stroke="#ff1a1a" stroke-width="0.45" stroke-opacity="0.7"/>
<line x1="242.54" y1="364.15" x2="242.54" y2="363.77" stroke="#ff1a1a" stroke-width="0.45" stroke-opacity="0.7"/>
<line x1="242.86" y1="364.15" x2="242.86" y2="364.06" stroke="#ff1a1a" stroke-width="0.45" stroke-opacity="0.7"/>
<line x1="243.17" y1="364.15" x2="243.17" y2="363.91" stroke="#ff1a1a" stroke-width="0.45" stroke-opacity="0.7"/>
<line x1="243.49" y1="364.15" x2="243.49" y2="363.61" stroke="#ff1a1a" stroke-width="0.45" stroke-opacity="0.7"/>
<line x1="243.80" y1="364.15" x2="243.80" y2="363.81" stroke="#ff1a1a" stroke-width="0.45" stroke-opacity="0.7"/>
<line x1="244.12" y1="364.15" x2="244.12" y2="363.90" stroke="#ff1a1a" stroke-width="0.45" stroke-opacity="0.7"/>
<line x1="244.44" y1="364.15" x2="244.44" y2="363.72" stroke="#ff1a1a" stroke-width="0.45" stroke-opacity="0.7"/>
<line x1="244.75" y1="364.15" x2="244.75" y2="363.69" stroke="#ff1a1a" stroke-width="0.45" stroke-opacity="0.7"/>
<line x1="245.07" y1="364.15" x2="245.07" y2="363.64" stroke="#ff1a1a" stroke-width="0.45" stroke-opacity="0.7"/>
<line x1="245.38" y1="364.15" x2="245.38" y2="363.77" stroke="#ff1a1a" stroke-width="0.45" stroke-opacity="0.7"/>
<line x1="245.70" y1="364.15" x2="245.70" y2="363.96" stroke="#ff1a1a" stroke-width="0.45" stroke-opacity="0.7"/>
<line x1="246.02" y1="364.15" x2="246.02" y2="364.09" stroke="#ff1a1a" stroke-width="0.45" stroke-opacity="0.7"/>
<line x1="246.33" y1="364.15" x2="246.33" y2="363.68" stroke="#ff1a1a" stroke-width="0.45" stroke-opacity="0.7"/>
<line x1="246.65" y1="364.15" x2="246.65" y2="363.77" stroke="#ff1a1a" stroke-width="0.45" stroke-opacity="0.7"/>
<line x1="246.96" y1="364.15" x2="246.96" y2="363.90" stroke="#ff1a1a" stroke-width="0.45" stroke-opacity="0.7"/>
<line x1="247.28" y1="364.15" x2="247.28" y2="363.78" stroke="#ff1a1a" stroke-width="0.45" stroke-opacity="0.7"/>
<line x1="247.60" y1="364.15" x2="247.60" y2="363.74" stroke="#ff1a1a" stroke-width="0.45" stroke-opacity="0.7"/>
<line x1="247.91" y1="364.15" x2="247.91" y2="364.04" stroke="#ff1a1a" stroke-width="0.45" stroke-opacity="0.7"/>
<line x1="248.23" y1="364.15" x2="248.23" y2="363.68" stroke="#ff1a1a" stroke-width="0.45" stroke-opacity="0.7"/>
<line x1="248.54" y1="364.15" x2="248.54" y2="363.86" stroke="#ff1a1a" stroke-width="0.45" stroke-opacity="0.7"/>
<line x1="248.86" y1="364.15" x2="248.86" y2="364.13" stroke="#ff1a1a" stroke-width="0.45" stroke-opacity="0.7"/>
<line x1="249.18" y1="364.15" x2="249.18" y2="364.05" stroke="#ff1a1a" stroke-width="0.45" stroke-opacity="0.7"/>
<line x1="249.49" y1="364.15" x2="249.49" y2="363.59" stroke="#ff1a1a" stroke-width="0.45" stroke-opacity="0.7"/>
<line x1="249.81" y1="364.15" x2="249.81" y2="364.09" stroke="#ff1a1a" stroke-width="0.45" stroke-opacity="0.7"/>
<line x1="250.12" y1="364.15" x2="250.12" y2="363.83" stroke="#ff1a1a" stroke-width="0.45" stroke-opacity="0.7"/>
<line x1="250.44" y1="364.15" x2="250.44" y2="363.84" stroke="#ff1a1a" stroke-width="0.45" stroke-opacity="0.7"/>
<line x1="250.76" y1="364.15" x2="250.76" y2="363.65" stroke="#ff1a1a" stroke-width="0.45" stroke-opacity="0.7"/>
<line x1="251.07" y1="364.15" x2="251.07" y2="363.90" stroke="#ff1a1a" stroke-width="0.45" stroke-opacity="0.7"/>
<line x1="251.39" y1="364.15" x2="251.39" y2="364.02" stroke="#ff1a1a" stroke-width="0.45" stroke-opacity="0.7"/>
<line x1="251.70" y1="364.15" x2="251.70" y2="363.91" stroke="#ff1a1a" stroke-width="0.45" stroke-opacity="0.7"/>
<line x1="252.02" y1="364.15" x2="252.02" y2="364.08" stroke="#ff1a1a" stroke-width="0.45" stroke-opacity="0.7"/>
<line x1="252.34" y1="364.15" x2="252.34" y2="363.24" stroke="#ff1a1a" stroke-width="0.45" stroke-opacity="0.7"/>
<line x1="252.65" y1="364.15" x2="252.65" y2="363.99" stroke="#ff1a1a" stroke-width="0.45" stroke-opacity="0.7"/>
<line x1="252.97" y1="364.15" x2="252.97" y2="364.14" stroke="#ff1a1a" stroke-width="0.45" stroke-opacity="0.7"/>
<line x1="253.28" y1="364.15" x2="253.28" y2="363.90" stroke="#ff1a1a" stroke-width="0.45" stroke-opacity="0.7"/>
<line x1="253.60" y1="364.15" x2="253.60" y2="363.94" stroke="#ff1a1a" stroke-width="0.45" stroke-opacity="0.7"/>
<line x1="253.92" y1="364.15" x2="253.92" y2="364.02" stroke="#ff1a1a" stroke-width="0.45" stroke-opacity="0.7"/>
<line x1="254.23" y1="364.15" x2="254.23" y2="363.59" stroke="#ff1a1a" stroke-width="0.45" stroke-opacity="0.7"/>
<line x1="254.55" y1="364.15" x2="254.55" y2="364.02" stroke="#ff1a1a" stroke-width="0.45" stroke-opacity="0.7"/>
<line x1="254.86" y1="364.15" x2="254.86" y2="363.91" stroke="#ff1a1a" stroke-width="0.45" stroke-opacity="0.7"/>
<line x1="255.18" y1="364.15" x2="255.18" y2="364.07" stroke="#ff1a1a" stroke-width="0.45" stroke-opacity="0.7"/>
<line x1="255.50" y1="364.15" x2="255.50" y2="363.66" stroke="#ff1a1a" stroke-width="0.45" stroke-opacity="0.7"/>
<line x1="255.81" y1="364.15" x2="255.81" y2="363.87" stroke="#ff1a1a" stroke-width="0.45" stroke-opacity="0.7"/>
<line x1="256.13" y1="364.15" x2="256.13" y2="364.01" stroke="#ff1a1a" stroke-width="0.45" stroke-opacity="0.7"/>
<line x1="256.44" y1="364.15" x2="256.44" y2="363.94" stroke="#ff1a1a" stroke-width="0.45" stroke-opacity="0.7"/>
<line x1="256.76" y1="364.15" x2="256.76" y2="363.66" stroke="#ff1a1a" stroke-width="0.45" stroke-opacity="0.7"/>
<line x1="257.08" y1="364.15" x2="257.08" y2="363.87" stroke="#ff1a1a" stroke-width="0.45" stroke-opacity="0.7"/>
<line x1="257.39" y1="364.15" x2="257.39" y2="363.12" stroke="#ff1a1a" stroke-width="0.45" stroke-opacity="0.7"/>
<line x1="257.71" y1="364.15" x2="257.71" y2="363.65" stroke="#ff1a1a" stroke-width="0.45" stroke-opacity="0.7"/>
<line x1="258.02" y1="364.15" x2="258.02" y2="363.64" stroke="#ff1a1a" stroke-width="0.45" stroke-opacity="0.7"/>
<line x1="258.34" y1="364.15" x2="258.34" y2="363.92" stroke="#ff1a1a" stroke-width="0.45" stroke-opacity="0.7"/>
<line x1="258.66" y1="364.15" x2="258.66" y2="363.19" stroke="#ff1a1a" stroke-width="0.45" stroke-opacity="0.7"/>
<line x1="258.97" y1="364.15" x2="258.97" y2="364.15" stroke="#ff1a1a" stroke-width="0.45" stroke-opacity="0.7"/>
<line x1="259.29" y1="364.15" x2="259.29" y2="363.98" stroke="#ff1a1a" stroke-width="0.45" stroke-opacity="0.7"/>
<line x1="259.60" y1="364.15" x2="259.60" y2="363.97" stroke="#ff1a1a" stroke-width="0.45" stroke-opacity="0.7"/>
<line x1="259.92" y1="364.15" x2="259.92" y2="363.89" stroke="#ff1a1a" stroke-width="0.45" stroke-opacity="0.7"/>
<line x1="260.24" y1="364.15" x2="260.24" y2="363.75" stroke="#ff1a1a" stroke-width="0.45" stroke-opacity="0.7"/>
<line x1="260.55" y1="364.15" x2="260.55" y2="363.59" stroke="#ff1a1a" stroke-width="0.45" stroke-opacity="0.7"/>
<line x1="260.87" y1="364.15" x2="260.87" y2="364.12" stroke="#ff1a1a" stroke-width="0.45" stroke-opacity="0.7"/>
<line x1="261.18" y1="364.15" x2="261.18" y2="363.61" stroke="#ff1a1a" stroke-width="0.45" stroke-opacity="0.7"/>
<line x1="261.50" y1="364.15" x2="261.50" y2="364.07" stroke="#ff1a1a" stroke-width="0.45" stroke-opacity="0.7"/>
<line x1="261.82" y1="364.15" x2="261.82" y2="363.07" stroke="#ff1a1a" stroke-width="0.45" stroke-opacity="0.7"/>
<line x1="262.13" y1="364.15" x2="262.13" y2="364.14" stroke="#ff1a1a" stroke-width="0.45" stroke-opacity="0.7"/>
<line x1="262.45" y1="364.15" x2="262.45" y2="363.76" stroke="#ff1a1a" stroke-width="0.45" stroke-opacity="0.7"/>
<line x1="262.76" y1="364.15" x2="262.76" y2="363.39" stroke="#ff1a1a" stroke-width="0.45" stroke-opacity="0.7"/>
<line x1="263.08" y1="364.15" x2="263.08" y2="364.01" stroke="#ff1a1a" stroke-width="0.45" stroke-opacity="0.7"/>
<line x1="263.40" y1="364.15" x2="263.40" y2="363.24" stroke="#ff1a1a" stroke-width="0.45" stroke-opacity="0.7"/>
<line x1="263.71" y1="364.15" x2="263.71" y2="363.61" stroke="#ff1a1a" stroke-width="0.45" stroke-opacity="0.7"/>
<line x1="264.03" y1="364.15" x2="264.03" y2="364.05" stroke="#ff1a1a" stroke-width="0.45" stroke-opacity="0.7"/>
<line x1="264.34" y1="364.15" x2="264.34" y2="363.78" stroke="#ff1a1a" stroke-width="0.45" stroke-opacity="0.7"/>
<line x1="264.66" y1="364.15" x2="264.66" y2="363.75" stroke="#ff1a1a" stroke-width="0.45" stroke-opacity="0.7"/>
<line x1="264.98" y1="364.15" x2="264.98" y2="363.68" stroke="#ff1a1a" stroke-width="0.45" stroke-opacity="0.7"/>
<line x1="265.29" y1="364.15" x2="265.29" y2="364.03" stroke="#ff1a1a" stroke-width="0.45" stroke-opacity="0.7"/>
<line x1="265.61" y1="364.15" x2="265.61" y2="363.83" stroke="#ff1a1a" stroke-width="0.45" stroke-opacity="0.7"/>
<line x1="265.92" y1="364.15" x2="265.92" y2="363.89" stroke="#ff1a1a" stroke-width="0.45" stroke-opacity="0.7"/>
<line x1="266.24" y1="364.15" x2="266.24" y2="363.82" stroke="#ff1a1a" stroke-width="0.45" stroke-opacity="0.7"/>
<line x1="266.56" y1="364.15" x2="266.56" y2="363.31" stroke="#ff1a1a" stroke-width="0.45" stroke-opacity="0.7"/>
<line x1="266.87" y1="364.15" x2="266.87" y2="363.15" stroke="#ff1a1a" stroke-width="0.45" stroke-opacity="0.7"/>
<line x1="267.19" y1="364.15" x2="267.19" y2="363.17" stroke="#ff1a1a" stroke-width="0.45" stroke-opacity="0.7"/>
<line x1="267.50" y1="364.15" x2="267.50" y2="363.86" stroke="#ff1a1a" stroke-width="0.45" stroke-opacity="0.7"/>
<line x1="267.82" y1="364.15" x2="267.82" y2="363.83" stroke="#ff1a1a" stroke-width="0.45" stroke-opacity="0.7"/>
<line x1="268.14" y1="364.15" x2="268.14" y2="364.15" stroke="#ff1a1a" stroke-width="0.45" stroke-opacity="0.7"/>
<line x1="268.45" y1="364.15" x2="268.45" y2="363.87" stroke="#ff1a1a" stroke-width="0.45" stroke-opacity="0.7"/>
<line x1="268.77" y1="364.15" x2="268.77" y2="363.75" stroke="#ff1a1a" stroke-width="0.45" stroke-opacity="0.7"/>
<line x1="269.08" y1="364.15" x2="269.08" y2="363.93" stroke="#ff1a1a" stroke-width="0.45" stroke-opacity="0.7"/>
<line x1="269.40" y1="364.15" x2="269.40" y2="362.87" stroke="#ff1a1a" stroke-width="0.45" stroke-opacity="0.7"/>
<line x1="269.72" y1="364.15" x2="269.72" y2="363.77" stroke="#ff1a1a" stroke-width="0.45" stroke-opacity="0.7"/>
<line x1="270.03" y1="364.15" x2="270.03" y2="364.13" stroke="#ff1a1a" stroke-width="0.45" stroke-opacity="0.7"/>
<line x1="270.35" y1="364.15" x2="270.35" y2="363.74" stroke="#ff1a1a" stroke-width="0.45" stroke-opacity="0.7"/>
<line x1="270.66" y1="364.15" x2="270.66" y2="363.95" stroke="#ff1a1a" stroke-width="0.45" stroke-opacity="0.7"/>
<line x1="270.98" y1="364.15" x2="270.98" y2="363.84" stroke="#ff1a1a" stroke-width="0.45" stroke-opacity="0.7"/>
<line x1="271.30" y1="364.15" x2="271.30" y2="362.91" stroke="#ff1a1a" stroke-width="0.45" stroke-opacity="0.7"/>
<line x1="271.61" y1="364.15" x2="271.61" y2="363.72" stroke="#ff1a1a" stroke-width="0.45" stroke-opacity="0.7"/>
<line x1="271.93" y1="364.15" x2="271.93" y2="363.95" stroke="#ff1a1a" stroke-width="0.45" stroke-opacity="0.7"/>
<line x1="272.24" y1="364.15" x2="272.24" y2="363.93" stroke="#ff1a1a" stroke-width="0.45" stroke-opacity="0.7"/>
<line x1="272.56" y1="364.15" x2="272.56" y2="363.83" stroke="#ff1a1a" stroke-width="0.45" stroke-opacity="0.7"/>
<line x1="272.88" y1="364.15" x2="272.88" y2="364.02" stroke="#ff1a1a" stroke-width="0.45" stroke-opacity="0.7"/>
<line x1="273.19" y1="364.15" x2="273.19" y2="363.90" stroke="#ff1a1a" stroke-width="0.45" stroke-opacity="0.7"/>
<line x1="273.51" y1="364.15" x2="273.51" y2="363.65" stroke="#ff1a1a" stroke-width="0.45" stroke-opacity="0.7"/>
<line x1="273.82" y1="364.15" x2="273.82" y2="363.65" stroke="#ff1a1a" stroke-width="0.45" stroke-opacity="0.7"/>
<line x1="274.14" y1="364.15" x2="274.14" y2="363.85" stroke="#ff1a1a" stroke-width="0.45" stroke-opacity="0.7"/>
<line x1="274.46" y1="364.15" x2="274.46" y2="363.85" stroke="#ff1a1a" stroke-width="0.45" stroke-opacity="0.7"/>
<line x1="274.77" y1="364.15" x2="274.77" y2="363.76" stroke="#ff1a1a" stroke-width="0.45" stroke-opacity="0.7"/>
<line x1="275.09" y1="364.15" x2="275.09" y2="363.95" stroke="#ff1a1a" stroke-width="0.45" stroke-opacity="0.7"/>
<line x1="275.40" y1="364.15" x2="275.40" y2="363.97" stroke="#ff1a1a" stroke-width="0.45" stroke-opacity="0.7"/>
<line x1="275.72" y1="364.15" x2="275.72" y2="363.77" stroke="#ff1a1a" stroke-width="0.45" stroke-opacity="0.7"/>
<line x1="276.04" y1="364.15" x2="276.04" y2="364.13" stroke="#ff1a1a" stroke-width="0.45" stroke-opacity="0.7"/>
<line x1="276.35" y1="364.15" x2="276.35" y2="363.62" stroke="#ff1a1a" stroke-width="0.45" stroke-opacity="0.7"/>
<line x1="276.67" y1="364.15" x2="276.67" y2="364.12" stroke="#ff1a1a" stroke-width="0.45" stroke-opacity="0.7"/>
<line x1="276.98" y1="364.15" x2="276.98" y2="363.45" stroke="#ff1a1a" stroke-width="0.45" stroke-opacity="0.7"/>
<line x1="277.30" y1="364.15" x2="277.30" y2="363.60" stroke="#ff1a1a" stroke-width="0.45" stroke-opacity="0.7"/>
<line x1="277.62" y1="364.15" x2="277.62" y2="363.76" stroke="#ff1a1a" stroke-width="0.45" stroke-opacity="0.7"/>
<line x1="277.93" y1="364.15" x2="277.93" y2="363.60" stroke="#ff1a1a" stroke-width="0.45" stroke-opacity="0.7"/>
<line x1="278.25" y1="364.15" x2="278.25" y2="363.78" stroke="#ff1a1a" stroke-width="0.45" stroke-opacity="0.7"/>
<line x1="278.56" y1="364.15" x2="278.56" y2="363.73" stroke="#ff1a1a" stroke-width="0.45" stroke-opacity="0.7"/>
<line x1="278.88" y1="364.15" x2="278.88" y2="363.74" stroke="#ff1a1a" stroke-width="0.45" stroke-opacity="0.7"/>
<line x1="279.20" y1="364.15" x2="279.20" y2="363.75" stroke="#ff1a1a" stroke-width="0.45" stroke-opacity="0.7"/>
<line x1="279.51" y1="364.15" x2="279.51" y2="362.99" stroke="#ff1a1a" stroke-width="0.45" stroke-opacity="0.7"/>
<line x1="279.83" y1="364.15" x2="279.83" y2="363.34" stroke="#ff1a1a" stroke-width="0.45" stroke-opacity="0.7"/>
<line x1="280.14" y1="364.15" x2="280.14" y2="363.69" stroke="#ff1a1a" stroke-width="0.45" stroke-opacity="0.7"/>
<line x1="280.46" y1="364.15" x2="280.46" y2="363.76" stroke="#ff1a1a" stroke-width="0.45" stroke-opacity="0.7"/>
<line x1="280.78" y1="364.15" x2="280.78" y2="363.66" stroke="#ff1a1a" stroke-width="0.45" stroke-opacity="0.7"/>
<line x1="281.09" y1="364.15" x2="281.09" y2="363.81" stroke="#ff1a1a" stroke-width="0.45" stroke-opacity="0.7"/>
<line x1="281.41" y1="364.15" x2="281.41" y2="363.97" stroke="#ff1a1a" stroke-width="0.45" stroke-opacity="0.7"/>
<line x1="281.72" y1="364.15" x2="281.72" y2="363.96" stroke="#ff1a1a" stroke-width="0.45" stroke-opacity="0.7"/>
<line x1="282.04" y1="364.15" x2="282.04" y2="363.76" stroke="#ff1a1a" stroke-width="0.45" stroke-opacity="0.7"/>
<line x1="282.36" y1="364.15" x2="282.36" y2="364.12" stroke="#ff1a1a" stroke-width="0.45" stroke-opacity="0.7"/>
<line x1="282.67" y1="364.15" x2="282.67" y2="363.43" stroke="#ff1a1a" stroke-width="0.45" stroke-opacity="0.7"/>
<line x1="282.99" y1="364.15" x2="282.99" y2="363.66" stroke="#ff1a1a" stroke-width="0.45" stroke-opacity="0.7"/>
<line x1="283.30" y1="364.15" x2="283.30" y2="363.60" stroke="#ff1a1a" stroke-width="0.45" stroke-opacity="0.7"/>
<line x1="283.62" y1="364.15" x2="283.62" y2="364.14" stroke="#ff1a1a" stroke-width="0.45" stroke-opacity="0.7"/>
<line x1="283.94" y1="364.15" x2="283.94" y2="363.79" stroke="#ff1a1a" stroke-width="0.45" stroke-opacity="0.7"/>
<line x1="284.25" y1="364.15" x2="284.25" y2="363.56" stroke="#ff1a1a" stroke-width="0.45" stroke-opacity="0.7"/>
<line x1="284.57" y1="364.15" x2="284.57" y2="363.20" stroke="#ff1a1a" stroke-width="0.45" stroke-opacity="0.7"/>
<line x1="284.88" y1="364.15" x2="284.88" y2="363.76" stroke="#ff1a1a" stroke-width="0.45" stroke-opacity="0.7"/>
<line x1="285.20" y1="364.15" x2="285.20" y2="363.36" stroke="#ff1a1a" stroke-width="0.45" stroke-opacity="0.7"/>
<line x1="285.52" y1="364.15" x2="285.52" y2="364.15" stroke="#ff1a1a" stroke-width="0.45" stroke-opacity="0.7"/>
<line x1="285.83" y1="364.15" x2="285.83" y2="364.08" stroke="#ff1a1a" stroke-width="0.45" stroke-opacity="0.7"/>
<line x1="286.15" y1="364.15" x2="286.15" y2="364.10" stroke="#ff1a1a" stroke-width="0.45" stroke-opacity="0.7"/>
<line x1="286.46" y1="364.15" x2="286.46" y2="363.37" stroke="#ff1a1a" stroke-width="0.45" stroke-opacity="0.7"/>
<line x1="286.78" y1="364.15" x2="286.78" y2="363.72" stroke="#ff1a1a" stroke-width="0.45" stroke-opacity="0.7"/>
<line x1="287.10" y1="364.15" x2="287.10" y2="363.01" stroke="#ff1a1a" stroke-width="0.45" stroke-opacity="0.7"/>
<line x1="287.41" y1="364.15" x2="287.41" y2="364.12" stroke="#ff1a1a" stroke-width="0.45" stroke-opacity="0.7"/>
<line x1="287.73" y1="364.15" x2="287.73" y2="363.72" stroke="#ff1a1a" stroke-width="0.45" stroke-opacity="0.7"/>
<line x1="288.04" y1="364.15" x2="288.04" y2="363.01" stroke="#ff1a1a" stroke-width="0.45" stroke-opacity="0.7"/>
<line x1="288.36" y1="364.15" x2="288.36" y2="363.77" stroke="#ff1a1a" stroke-width="0.45" stroke-opacity="0.7"/>
<line x1="288.68" y1="364.15" x2="288.68" y2="363.87" stroke="#ff1a1a" stroke-width="0.45" stroke-opacity="0.7"/>
<line x1="288.99" y1="364.15" x2="288.99" y2="364.00" stroke="#ff1a1a" stroke-width="0.45" stroke-opacity="0.7"/>
<line x1="289.31" y1="364.15" x2="289.31" y2="363.02" stroke="#ff1a1a" stroke-width="0.45" stroke-opacity="0.7"/>
<line x1="289.62" y1="364.15" x2="289.62" y2="364.14" stroke="#ff1a1a" stroke-width="0.45" stroke-opacity="0.7"/>
<line x1="289.94" y1="364.15" x2="289.94" y2="362.96" stroke="#ff1a1a" stroke-width="0.45" stroke-opacity="0.7"/>
<line x1="290.26" y1="364.15" x2="290.26" y2="363.96" stroke="#ff1a1a" stroke-width="0.45" stroke-opacity="0.7"/>
<line x1="290.57" y1="364.15" x2="290.57" y2="364.05" stroke="#ff1a1a" stroke-width="0.45" stroke-opacity="0.7"/>
<line x1="290.89" y1="364.15" x2="290.89" y2="363.16" stroke="#ff1a1a" stroke-width="0.45" stroke-opacity="0.7"/>
<line x1="291.20" y1="364.15" x2="291.20" y2="363.93" stroke="#ff1a1a" stroke-width="0.45" stroke-opacity="0.7"/>
<line x1="291.52" y1="364.15" x2="291.52" y2="363.89" stroke="#ff1a1a" stroke-width="0.45" stroke-opacity="0.7"/>
<line x1="291.84" y1="364.15" x2="291.84" y2="364.06" stroke="#ff1a1a" stroke-width="0.45" stroke-opacity="0.7"/>
<line x1="292.15" y1="364.15" x2="292.15" y2="363.93" stroke="#ff1a1a" stroke-width="0.45" stroke-opacity="0.7"/>
<line x1="292.47" y1="364.15" x2="292.47" y2="363.77" stroke="#ff1a1a" stroke-width="0.45" stroke-opacity="0.7"/>
<line x1="292.78" y1="364.15" x2="292.78" y2="363.92" stroke="#ff1a1a" stroke-width="0.45" stroke-opacity="0.7"/>
<line x1="293.10" y1="364.15" x2="293.10" y2="363.58" stroke="#ff1a1a" stroke-width="0.45" stroke-opacity="0.7"/>
<line x1="293.42" y1="364.15" x2="293.42" y2="363.81" stroke="#ff1a1a" stroke-width="0.45" stroke-opacity="0.7"/>
<line x1="293.73" y1="364.15" x2="293.73" y2="364.11" stroke="#ff1a1a" stroke-width="0.45" stroke-opacity="0.7"/>
<line x1="294.05" y1="364.15" x2="294.05" y2="363.73" stroke="#ff1a1a" stroke-width="0.45" stroke-opacity="0.7"/>
<line x1="294.36" y1="364.15" x2="294.36" y2="363.95" stroke="#ff1a1a" stroke-width="0.45" stroke-opacity="0.7"/>
<line x1="294.68" y1="364.15" x2="294.68" y2="363.56" stroke="#ff1a1a" stroke-width="0.45" stroke-opacity="0.7"/>
<line x1="295.00" y1="364.15" x2="295.00" y2="363.79" stroke="#ff1a1a" stroke-width="0.45" stroke-opacity="0.7"/>
<line x1="295.31" y1="364.15" x2="295.31" y2="363.89" stroke="#ff1a1a" stroke-width="0.45" stroke-opacity="0.7"/>
<line x1="295.63" y1="364.15" x2="295.63" y2="363.92" stroke="#ff1a1a" stroke-width="0.45" stroke-opacity="0.7"/>
<line x1="295.94" y1="364.15" x2="295.94" y2="363.79" stroke="#ff1a1a" stroke-width="0.45" stroke-opacity="0.7"/>
<line x1="296.26" y1="364.15" x2="296.26" y2="363.67" stroke="#ff1a1a" stroke-width="0.45" stroke-opacity="0.7"/>
<line x1="296.58" y1="364.15" x2="296.58" y2="364.15" stroke="#ff1a1a" stroke-width="0.45" stroke-opacity="0.7"/>
<line x1="296.89" y1="364.15" x2="296.89" y2="363.90" stroke="#ff1a1a" stroke-width="0.45" stroke-opacity="0.7"/>
<line x1="297.21" y1="364.15" x2="297.21" y2="363.66" stroke="#ff1a1a" stroke-width="0.45" stroke-opacity="0.7"/>
<line x1="297.52" y1="364.15" x2="297.52" y2="364.12" stroke="#ff1a1a" stroke-width="0.45" stroke-opacity="0.7"/>
<line x1="297.84" y1="364.15" x2="297.84" y2="363.66" stroke="#ff1a1a" stroke-width="0.45" stroke-opacity="0.7"/>
<line x1="298.16" y1="364.15" x2="298.16" y2="363.81" stroke="#ff1a1a" stroke-width="0.45" stroke-opacity="0.7"/>
<line x1="298.47" y1="364.15" x2="298.47" y2="363.64" stroke="#ff1a1a" stroke-width="0.45" stroke-opacity="0.7"/>
<line x1="298.79" y1="364.15" x2="298.79" y2="363.74" stroke="#ff1a1a" stroke-width="0.45" stroke-opacity="0.7"/>
<line x1="299.10" y1="364.15" x2="299.10" y2="363.24" stroke="#ff1a1a" stroke-width="0.45" stroke-opacity="0.7"/>
<line x1="299.42" y1="364.15" x2="299.42" y2="363.82" stroke="#ff1a1a" stroke-width="0.45" stroke-opacity="0.7"/>
<line x1="299.74" y1="364.15" x2="299.74" y2="364.03" stroke="#ff1a1a" stroke-width="0.45" stroke-opacity="0.7"/>
<line x1="300.05" y1="364.15" x2="300.05" y2="363.59" stroke="#ff1a1a" stroke-width="0.45" stroke-opacity="0.7"/>
<line x1="300.37" y1="364.15" x2="300.37" y2="363.79" stroke="#ff1a1a" stroke-width="0.45" stroke-opacity="0.7"/>
<line x1="300.68" y1="364.15" x2="300.68" y2="363.87" stroke="#ff1a1a" stroke-width="0.45" stroke-opacity="0.7"/>
<line x1="301.00" y1="364.15" x2="301.00" y2="364.00" stroke="#ff1a1a" stroke-width="0.45" stroke-opacity="0.7"/>
<line x1="301.32" y1="364.15" x2="301.32" y2="363.68" stroke="#ff1a1a" stroke-width="0.45" stroke-opacity="0.7"/>
<line x1="301.63" y1="364.15" x2="301.63" y2="364.10" stroke="#ff1a1a" stroke-width="0.45" stroke-opacity="0.7"/>
<line x1="301.95" y1="364.15" x2="301.95" y2="363.69" stroke="#ff1a1a" stroke-width="0.45" stroke-opacity="0.7"/>
<line x1="302.26" y1="364.15" x2="302.26" y2="363.80" stroke="#ff1a1a" stroke-width="0.45" stroke-opacity="0.7"/>
<line x1="302.58" y1="364.15" x2="302.58" y2="363.62" stroke="#ff1a1a" stroke-width="0.45" stroke-opacity="0.7"/>
<line x1="302.90" y1="364.15" x2="302.90" y2="363.86" stroke="#ff1a1a" stroke-width="0.45" stroke-opacity="0.7"/>
<line x1="303.21" y1="364.15" x2="303.21" y2="363.34" stroke="#ff1a1a" stroke-width="0.45" stroke-opacity="0.7"/>
<line x1="303.53" y1="364.15" x2="303.53" y2="364.04" stroke="#ff1a1a" stroke-width="0.45" stroke-opacity="0.7"/>
<line x1="303.84" y1="364.15" x2="303.84" y2="363.93" stroke="#ff1a1a" stroke-width="0.45" stroke-opacity="0.7"/>
<line x1="304.16" y1="364.15" x2="304.16" y2="363.91" stroke="#ff1a1a" stroke-width="0.45" stroke-opacity="0.7"/>
<line x1="304.48" y1="364.15" x2="304.48" y2="363.36" stroke="#ff1a1a" stroke-width="0.45" stroke-opacity="0.7"/>
<line x1="304.79" y1="364.15" x2="304.79" y2="363.55" stroke="#ff1a1a" stroke-width="0.45" stroke-opacity="0.7"/>
<line x1="305.11" y1="364.15" x2="305.11" y2="364.09" stroke="#ff1a1a" stroke-width="0.45" stroke-opacity="0.7"/>
<line x1="305.42" y1="364.15" x2="305.42" y2="362.98" stroke="#ff1a1a" stroke-width="0.45" stroke-opacity="0.7"/>
<line x1="305.74" y1="364.15" x2="305.74" y2="363.79" stroke="#ff1a1a" stroke-width="0.45" stroke-opacity="0.7"/>
<line x1="306.06" y1="364.15" x2="306.06" y2="363.14" stroke="#ff1a1a" stroke-width="0.45" stroke-opacity="0.7"/>
<line x1="306.37" y1="364.15" x2="306.37" y2="364.13" stroke="#ff1a1a" stroke-width="0.45" stroke-opacity="0.7"/>
<line x1="306.69" y1="364.15" x2="306.69" y2="363.63" stroke="#ff1a1a" stroke-width="0.45" stroke-opacity="0.7"/>
<line x1="307.00" y1="364.15" x2="307.00" y2="363.81" stroke="#ff1a1a" stroke-width="0.45" stroke-opacity="0.7"/>
<line x1="307.32" y1="364.15" x2="307.32" y2="363.68" stroke="#ff1a1a" stroke-width="0.45" stroke-opacity="0.7"/>
<line x1="307.64" y1="364.15" x2="307.64" y2="363.58" stroke="#ff1a1a" stroke-width="0.45" stroke-opacity="0.7"/>
<line x1="307.95" y1="364.15" x2="307.95" y2="363.66" stroke="#ff1a1a" stroke-width="0.45" stroke-opacity="0.7"/>
<line x1="308.27" y1="364.15" x2="308.27" y2="363.30" stroke="#ff1a1a" stroke-width="0.45" stroke-opacity="0.7"/>
<line x1="308.58" y1="364.15" x2="308.58" y2="363.33" stroke="#ff1a1a" stroke-width="0.45" stroke-opacity="0.7"/>
<line x1="308.90" y1="364.15" x2="308.90" y2="363.40" stroke="#ff1a1a" stroke-width="0.45" stroke-opacity="0.7"/>
<line x1="309.22" y1="364.15" x2="309.22" y2="363.82" stroke="#ff1a1a" stroke-width="0.45" stroke-opacity="0.7"/>
<line x1="309.53" y1="364.15" x2="309.53" y2="363.88" stroke="#ff1a1a" stroke-width="0.45" stroke-opacity="0.7"/>
<line x1="309.85" y1="364.15" x2="309.85" y2="362.90" stroke="#ff1a1a" stroke-width="0.45" stroke-opacity="0.7"/>
<line x1="310.16" y1="364.15" x2="310.16" y2="363.79" stroke="#ff1a1a" stroke-width="0.45" stroke-opacity="0.7"/>
<line x1="310.48" y1="364.15" x2="310.48" y2="364.08" stroke="#ff1a1a" stroke-width="0.45" stroke-opacity="0.7"/>
<line x1="310.80" y1="364.15" x2="310.80" y2="364.00" stroke="#ff1a1a" stroke-width="0.45" stroke-opacity="0.7"/>
<line x1="311.11" y1="364.15" x2="311.11" y2="363.77" stroke="#ff1a1a" stroke-width="0.45" stroke-opacity="0.7"/>
<line x1="311.43" y1="364.15" x2="311.43" y2="363.75" stroke="#ff1a1a" stroke-width="0.45" stroke-opacity="0.7"/>
<line x1="311.74" y1="364.15" x2="311.74" y2="363.18" stroke="#ff1a1a" stroke-width="0.45" stroke-opacity="0.7"/>
<line x1="312.06" y1="364.15" x2="312.06" y2="363.57" stroke="#ff1a1a" stroke-width="0.45" stroke-opacity="0.7"/>
<line x1="312.38" y1="364.15" x2="312.38" y2="363.32" stroke="#ff1a1a" stroke-width="0.45" stroke-opacity="0.7"/>
<line x1="312.69" y1="364.15" x2="312.69" y2="364.00" stroke="#ff1a1a" stroke-width="0.45" stroke-opacity="0.7"/>
<line x1="313.01" y1="364.15" x2="313.01" y2="363.61" stroke="#ff1a1a" stroke-width="0.45" stroke-opacity="0.7"/>
<line x1="313.32" y1="364.15" x2="313.32" y2="362.95" stroke="#ff1a1a" stroke-width="0.45" stroke-opacity="0.7"/>
<line x1="313.64" y1="364.15" x2="313.64" y2="363.68" stroke="#ff1a1a" stroke-width="0.45" stroke-opacity="0.7"/>
<line x1="313.96" y1="364.15" x2="313.96" y2="363.76" stroke="#ff1a1a" stroke-width="0.45" stroke-opacity="0.7"/>
<line x1="314.27" y1="364.15" x2="314.27" y2="363.42" stroke="#ff1a1a" stroke-width="0.45" stroke-opacity="0.7"/>
<line x1="314.59" y1="364.15" x2="314.59" y2="363.70" stroke="#ff1a1a" stroke-width="0.45" stroke-opacity="0.7"/>
<line x1="314.90" y1="364.15" x2="314.90" y2="363.74" stroke="#ff1a1a" stroke-width="0.45" stroke-opacity="0.7"/>
<line x1="315.22" y1="364.15" x2="315.22" y2="363.80" stroke="#ff1a1a" stroke-width="0.45" stroke-opacity="0.7"/>
<line x1="315.54" y1="364.15" x2="315.54" y2="364.09" stroke="#ff1a1a" stroke-width="0.45" stroke-opacity="0.7"/>
<line x1="315.85" y1="364.15" x2="315.85" y2="363.30" stroke="#ff1a1a" stroke-width="0.45" stroke-opacity="0.7"/>
<line x1="316.17" y1="364.15" x2="316.17" y2="363.16" stroke="#ff1a1a" stroke-width="0.45" stroke-opacity="0.7"/>
<line x1="316.48" y1="364.15" x2="316.48" y2="363.31" stroke="#ff1a1a" stroke-width="0.45" stroke-opacity="0.7"/>
<line x1="316.80" y1="364.15" x2="316.80" y2="363.04" stroke="#ff1a1a" stroke-width="0.45" stroke-opacity="0.7"/>
<line x1="317.12" y1="364.15" x2="317.12" y2="363.02" stroke="#ff1a1a" stroke-width="0.45" stroke-opacity="0.7"/>
<line x1="317.43" y1="364.15" x2="317.43" y2="364.13" stroke="#ff1a1a" stroke-width="0.45" stroke-opacity="0.7"/>
<line x1="317.75" y1="364.15" x2="317.75" y2="364.02" stroke="#ff1a1a" stroke-width="0.45" stroke-opacity="0.7"/>
<line x1="318.06" y1="364.15" x2="318.06" y2="363.63" stroke="#ff1a1a" stroke-width="0.45" stroke-opacity="0.7"/>
<line x1="318.38" y1="364.15" x2="318.38" y2="364.07" stroke="#ff1a1a" stroke-width="0.45" stroke-opacity="0.7"/>
<line x1="318.70" y1="364.15" x2="318.70" y2="364.09" stroke="#ff1a1a" stroke-width="0.45" stroke-opacity="0.7"/>
<line x1="319.01" y1="364.15" x2="319.01" y2="363.64" stroke="#ff1a1a" stroke-width="0.45" stroke-opacity="0.7"/>
<line x1="319.33" y1="364.15" x2="319.33" y2="363.88" stroke="#ff1a1a" stroke-width="0.45" stroke-opacity="0.7"/>
<line x1="319.64" y1="364.15" x2="319.64" y2="363.66" stroke="#ff1a1a" stroke-width="0.45" stroke-opacity="0.7"/>
<line x1="319.96" y1="364.15" x2="319.96" y2="363.07" stroke="#ff1a1a" stroke-width="0.45" stroke-opacity="0.7"/>
<line x1="320.28" y1="364.15" x2="320.28" y2="363.32" stroke="#ff1a1a" stroke-width="0.45" stroke-opacity="0.7"/>
<line x1="320.59" y1="364.15" x2="320.59" y2="363.72" stroke="#ff1a1a" stroke-width="0.45" stroke-opacity="0.7"/>
<line x1="320.91" y1="364.15" x2="320.91" y2="364.06" stroke="#ff1a1a" stroke-width="0.45" stroke-opacity="0.7"/>
<line x1="321.22" y1="364.15" x2="321.22" y2="363.99" stroke="#ff1a1a" stroke-width="0.45" stroke-opacity="0.7"/>
<line x1="321.54" y1="364.15" x2="321.54" y2="364.06" stroke="#ff1a1a" stroke-width="0.45" stroke-opacity="0.7"/>
<line x1="321.86" y1="364.15" x2="321.86" y2="363.65" stroke="#ff1a1a" stroke-width="0.45" stroke-opacity="0.7"/>
<line x1="322.17" y1="364.15" x2="322.17" y2="364.05" stroke="#ff1a1a" stroke-width="0.45" stroke-opacity="0.7"/>
<line x1="322.49" y1="364.15" x2="322.49" y2="363.96" stroke="#ff1a1a" stroke-width="0.45" stroke-opacity="0.7"/>
<line x1="322.80" y1="364.15" x2="322.80" y2="364.08" stroke="#ff1a1a" stroke-width="0.45" stroke-opacity="0.7"/>
<line x1="323.12" y1="364.15" x2="323.12" y2="364.12" stroke="#ff1a1a" stroke-width="0.45" stroke-opacity="0.7"/>
<line x1="323.44" y1="364.15" x2="323.44" y2="363.75" stroke="#ff1a1a" stroke-width="0.45" stroke-opacity="0.7"/>
<line x1="323.75" y1="364.15" x2="323.75" y2="363.86" stroke="#ff1a1a" stroke-width="0.45" stroke-opacity="0.7"/>
<line x1="324.07" y1="364.15" x2="324.07" y2="364.00" stroke="#ff1a1a" stroke-width="0.45" stroke-opacity="0.7"/>
<line x1="324.38" y1="364.15" x2="324.38" y2="363.93" stroke="#ff1a1a" stroke-width="0.45" stroke-opacity="0.7"/>
<line x1="324.70" y1="364.15" x2="324.70" y2="363.55" stroke="#ff1a1a" stroke-width="0.45" stroke-opacity="0.7"/>
<line x1="325.02" y1="364.15" x2="325.02" y2="364.09" stroke="#ff1a1a" stroke-width="0.45" stroke-opacity="0.7"/>
<line x1="325.33" y1="364.15" x2="325.33" y2="362.91" stroke="#ff1a1a" stroke-width="0.45" stroke-opacity="0.7"/>
<line x1="325.65" y1="364.15" x2="325.65" y2="363.71" stroke="#ff1a1a" stroke-width="0.45" stroke-opacity="0.7"/>
<line x1="325.96" y1="364.15" x2="325.96" y2="362.86" stroke="#ff1a1a" stroke-width="0.45" stroke-opacity="0.7"/>
<line x1="326.28" y1="364.15" x2="326.28" y2="363.67" stroke="#ff1a1a" stroke-width="0.45" stroke-opacity="0.7"/>
<line x1="326.60" y1="364.15" x2="326.60" y2="363.37" stroke="#ff1a1a" stroke-width="0.45" stroke-opacity="0.7"/>
<line x1="326.91" y1="364.15" x2="326.91" y2="363.65" stroke="#ff1a1a" stroke-width="0.45" stroke-opacity="0.7"/>
<line x1="327.23" y1="364.15" x2="327.23" y2="364.04" stroke="#ff1a1a" stroke-width="0.45" stroke-opacity="0.7"/>
<line x1="327.54" y1="364.15" x2="327.54" y2="363.60" stroke="#ff1a1a" stroke-width="0.45" stroke-opacity="0.7"/>
<line x1="327.86" y1="364.15" x2="327.86" y2="363.11" stroke="#ff1a1a" stroke-width="0.45" stroke-opacity="0.7"/>
<line x1="328.18" y1="364.15" x2="328.18" y2="364.04" stroke="#ff1a1a" stroke-width="0.45" stroke-opacity="0.7"/>
<line x1="328.49" y1="364.15" x2="328.49" y2="363.02" stroke="#ff1a1a" stroke-width="0.45" stroke-opacity="0.7"/>
<line x1="328.81" y1="364.15" x2="328.81" y2="363.40" stroke="#ff1a1a" stroke-width="0.45" stroke-opacity="0.7"/>
<line x1="329.12" y1="364.15" x2="329.12" y2="363.78" stroke="#ff1a1a" stroke-width="0.45" stroke-opacity="0.7"/>
<line x1="329.44" y1="364.15" x2="329.44" y2="363.99" stroke="#ff1a1a" stroke-width="0.45" stroke-opacity="0.7"/>
<line x1="329.76" y1="364.15" x2="329.76" y2="363.78" stroke="#ff1a1a" stroke-width="0.45" stroke-opacity="0.7"/>
<line x1="330.07" y1="364.15" x2="330.07" y2="363.66" stroke="#ff1a1a" stroke-width="0.45" stroke-opacity="0.7"/>
<line x1="330.39" y1="364.15" x2="330.39" y2="363.33" stroke="#ff1a1a" stroke-width="0.45" stroke-opacity="0.7"/>
<line x1="330.70" y1="364.15" x2="330.70" y2="363.71" stroke="#ff1a1a" stroke-width="0.45" stroke-opacity="0.7"/>
<line x1="331.02" y1="364.15" x2="331.02" y2="363.02" stroke="#ff1a1a" stroke-width="0.45" stroke-opacity="0.7"/>
<line x1="331.34" y1="364.15" x2="331.34" y2="363.66" stroke="#ff1a1a" stroke-width="0.45" stroke-opacity="0.7"/>
<line x1="331.65" y1="364.15" x2="331.65" y2="363.64" stroke="#ff1a1a" stroke-width="0.45" stroke-opacity="0.7"/>
<line x1="331.97" y1="364.15" x2="331.97" y2="363.15" stroke="#ff1a1a" stroke-width="0.45" stroke-opacity="0.7"/>
<line x1="332.28" y1="364.15" x2="332.28" y2="363.60" stroke="#ff1a1a" stroke-width="0.45" stroke-opacity="0.7"/>
<line x1="332.60" y1="364.15" x2="332.60" y2="363.63" stroke="#ff1a1a" stroke-width="0.45" stroke-opacity="0.7"/>
<line x1="332.92" y1="364.15" x2="332.92" y2="364.04" stroke="#ff1a1a" stroke-width="0.45" stroke-opacity="0.7"/>
<line x1="333.23" y1="364.15" x2="333.23" y2="363.23" stroke="#ff1a1a" stroke-width="0.45" stroke-opacity="0.7"/>
<line x1="333.55" y1="364.15" x2="333.55" y2="363.93" stroke="#ff1a1a" stroke-width="0.45" stroke-opacity="0.7"/>
<line x1="333.86" y1="364.15" x2="333.86" y2="364.15" stroke="#ff1a1a" stroke-width="0.45" stroke-opacity="0.7"/>
<line x1="334.18" y1="364.15" x2="334.18" y2="363.88" stroke="#ff1a1a" stroke-width="0.45" stroke-opacity="0.7"/>
<line x1="334.50" y1="364.15" x2="334.50" y2="364.08" stroke="#ff1a1a" stroke-width="0.45" stroke-opacity="0.7"/>
<line x1="32.30" y1="364.30" x2="334.50" y2="364.30" stroke="#ff1a1a" stroke-width="1.0"/>
<line x1="258.40" y1="364.75" x2="258.40" y2="207.30" stroke="#ff1a1a" stroke-width="1.1"/>
<line x1="259.20" y1="364.75" x2="259.20" y2="272.50" stroke="#ff1a1a" stroke-width="1.0"/>
<line x1="259.60" y1="364.75" x2="259.60" y2="337.00" stroke="#ff1a1a" stroke-width="1.0"/>
<line x1="263.50" y1="364.75" x2="263.50" y2="284.40" stroke="#ff1a1a" stroke-width="1.0"/>
<line x1="264.00" y1="364.75" x2="264.00" y2="347.50" stroke="#ff1a1a" stroke-width="0.8"/>
<line x1="251.60" y1="364.75" x2="251.60" y2="311.60" stroke="#ff1a1a" stroke-width="1.0"/>
<line x1="251.10" y1="364.75" x2="251.10" y2="351.50" stroke="#ff1a1a" stroke-width="1.0"/>
<line x1="124.30" y1="364.75" x2="124.30" y2="324.60" stroke="#ff1a1a" stroke-width="1.0"/>
<line x1="123.40" y1="364.75" x2="123.40" y2="348.00" stroke="#ff1a1a" stroke-width="0.8"/>
<line x1="129.50" y1="364.75" x2="129.50" y2="352.70" stroke="#ff1a1a" stroke-width="1.0"/>
<line x1="268.40" y1="364.75" x2="268.40" y2="339.50" stroke="#ff1a1a" stroke-width="1.0"/>
<line x1="268.90" y1="364.75" x2="268.90" y2="351.00" stroke="#ff1a1a" stroke-width="0.8"/>
<line x1="298.40" y1="364.75" x2="298.40" y2="353.70" stroke="#ff1a1a" stroke-width="0.9"/>
<line x1="95.80" y1="364.75" x2="95.80" y2="362.00" stroke="#ff1a1a" stroke-width="0.7"/>
<line x1="169.00" y1="364.75" x2="169.00" y2="362.80" stroke="#ff1a1a" stroke-width="0.7"/>
<line x1="100.80" y1="364.75" x2="100.80" y2="361.80" stroke="#ff1a1a" stroke-width="0.7"/>
<line x1="106.30" y1="364.75" x2="106.30" y2="357.80" stroke="#ff1a1a" stroke-width="0.9"/>
<line x1="107.00" y1="364.75" x2="107.00" y2="360.00" stroke="#ff1a1a" stroke-width="0.7"/>
<line x1="110.00" y1="364.75" x2="110.00" y2="361.40" stroke="#ff1a1a" stroke-width="0.7"/>
<line x1="113.20" y1="364.75" x2="113.20" y2="361.40" stroke="#ff1a1a" stroke-width="0.7"/>
<line x1="117.60" y1="364.75" x2="117.60" y2="361.80" stroke="#ff1a1a" stroke-width="0.7"/>
<line x1="120.50" y1="364.75" x2="120.50" y2="362.40" stroke="#ff1a1a" stroke-width="0.7"/>
<line x1="134.60" y1="364.75" x2="134.60" y2="360.00" stroke="#ff1a1a" stroke-width="0.8"/>
<line x1="136.80" y1="364.75" x2="136.80" y2="361.50" stroke="#ff1a1a" stroke-width="0.7"/>
<line x1="141.90" y1="364.75" x2="141.90" y2="360.00" stroke="#ff1a1a" stroke-width="0.8"/>
<line x1="147.00" y1="364.75" x2="147.00" y2="360.70" stroke="#ff1a1a" stroke-width="0.8"/>
<line x1="165.30" y1="364.75" x2="165.30" y2="363.00" stroke="#ff1a1a" stroke-width="0.6"/>
<line x1="222.30" y1="364.75" x2="222.30" y2="359.00" stroke="#ff1a1a" stroke-width="0.8"/>
<line x1="232.30" y1="364.75" x2="232.30" y2="363.00" stroke="#ff1a1a" stroke-width="0.6"/>
<line x1="235.60" y1="364.75" x2="235.60" y2="358.80" stroke="#ff1a1a" stroke-width="0.8"/>
<line x1="240.50" y1="364.75" x2="240.50" y2="359.70" stroke="#ff1a1a" stroke-width="0.8"/>
<line x1="241.70" y1="364.75" x2="241.70" y2="360.50" stroke="#ff1a1a" stroke-width="0.7"/>
<line x1="245.60" y1="364.75" x2="245.60" y2="359.20" stroke="#ff1a1a" stroke-width="0.8"/>
<line x1="256.10" y1="364.75" x2="256.10" y2="356.60" stroke="#ff1a1a" stroke-width="0.8"/>
<line x1="254.00" y1="364.75" x2="254.00" y2="362.00" stroke="#ff1a1a" stroke-width="0.6"/>
<line x1="273.30" y1="364.75" x2="273.30" y2="356.40" stroke="#ff1a1a" stroke-width="0.8"/>
<line x1="274.40" y1="364.75" x2="274.40" y2="355.80" stroke="#ff1a1a" stroke-width="0.8"/>
<line x1="280.50" y1="364.75" x2="280.50" y2="347.60" stroke="#ff1a1a" stroke-width="0.9"/>
<line x1="281.30" y1="364.75" x2="281.30" y2="353.20" stroke="#ff1a1a" stroke-width="0.8"/>
<line x1="284.40" y1="364.75" x2="284.40" y2="358.00" stroke="#ff1a1a" stroke-width="0.7"/>
<line x1="286.30" y1="364.75" x2="286.30" y2="354.50" stroke="#ff1a1a" stroke-width="0.8"/>
<line x1="287.70" y1="364.75" x2="287.70" y2="357.70" stroke="#ff1a1a" stroke-width="0.7"/>
<line x1="291.90" y1="364.75" x2="291.90" y2="357.40" stroke="#ff1a1a" stroke-width="0.8"/>
<line x1="293.70" y1="364.75" x2="293.70" y2="357.40" stroke="#ff1a1a" stroke-width="0.8"/>
<line x1="303.60" y1="364.75" x2="303.60" y2="359.10" stroke="#ff1a1a" stroke-width="0.8"/>
<line x1="277.00" y1="364.75" x2="277.00" y2="360.00" stroke="#ff1a1a" stroke-width="0.6"/>
<line x1="289.80" y1="364.75" x2="289.80" y2="360.50" stroke="#ff1a1a" stroke-width="0.6"/>
<line x1="296.00" y1="364.75" x2="296.00" y2="360.80" stroke="#ff1a1a" stroke-width="0.6"/>
<line x1="300.50" y1="364.75" x2="300.50" y2="361.50" stroke="#ff1a1a" stroke-width="0.6"/>
<line x1="306.50" y1="364.75" x2="306.50" y2="362.00" stroke="#ff1a1a" stroke-width="0.6"/>
<line x1="310.00" y1="364.75" x2="310.00" y2="362.50" stroke="#ff1a1a" stroke-width="0.6"/>
<line x1="189.50" y1="364.75" x2="189.50" y2="362.50" stroke="#ff1a1a" stroke-width="0.6"/>
<line x1="199.00" y1="364.75" x2="199.00" y2="362.80" stroke="#ff1a1a" stroke-width="0.6"/>
<line x1="210.00" y1="364.75" x2="210.00" y2="362.50" stroke="#ff1a1a" stroke-width="0.6"/>
<line x1="216.00" y1="364.75" x2="216.00" y2="362.80" stroke="#ff1a1a" stroke-width="0.6"/>
<line x1="228.00" y1="364.75" x2="228.00" y2="362.20" stroke="#ff1a1a" stroke-width="0.6"/>
<line x1="248.50" y1="364.75" x2="248.50" y2="361.50" stroke="#ff1a1a" stroke-width="0.6"/>
<line x1="253.00" y1="364.75" x2="253.00" y2="360.50" stroke="#ff1a1a" stroke-width="0.6"/>
<line x1="92.00" y1="358.00" x2="96.00" y2="362.10" stroke="#444" stroke-width="0.55"/>
<line x1="119.80" y1="344.60" x2="123.30" y2="348.70" stroke="#444" stroke-width="0.55"/>
<line x1="132.80" y1="349.50" x2="129.70" y2="352.80" stroke="#444" stroke-width="0.55"/>
<line x1="171.80" y1="360.00" x2="168.90" y2="363.30" stroke="#444" stroke-width="0.55"/>
<line x1="249.30" y1="308.70" x2="251.50" y2="311.60" stroke="#444" stroke-width="0.55"/>
<line x1="249.30" y1="348.80" x2="251.30" y2="352.60" stroke="#444" stroke-width="0.55"/>
<line x1="262.50" y1="269.40" x2="259.40" y2="272.60" stroke="#444" stroke-width="0.55"/>
<line x1="271.00" y1="336.50" x2="268.50" y2="339.50" stroke="#444" stroke-width="0.55"/>
<line x1="301.90" y1="350.40" x2="298.50" y2="353.70" stroke="#444" stroke-width="0.55"/>
<text x="59.90" y="357.18" font-size="8.5" text-anchor="start" fill="#111" stroke="#111" stroke-width="0.22" textLength="35.60" lengthAdjust="spacingAndGlyphs">353.2444</text>
<text x="87.70" y="344.38" font-size="8.5" text-anchor="start" fill="#111" stroke="#111" stroke-width="0.22" textLength="35.60" lengthAdjust="spacingAndGlyphs">443.2943</text>
<text x="106.40" y="322.68" font-size="8.5" text-anchor="start" fill="#111" stroke="#111" stroke-width="0.22" textLength="35.60" lengthAdjust="spacingAndGlyphs">445.3098</text>
<text x="129.20" y="348.48" font-size="8.5" text-anchor="start" fill="#111" stroke="#111" stroke-width="0.22" textLength="35.60" lengthAdjust="spacingAndGlyphs">461.3049</text>
<text x="169.30" y="357.98" font-size="8.5" text-anchor="start" fill="#111" stroke="#111" stroke-width="0.22" textLength="35.60" lengthAdjust="spacingAndGlyphs">586.4844</text>
<text x="214.90" y="347.48" font-size="8.5" text-anchor="start" fill="#111" stroke="#111" stroke-width="0.22" textLength="35.60" lengthAdjust="spacingAndGlyphs">847.5720</text>
<text x="214.90" y="306.58" font-size="8.5" text-anchor="start" fill="#111" stroke="#111" stroke-width="0.22" textLength="35.60" lengthAdjust="spacingAndGlyphs">848.5794</text>
<text x="240.30" y="204.78" font-size="8.5" text-anchor="start" fill="#111" stroke="#111" stroke-width="0.22" textLength="35.60" lengthAdjust="spacingAndGlyphs">871.5715</text>
<text x="258.90" y="267.98" font-size="8.5" text-anchor="start" fill="#111" stroke="#111" stroke-width="0.22" textLength="35.60" lengthAdjust="spacingAndGlyphs">872.5740</text>
<text x="268.80" y="335.18" font-size="8.5" text-anchor="start" fill="#111" stroke="#111" stroke-width="0.22" textLength="35.60" lengthAdjust="spacingAndGlyphs">903.5505</text>
<text x="298.90" y="349.18" font-size="8.5" text-anchor="start" fill="#111" stroke="#111" stroke-width="0.22" textLength="35.60" lengthAdjust="spacingAndGlyphs">999.5894</text>
<text x="394.80" y="219.02" font-size="11.2" text-anchor="start" fill="#000" stroke="#000" stroke-width="0.1" font-weight="bold">D</text>
<line x1="411.25" y1="315.00" x2="421.40" y2="309.50" stroke="#2a2a2a" stroke-width="0.75"/>
<line x1="421.40" y1="309.50" x2="421.40" y2="297.90" stroke="#2a2a2a" stroke-width="0.75"/>
<line x1="421.40" y1="297.90" x2="431.40" y2="292.30" stroke="#2a2a2a" stroke-width="0.75"/>
<line x1="431.40" y1="292.30" x2="431.40" y2="280.50" stroke="#2a2a2a" stroke-width="0.75"/>
<line x1="431.40" y1="280.50" x2="441.60" y2="274.70" stroke="#2a2a2a" stroke-width="0.75"/>
<line x1="441.60" y1="274.70" x2="441.60" y2="262.80" stroke="#2a2a2a" stroke-width="0.75"/>
<line x1="443.60" y1="273.80" x2="443.60" y2="263.80" stroke="#2a2a2a" stroke-width="0.75"/>
<line x1="441.60" y1="262.80" x2="452.00" y2="257.20" stroke="#2a2a2a" stroke-width="0.75"/>
<line x1="452.00" y1="257.20" x2="452.00" y2="245.30" stroke="#2a2a2a" stroke-width="0.75"/>
<line x1="452.00" y1="245.30" x2="461.80" y2="239.80" stroke="#2a2a2a" stroke-width="0.75"/>
<line x1="461.80" y1="239.80" x2="461.80" y2="227.50" stroke="#2a2a2a" stroke-width="0.75"/>
<line x1="463.80" y1="238.90" x2="463.80" y2="228.50" stroke="#2a2a2a" stroke-width="0.75"/>
<line x1="461.80" y1="227.50" x2="471.90" y2="221.60" stroke="#2a2a2a" stroke-width="0.75"/>
<line x1="471.90" y1="221.60" x2="471.90" y2="210.00" stroke="#2a2a2a" stroke-width="0.75"/>
<line x1="471.90" y1="210.00" x2="482.40" y2="202.80" stroke="#2a2a2a" stroke-width="0.75"/>
<line x1="482.40" y1="202.80" x2="482.40" y2="190.90" stroke="#2a2a2a" stroke-width="0.75"/>
<line x1="484.40" y1="201.90" x2="484.40" y2="191.90" stroke="#2a2a2a" stroke-width="0.75"/>
<line x1="482.40" y1="190.90" x2="492.40" y2="186.10" stroke="#2a2a2a" stroke-width="0.75"/>
<line x1="492.40" y1="186.10" x2="492.40" y2="177.60" stroke="#2a2a2a" stroke-width="0.75"/>
<g transform="translate(490.00 177.86) scale(0.82 1)"><text x="0" y="0" font-size="7.3" text-anchor="start" fill="#222" stroke="#222" stroke-width="0.08">CH<tspan font-size="5.11" dy="1.5">3</tspan></text></g>
<line x1="411.25" y1="315.00" x2="402.97" y2="311.27" stroke="#2a2a2a" stroke-width="0.75"/>
<line x1="411.05" y1="316.90" x2="403.57" y2="313.07" stroke="#2a2a2a" stroke-width="0.75"/>
<text x="400.60" y="312.51" font-size="6.6" text-anchor="middle" fill="#222" stroke="#222" stroke-width="0.1">O</text>
<line x1="411.25" y1="315.00" x2="411.25" y2="325.40" stroke="#2a2a2a" stroke-width="0.75"/>
<text x="410.70" y="330.61" font-size="6.6" text-anchor="middle" fill="#222" stroke="#222" stroke-width="0.1">O</text>
<line x1="408.20" y1="329.40" x2="400.50" y2="333.20" stroke="#2a2a2a" stroke-width="0.75"/>
<polygon points="400.60,344.90 401.45,333.19 399.55,333.21" fill="#2a2a2a"/>
<line x1="400.60" y1="344.90" x2="408.44" y2="349.42" stroke="#2a2a2a" stroke-width="0.75"/>
<text x="411.25" y="354.38" font-size="6.6" text-anchor="middle" fill="#222" stroke="#222" stroke-width="0.1">O</text>
<line x1="410.95" y1="354.07" x2="410.95" y2="362.83" stroke="#2a2a2a" stroke-width="0.75"/>
<line x1="410.95" y1="362.83" x2="400.60" y2="368.80" stroke="#2a2a2a" stroke-width="0.75"/>
<line x1="400.60" y1="368.80" x2="390.25" y2="362.83" stroke="#2a2a2a" stroke-width="0.75"/>
<line x1="390.25" y1="362.83" x2="390.25" y2="350.88" stroke="#2a2a2a" stroke-width="0.75"/>
<line x1="390.25" y1="350.88" x2="400.60" y2="344.90" stroke="#2a2a2a" stroke-width="0.75"/>
<line x1="388.98" y1="351.35" x2="389.86" y2="349.58" stroke="#2a2a2a" stroke-width="0.7"/>
<line x1="387.42" y1="350.33" x2="388.09" y2="348.96" stroke="#2a2a2a" stroke-width="0.7"/>
<line x1="385.86" y1="349.31" x2="386.33" y2="348.35" stroke="#2a2a2a" stroke-width="0.7"/>
<line x1="384.29" y1="348.29" x2="384.57" y2="347.73" stroke="#2a2a2a" stroke-width="0.7"/>
<text x="378.20" y="347.81" font-size="6.6" text-anchor="middle" fill="#222" stroke="#222" stroke-width="0.22" textLength="8.20" lengthAdjust="spacingAndGlyphs">HO</text>
<polygon points="390.25,362.83 382.91,365.90 384.29,368.10" fill="#2a2a2a"/>
<text x="378.40" y="371.31" font-size="6.6" text-anchor="middle" fill="#222" stroke="#222" stroke-width="0.22" textLength="8.30" lengthAdjust="spacingAndGlyphs">HO</text>
<line x1="400.93" y1="369.90" x2="400.28" y2="369.90" stroke="#2a2a2a" stroke-width="0.7"/>
<line x1="401.18" y1="372.10" x2="400.03" y2="372.10" stroke="#2a2a2a" stroke-width="0.7"/>
<line x1="401.43" y1="374.30" x2="399.78" y2="374.30" stroke="#2a2a2a" stroke-width="0.7"/>
<line x1="401.68" y1="376.50" x2="399.53" y2="376.50" stroke="#2a2a2a" stroke-width="0.7"/>
<text x="403.20" y="383.01" font-size="6.6" text-anchor="middle" fill="#222" stroke="#222" stroke-width="0.22" textLength="8.40" lengthAdjust="spacingAndGlyphs">OH</text>
<line x1="411.99" y1="363.11" x2="411.67" y2="363.64" stroke="#2a2a2a" stroke-width="0.7"/>
<line x1="413.88" y1="364.01" x2="413.31" y2="364.92" stroke="#2a2a2a" stroke-width="0.7"/>
<line x1="415.76" y1="364.91" x2="414.95" y2="366.21" stroke="#2a2a2a" stroke-width="0.7"/>
<line x1="417.64" y1="365.81" x2="416.60" y2="367.49" stroke="#2a2a2a" stroke-width="0.7"/>
<text x="421.00" y="371.61" font-size="6.6" text-anchor="middle" fill="#222" stroke="#222" stroke-width="0.1">O</text>
<line x1="423.40" y1="366.60" x2="431.10" y2="362.70" stroke="#2a2a2a" stroke-width="0.75"/>
<line x1="431.10" y1="362.70" x2="427.80" y2="356.80" stroke="#2a2a2a" stroke-width="0.75"/>
<g transform="translate(427.80 356.25) scale(0.82 1)"><text x="0" y="0" font-size="7.3" text-anchor="end" fill="#222" stroke="#222" stroke-width="0.08">H<tspan font-size="5.11" dy="1.5">3</tspan><tspan dy="-1.5">C</tspan></text></g>
<line x1="431.10" y1="362.70" x2="435.00" y2="370.20" stroke="#2a2a2a" stroke-width="0.75"/>
<g transform="translate(434.80 376.16) scale(0.82 1)"><text x="0" y="0" font-size="7.3" text-anchor="start" fill="#222" stroke="#222" stroke-width="0.08">CH<tspan font-size="5.11" dy="1.5">3</tspan></text></g>
<line x1="431.10" y1="362.60" x2="441.31" y2="357.20" stroke="#2a2a2a" stroke-width="0.75"/>
<line x1="441.31" y1="357.20" x2="451.52" y2="362.60" stroke="#2a2a2a" stroke-width="0.75"/>
<line x1="451.52" y1="362.60" x2="461.73" y2="357.20" stroke="#2a2a2a" stroke-width="0.75"/>
<line x1="453.33" y1="363.79" x2="461.70" y2="359.37" stroke="#2a2a2a" stroke-width="0.75"/>
<line x1="461.73" y1="357.20" x2="471.94" y2="362.60" stroke="#2a2a2a" stroke-width="0.75"/>
<line x1="471.94" y1="362.60" x2="482.15" y2="357.20" stroke="#2a2a2a" stroke-width="0.75"/>
<line x1="473.75" y1="363.79" x2="482.12" y2="359.37" stroke="#2a2a2a" stroke-width="0.75"/>
<line x1="482.15" y1="357.20" x2="492.36" y2="362.60" stroke="#2a2a2a" stroke-width="0.75"/>
<line x1="492.36" y1="362.60" x2="502.57" y2="357.20" stroke="#2a2a2a" stroke-width="0.75"/>
<line x1="494.17" y1="363.79" x2="502.54" y2="359.37" stroke="#2a2a2a" stroke-width="0.75"/>
<line x1="502.57" y1="357.20" x2="512.78" y2="362.60" stroke="#2a2a2a" stroke-width="0.75"/>
<line x1="512.78" y1="362.60" x2="522.99" y2="357.20" stroke="#2a2a2a" stroke-width="0.75"/>
<line x1="514.59" y1="363.79" x2="522.96" y2="359.37" stroke="#2a2a2a" stroke-width="0.75"/>
<line x1="522.99" y1="357.20" x2="533.20" y2="362.60" stroke="#2a2a2a" stroke-width="0.75"/>
<line x1="533.20" y1="362.60" x2="543.41" y2="357.20" stroke="#2a2a2a" stroke-width="0.75"/>
<line x1="535.01" y1="363.79" x2="543.38" y2="359.37" stroke="#2a2a2a" stroke-width="0.75"/>
<line x1="543.41" y1="357.20" x2="553.62" y2="362.60" stroke="#2a2a2a" stroke-width="0.75"/>
<line x1="553.62" y1="362.60" x2="563.83" y2="357.20" stroke="#2a2a2a" stroke-width="0.75"/>
<line x1="555.43" y1="363.79" x2="563.80" y2="359.37" stroke="#2a2a2a" stroke-width="0.75"/>
<line x1="563.83" y1="357.20" x2="574.04" y2="362.60" stroke="#2a2a2a" stroke-width="0.75"/>
<line x1="574.04" y1="362.60" x2="584.25" y2="357.20" stroke="#2a2a2a" stroke-width="0.75"/>
<line x1="575.85" y1="363.79" x2="584.22" y2="359.37" stroke="#2a2a2a" stroke-width="0.75"/>
<line x1="584.25" y1="357.20" x2="594.46" y2="362.60" stroke="#2a2a2a" stroke-width="0.75"/>
<line x1="594.46" y1="362.60" x2="604.67" y2="357.20" stroke="#2a2a2a" stroke-width="0.75"/>
<line x1="596.27" y1="363.79" x2="604.64" y2="359.37" stroke="#2a2a2a" stroke-width="0.75"/>
<line x1="604.67" y1="357.20" x2="614.88" y2="362.60" stroke="#2a2a2a" stroke-width="0.75"/>
<line x1="614.88" y1="362.60" x2="625.09" y2="357.20" stroke="#2a2a2a" stroke-width="0.75"/>
<line x1="616.69" y1="363.79" x2="625.06" y2="359.37" stroke="#2a2a2a" stroke-width="0.75"/>
<line x1="625.09" y1="357.20" x2="635.30" y2="362.60" stroke="#2a2a2a" stroke-width="0.75"/>
<line x1="635.30" y1="362.60" x2="645.51" y2="357.20" stroke="#2a2a2a" stroke-width="0.75"/>
<line x1="637.11" y1="363.79" x2="645.48" y2="359.37" stroke="#2a2a2a" stroke-width="0.75"/>
<line x1="645.51" y1="357.20" x2="655.72" y2="362.60" stroke="#2a2a2a" stroke-width="0.75"/>
<line x1="471.94" y1="362.60" x2="471.94" y2="371.20" stroke="#2a2a2a" stroke-width="0.75"/>
<g transform="translate(469.64 377.86) scale(0.82 1)"><text x="0" y="0" font-size="7.3" text-anchor="start" fill="#222" stroke="#222" stroke-width="0.08">CH<tspan font-size="5.11" dy="1.5">3</tspan></text></g>
<line x1="512.78" y1="362.60" x2="512.78" y2="371.20" stroke="#2a2a2a" stroke-width="0.75"/>
<g transform="translate(510.48 377.86) scale(0.82 1)"><text x="0" y="0" font-size="7.3" text-anchor="start" fill="#222" stroke="#222" stroke-width="0.08">CH<tspan font-size="5.11" dy="1.5">3</tspan></text></g>
<line x1="563.83" y1="357.20" x2="563.83" y2="349.60" stroke="#2a2a2a" stroke-width="0.75"/>
<g transform="translate(561.63 348.45) scale(0.82 1)"><text x="0" y="0" font-size="7.3" text-anchor="start" fill="#222" stroke="#222" stroke-width="0.08">CH<tspan font-size="5.11" dy="1.5">3</tspan></text></g>
<line x1="604.67" y1="357.20" x2="604.67" y2="349.60" stroke="#2a2a2a" stroke-width="0.75"/>
<g transform="translate(602.47 348.45) scale(0.82 1)"><text x="0" y="0" font-size="7.3" text-anchor="start" fill="#222" stroke="#222" stroke-width="0.08">CH<tspan font-size="5.11" dy="1.5">3</tspan></text></g>
<line x1="645.51" y1="357.20" x2="645.51" y2="349.60" stroke="#2a2a2a" stroke-width="0.75"/>
<g transform="translate(643.31 348.45) scale(0.82 1)"><text x="0" y="0" font-size="7.3" text-anchor="start" fill="#222" stroke="#222" stroke-width="0.08">CH<tspan font-size="5.11" dy="1.5">3</tspan></text></g>
<line x1="655.72" y1="362.60" x2="655.72" y2="372.70" stroke="#2a2a2a" stroke-width="0.75"/>
<line x1="657.52" y1="364.10" x2="657.52" y2="372.70" stroke="#2a2a2a" stroke-width="0.75"/>
<text x="656.02" y="378.11" font-size="6.6" text-anchor="middle" fill="#222" stroke="#222" stroke-width="0.1">O</text>
<line x1="655.72" y1="362.60" x2="662.60" y2="358.90" stroke="#2a2a2a" stroke-width="0.75"/>
<text x="665.40" y="359.61" font-size="6.6" text-anchor="middle" fill="#222" stroke="#222" stroke-width="0.1">O</text>
<line x1="668.20" y1="358.90" x2="673.20" y2="362.00" stroke="#2a2a2a" stroke-width="0.75"/>
<g transform="translate(673.20 366.16) scale(0.82 1)"><text x="0" y="0" font-size="7.3" text-anchor="start" fill="#222" stroke="#222" stroke-width="0.08">CH<tspan font-size="5.11" dy="1.5">3</tspan></text></g>
</svg>
</body></html>
